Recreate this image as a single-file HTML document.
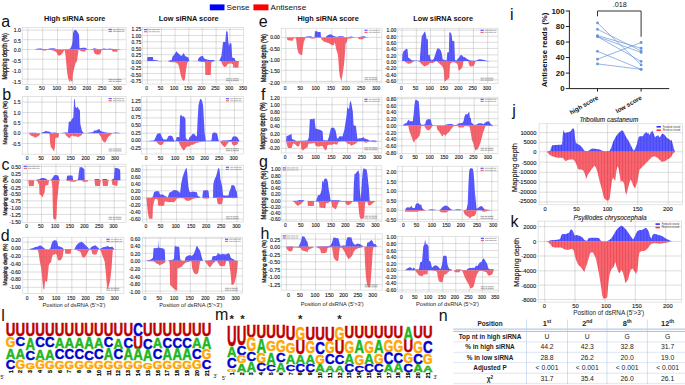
<!DOCTYPE html>
<html><head><meta charset="utf-8"><style>
html,body{margin:0;padding:0;background:#fff;}
body{width:685px;height:385px;overflow:hidden;font-family:"Liberation Sans", sans-serif;}
svg{display:block;}
text{font-family:"Liberation Sans", sans-serif;}
</style></head><body>
<svg width="685" height="385" viewBox="0 0 685 385" font-family="Liberation Sans, sans-serif">
<defs><pattern id="sb" width="3.05" height="10" patternUnits="userSpaceOnUse"><rect x="0" y="0" width="0.8" height="10" fill="#0000e0" fill-opacity="0.3"/></pattern><pattern id="sr" width="3.05" height="10" patternUnits="userSpaceOnUse"><rect x="0" y="0" width="0.8" height="10" fill="#f00018" fill-opacity="0.3"/></pattern><pattern id="sb2" width="2.7" height="10" patternUnits="userSpaceOnUse"><rect x="0" y="0" width="0.6" height="10" fill="#0000e0" fill-opacity="0.18"/></pattern><pattern id="sr2" width="2.7" height="10" patternUnits="userSpaceOnUse"><rect x="0" y="0" width="0.6" height="10" fill="#f00018" fill-opacity="0.18"/></pattern></defs>
<rect width="685" height="385" fill="#fff"/>
<clipPath id="cl_aL"><rect x="22.2" y="27.3" width="103.9" height="57.3"/></clipPath>
<g clip-path="url(#cl_aL)">
<path d="M27.82 27.3V84.6M42.69 27.3V84.6M57.56 27.3V84.6M72.58 27.3V84.6M87.6 27.3V84.6M102.78 27.3V84.6M118.11 27.3V84.6M22.2 30.07H126.1M22.2 39.72H126.1M22.2 49.53H126.1M22.2 59.19H126.1M22.2 69.15H126.1M22.2 79.12H126.1" stroke="#e3e3e3" stroke-width="0.6" fill="none"/>
<path d="M26.6 49.53L26.6 49.53L35.03 49.53L35.8 49.07L38.86 48.61L41.16 48.46L42.69 48.92L48.06 48.92L49.59 48.46L52.66 48.31L54.96 48.61L56.49 49.23L62.62 49.38L67.98 49.23L70.28 48.46L71.05 46.93L71.82 45.09L72.58 41.56L73.04 33.13L73.81 30.83L74.88 29.76L75.95 30.07L77.18 31.6L78.25 33.13L79.02 34.66L79.48 47.69L80.25 48.15L82.55 47.69L84.84 47.69L86.38 48.15L87.14 49.23L89.44 49.53L92.51 48.92L94.04 48.31L95.57 48.46L97.11 48.92L100.17 49.23L101.71 48.92L104 48.46L105.54 48.77L107.84 48.92L109.37 48.46L110.9 48.77L113.97 49.07L117.03 49.23L120.1 49.53L120.1 49.53Z" fill="#5a5aff"/>
<path d="M26.6 49.53L26.6 49.53L35.03 49.53L35.8 49.07L38.86 48.61L41.16 48.46L42.69 48.92L48.06 48.92L49.59 48.46L52.66 48.31L54.96 48.61L56.49 49.23L62.62 49.38L67.98 49.23L70.28 48.46L71.05 46.93L71.82 45.09L72.58 41.56L73.04 33.13L73.81 30.83L74.88 29.76L75.95 30.07L77.18 31.6L78.25 33.13L79.02 34.66L79.48 47.69L80.25 48.15L82.55 47.69L84.84 47.69L86.38 48.15L87.14 49.23L89.44 49.53L92.51 48.92L94.04 48.31L95.57 48.46L97.11 48.92L100.17 49.23L101.71 48.92L104 48.46L105.54 48.77L107.84 48.92L109.37 48.46L110.9 48.77L113.97 49.07L117.03 49.23L120.1 49.53L120.1 49.53Z" fill="url(#sb2)"/>
<path d="M35.03 49.53L35.03 49.53L40.39 49.99L42.69 50.3L45.76 50.76L46.52 49.69L48.82 49.69L51.89 50.3L54.96 51.22L56.49 52.29L57.56 54.59L58.79 55.82L60.32 55.36L62.16 53.82L63.39 51.52L64.61 49.99L65.23 53.06L65.68 56.89L66.45 65.32L67.22 72.98L67.98 77.58L68.75 79.88L69.52 81.41L70.28 81.87L70.74 79.12L71.36 81.41L72.28 81.87L73.04 72.98L74.12 68.39L75.65 63.02L76.87 61.49L77.95 54.59L78.41 49.99L79.48 49.99L80.25 50.76L82.55 51.52L84.84 51.52L85.61 50.76L86.38 49.99L87.91 49.69L93.28 49.69L94.04 52.29L94.81 53.82L96.34 54.59L98.64 54.59L100.17 54.59L100.94 52.29L101.71 49.99L102.47 49.69L111.67 49.99L112.44 51.22L113.97 51.83L117.03 51.83L117.8 49.99L120.1 49.53L120.1 49.53Z" fill="#f6666f"/>
<path d="M35.03 49.53L35.03 49.53L40.39 49.99L42.69 50.3L45.76 50.76L46.52 49.69L48.82 49.69L51.89 50.3L54.96 51.22L56.49 52.29L57.56 54.59L58.79 55.82L60.32 55.36L62.16 53.82L63.39 51.52L64.61 49.99L65.23 53.06L65.68 56.89L66.45 65.32L67.22 72.98L67.98 77.58L68.75 79.88L69.52 81.41L70.28 81.87L70.74 79.12L71.36 81.41L72.28 81.87L73.04 72.98L74.12 68.39L75.65 63.02L76.87 61.49L77.95 54.59L78.41 49.99L79.48 49.99L80.25 50.76L82.55 51.52L84.84 51.52L85.61 50.76L86.38 49.99L87.91 49.69L93.28 49.69L94.04 52.29L94.81 53.82L96.34 54.59L98.64 54.59L100.17 54.59L100.94 52.29L101.71 49.99L102.47 49.69L111.67 49.99L112.44 51.22L113.97 51.83L117.03 51.83L117.8 49.99L120.1 49.53L120.1 49.53Z" fill="url(#sr2)"/>
<path d="M27.82 27.3V84.6M42.69 27.3V84.6M57.56 27.3V84.6M72.58 27.3V84.6M87.6 27.3V84.6M102.78 27.3V84.6M118.11 27.3V84.6M22.2 30.07H126.1M22.2 39.72H126.1M22.2 49.53H126.1M22.2 59.19H126.1M22.2 69.15H126.1M22.2 79.12H126.1" stroke="#777" stroke-opacity="0.22" stroke-width="0.6" fill="none"/>
</g>
<rect x="22.2" y="27.3" width="103.9" height="57.3" fill="none" stroke="#cfcfcf" stroke-width="0.6"/>
<rect x="108.6" y="28.8" width="3.2" height="1.2" fill="#5a5aff"/>
<rect x="108.6" y="30.9" width="3.2" height="1.2" fill="#f6666f"/>
<path d="M112.9 29.4h11.5M112.9 31.5h11.5" stroke="#888" stroke-width="0.6" stroke-dasharray="3 0.4 5 0.4 3"/>
<path d="M108.6 79.4h13M108.6 81.3h13" stroke="#777" stroke-width="0.65" stroke-dasharray="4 0.5 2 0.4 6 0.5"/>
<text x="20.9" y="32.14" font-size="5.1" text-anchor="end" fill="#1a1a1a" stroke="#1a1a1a" stroke-width="0.12">1.0</text>
<text x="20.9" y="42.64" font-size="5.1" text-anchor="end" fill="#1a1a1a" stroke="#1a1a1a" stroke-width="0.12">0.5</text>
<text x="20.9" y="52.14" font-size="5.1" text-anchor="end" fill="#1a1a1a" stroke="#1a1a1a" stroke-width="0.12">0.0</text>
<text x="20.9" y="63.04" font-size="5.1" text-anchor="end" fill="#1a1a1a" stroke="#1a1a1a" stroke-width="0.12">-0.5</text>
<text x="20.9" y="73.44" font-size="5.1" text-anchor="end" fill="#1a1a1a" stroke="#1a1a1a" stroke-width="0.12">-1.0</text>
<text x="20.9" y="83.74" font-size="5.1" text-anchor="end" fill="#1a1a1a" stroke="#1a1a1a" stroke-width="0.12">-1.5</text>
<text x="27.02" y="90.44" font-size="5.1" text-anchor="middle" fill="#1a1a1a" stroke="#1a1a1a" stroke-width="0.12">0</text>
<text x="41.89" y="90.44" font-size="5.1" text-anchor="middle" fill="#1a1a1a" stroke="#1a1a1a" stroke-width="0.12">50</text>
<text x="56.76" y="90.44" font-size="5.1" text-anchor="middle" fill="#1a1a1a" stroke="#1a1a1a" stroke-width="0.12">100</text>
<text x="71.78" y="90.44" font-size="5.1" text-anchor="middle" fill="#1a1a1a" stroke="#1a1a1a" stroke-width="0.12">150</text>
<text x="86.8" y="90.44" font-size="5.1" text-anchor="middle" fill="#1a1a1a" stroke="#1a1a1a" stroke-width="0.12">200</text>
<text x="101.98" y="90.44" font-size="5.1" text-anchor="middle" fill="#1a1a1a" stroke="#1a1a1a" stroke-width="0.12">250</text>
<text x="117.31" y="90.44" font-size="5.1" text-anchor="middle" fill="#1a1a1a" stroke="#1a1a1a" stroke-width="0.12">300</text>
<clipPath id="cl_aR"><rect x="142.5" y="27.5" width="100.9" height="56.5"/></clipPath>
<g clip-path="url(#cl_aR)">
<path d="M147.44 27.5V84M161.39 27.5V84M175.03 27.5V84M188.82 27.5V84M202.31 27.5V84M216.11 27.5V84M229.9 27.5V84M142.5 29.37H243.4M142.5 35.5H243.4M142.5 41.79H243.4M142.5 48.23H243.4M142.5 54.66H243.4M142.5 60.95H243.4M142.5 67.08H243.4M142.5 73.52H243.4M142.5 79.95H243.4" stroke="#e3e3e3" stroke-width="0.6" fill="none"/>
<path d="M147.13 60.95L147.13 60.95L147.44 57.12L152.96 57.12L153.26 60.03L154.8 60.03L157.86 60.49L158.63 60.95L167.82 60.95L171.66 60.03L172.42 56.66L173.19 55.89L175.03 53.59L175.95 52.06L176.71 51.29L177.48 52.82L178.55 53.59L180.09 55.12L181.16 55.89L182.39 55.12L183.15 53.28L183.92 53.59L185.14 55.89L186.68 56.66L188.52 57.42L189.28 60.95L197.71 60.95L198.48 58.19L200.01 56.66L202.01 55.89L203.08 55.89L203.84 58.19L205.38 58.96L207.68 59.72L209.98 60.03L213.04 60.03L214.57 60.49L215.34 60.95L219.17 60.95L220.4 58.19L221.47 55.89L222.24 48.99L223 42.09L224.54 42.09L225.3 42.09L226.07 32.13L226.84 30.6L227.6 32.13L228.37 42.86L229.14 45.93L229.9 42.86L231.44 43.63L232.2 57.42L233.73 57.88L234.81 58.19L235.27 60.49L236.03 60.95L239.1 60.95L239.1 60.95Z" fill="#5a5aff"/>
<path d="M147.13 60.95L147.13 60.95L147.44 57.12L152.96 57.12L153.26 60.03L154.8 60.03L157.86 60.49L158.63 60.95L167.82 60.95L171.66 60.03L172.42 56.66L173.19 55.89L175.03 53.59L175.95 52.06L176.71 51.29L177.48 52.82L178.55 53.59L180.09 55.12L181.16 55.89L182.39 55.12L183.15 53.28L183.92 53.59L185.14 55.89L186.68 56.66L188.52 57.42L189.28 60.95L197.71 60.95L198.48 58.19L200.01 56.66L202.01 55.89L203.08 55.89L203.84 58.19L205.38 58.96L207.68 59.72L209.98 60.03L213.04 60.03L214.57 60.49L215.34 60.95L219.17 60.95L220.4 58.19L221.47 55.89L222.24 48.99L223 42.09L224.54 42.09L225.3 42.09L226.07 32.13L226.84 30.6L227.6 32.13L228.37 42.86L229.14 45.93L229.9 42.86L231.44 43.63L232.2 57.42L233.73 57.88L234.81 58.19L235.27 60.49L236.03 60.95L239.1 60.95L239.1 60.95Z" fill="url(#sb2)"/>
<path d="M155.56 60.95L155.56 60.95L160.93 61.41L161.69 60.95L167.82 60.95L168.59 61.87L171.66 62.17L173.96 62.33L175.03 62.02L175.49 62.79L177.79 63.55L179.01 66.62L180.09 71.98L181.16 76.58L182.39 79.65L183.61 80.87L184.38 80.41L185.14 78.12L185.76 71.98L186.68 65.85L187.29 62.79L188.52 61.56L189.28 60.95L190.05 60.95L196.95 61.25L197.71 60.95L198.48 60.95L199.25 61.56L201.55 62.02L203.84 62.02L205.07 62.79L205.38 75.05L210.74 75.05L211.2 62.79L213.04 61.56L215.34 60.95L220.71 60.95L221.47 62.02L222.24 64.32L223.46 66.16L225 67.08L226.53 66.16L227.6 64.32L229.14 63.55L231.44 63.55L232.97 64.32L233.27 67.39L238.33 67.69L238.79 62.02L239.1 60.95L239.1 60.95Z" fill="#f6666f"/>
<path d="M155.56 60.95L155.56 60.95L160.93 61.41L161.69 60.95L167.82 60.95L168.59 61.87L171.66 62.17L173.96 62.33L175.03 62.02L175.49 62.79L177.79 63.55L179.01 66.62L180.09 71.98L181.16 76.58L182.39 79.65L183.61 80.87L184.38 80.41L185.14 78.12L185.76 71.98L186.68 65.85L187.29 62.79L188.52 61.56L189.28 60.95L190.05 60.95L196.95 61.25L197.71 60.95L198.48 60.95L199.25 61.56L201.55 62.02L203.84 62.02L205.07 62.79L205.38 75.05L210.74 75.05L211.2 62.79L213.04 61.56L215.34 60.95L220.71 60.95L221.47 62.02L222.24 64.32L223.46 66.16L225 67.08L226.53 66.16L227.6 64.32L229.14 63.55L231.44 63.55L232.97 64.32L233.27 67.39L238.33 67.69L238.79 62.02L239.1 60.95L239.1 60.95Z" fill="url(#sr2)"/>
<path d="M147.44 27.5V84M161.39 27.5V84M175.03 27.5V84M188.82 27.5V84M202.31 27.5V84M216.11 27.5V84M229.9 27.5V84M142.5 29.37H243.4M142.5 35.5H243.4M142.5 41.79H243.4M142.5 48.23H243.4M142.5 54.66H243.4M142.5 60.95H243.4M142.5 67.08H243.4M142.5 73.52H243.4M142.5 79.95H243.4" stroke="#777" stroke-opacity="0.22" stroke-width="0.6" fill="none"/>
</g>
<rect x="142.5" y="27.5" width="100.9" height="56.5" fill="none" stroke="#cfcfcf" stroke-width="0.6"/>
<rect x="144" y="29" width="3.2" height="1.2" fill="#5a5aff"/>
<rect x="144" y="31.1" width="3.2" height="1.2" fill="#f6666f"/>
<path d="M148.3 29.6h11.5M148.3 31.7h11.5" stroke="#888" stroke-width="0.6" stroke-dasharray="3 0.4 5 0.4 3"/>
<path d="M225.9 78.8h13M225.9 80.7h13" stroke="#777" stroke-width="0.65" stroke-dasharray="4 0.5 2 0.4 6 0.5"/>
<text x="141.2" y="31.38" font-size="4.95" text-anchor="end" fill="#1a1a1a" stroke="#1a1a1a" stroke-width="0.12">1.25</text>
<text x="141.2" y="37.89" font-size="4.95" text-anchor="end" fill="#1a1a1a" stroke="#1a1a1a" stroke-width="0.12">1.00</text>
<text x="141.2" y="44.4" font-size="4.95" text-anchor="end" fill="#1a1a1a" stroke="#1a1a1a" stroke-width="0.12">0.75</text>
<text x="141.2" y="50.91" font-size="4.95" text-anchor="end" fill="#1a1a1a" stroke="#1a1a1a" stroke-width="0.12">0.50</text>
<text x="141.2" y="57.42" font-size="4.95" text-anchor="end" fill="#1a1a1a" stroke="#1a1a1a" stroke-width="0.12">0.25</text>
<text x="141.2" y="63.93" font-size="4.95" text-anchor="end" fill="#1a1a1a" stroke="#1a1a1a" stroke-width="0.12">0.00</text>
<text x="141.2" y="70.44" font-size="4.95" text-anchor="end" fill="#1a1a1a" stroke="#1a1a1a" stroke-width="0.12">-0.25</text>
<text x="141.2" y="76.95" font-size="4.95" text-anchor="end" fill="#1a1a1a" stroke="#1a1a1a" stroke-width="0.12">-0.50</text>
<text x="141.2" y="83.46" font-size="4.95" text-anchor="end" fill="#1a1a1a" stroke="#1a1a1a" stroke-width="0.12">-0.75</text>
<text x="146.64" y="90.38" font-size="4.95" text-anchor="middle" fill="#1a1a1a" stroke="#1a1a1a" stroke-width="0.12">0</text>
<text x="160.59" y="90.38" font-size="4.95" text-anchor="middle" fill="#1a1a1a" stroke="#1a1a1a" stroke-width="0.12">50</text>
<text x="174.23" y="90.38" font-size="4.95" text-anchor="middle" fill="#1a1a1a" stroke="#1a1a1a" stroke-width="0.12">100</text>
<text x="188.02" y="90.38" font-size="4.95" text-anchor="middle" fill="#1a1a1a" stroke="#1a1a1a" stroke-width="0.12">150</text>
<text x="201.51" y="90.38" font-size="4.95" text-anchor="middle" fill="#1a1a1a" stroke="#1a1a1a" stroke-width="0.12">200</text>
<text x="215.31" y="90.38" font-size="4.95" text-anchor="middle" fill="#1a1a1a" stroke="#1a1a1a" stroke-width="0.12">250</text>
<text x="229.1" y="90.38" font-size="4.95" text-anchor="middle" fill="#1a1a1a" stroke="#1a1a1a" stroke-width="0.12">300</text>
<text x="242.9" y="90.38" font-size="4.95" text-anchor="middle" fill="#1a1a1a" stroke="#1a1a1a" stroke-width="0.12">350</text>
<clipPath id="cl_bL"><rect x="22.2" y="96.5" width="103.9" height="57.7"/></clipPath>
<g clip-path="url(#cl_bL)">
<path d="M27.82 96.5V154.2M41.93 96.5V154.2M56.49 96.5V154.2M71.36 96.5V154.2M86.38 96.5V154.2M101.4 96.5V154.2M115.81 96.5V154.2M22.2 102.13H126.1M22.2 112.55H126.1M22.2 122.82H126.1M22.2 133.25H126.1M22.2 143.52H126.1" stroke="#e3e3e3" stroke-width="0.6" fill="none"/>
<path d="M28.9 133.25L28.9 133.25L29.66 132.79L35.8 132.79L37.33 133.25L41.16 133.25L41.93 132.48L44.23 131.71L45.76 130.95L48.06 131.56L50.36 132.02L51.12 132.79L52.66 132.79L54.96 132.48L56.49 132.79L58.79 133.25L61.85 133.09L64.92 132.48L67.98 132.48L68.75 122.06L70.74 121.29L71.82 118.99L73.35 117.46L74.12 99.37L74.88 99.07L75.34 106.73L76.41 108.26L77.18 106.73L77.95 107.5L78.71 109.03L79.94 110.56L80.25 123.59L81.01 126.66L81.78 130.49L83.31 132.79L86.38 133.25L87.91 132.79L90.98 132.48L93.28 132.02L94.04 130.49L96.34 130.49L97.87 129.42L99.41 128.96L100.17 130.49L101.71 131.56L104 132.02L105.54 132.48L107.84 132.79L112.44 133.09L115.5 132.48L118.57 132.79L120.87 133.25L120.87 133.25Z" fill="#5a5aff"/>
<path d="M28.9 133.25L28.9 133.25L29.66 132.79L35.8 132.79L37.33 133.25L41.16 133.25L41.93 132.48L44.23 131.71L45.76 130.95L48.06 131.56L50.36 132.02L51.12 132.79L52.66 132.79L54.96 132.48L56.49 132.79L58.79 133.25L61.85 133.09L64.92 132.48L67.98 132.48L68.75 122.06L70.74 121.29L71.82 118.99L73.35 117.46L74.12 99.37L74.88 99.07L75.34 106.73L76.41 108.26L77.18 106.73L77.95 107.5L78.71 109.03L79.94 110.56L80.25 123.59L81.01 126.66L81.78 130.49L83.31 132.79L86.38 133.25L87.91 132.79L90.98 132.48L93.28 132.02L94.04 130.49L96.34 130.49L97.87 129.42L99.41 128.96L100.17 130.49L101.71 131.56L104 132.02L105.54 132.48L107.84 132.79L112.44 133.09L115.5 132.48L118.57 132.79L120.87 133.25L120.87 133.25Z" fill="url(#sb2)"/>
<path d="M28.9 133.25L28.9 133.25L29.66 134.32L31.2 135.85L33.5 136.62L35.03 137.69L36.56 137.08L38.09 136.16L39.63 135.09L40.09 133.25L48.82 133.25L49.59 135.09L50.05 141.98L50.82 147.35L51.89 148.12L53.12 150.41L54.19 150.87L54.96 146.58L55.42 138.15L56.49 137.39L58.02 137.69L58.79 136.62L59.09 133.25L64.92 133.25L65.68 135.09L67.22 136.62L68.75 137.69L69.82 138.61L70.74 136.16L72.58 135.55L74.12 136.62L75.65 136.16L77.95 137.08L79.94 136.16L81.78 135.09L83.01 133.25L98.64 133.25L99.41 135.09L100.94 136.62L101.71 138.92L102.93 141.22L104 141.98L105.08 142.75L106 141.22L107.07 138.92L108.6 136.62L110.6 135.09L111.67 134.01L112.44 133.25L112.44 133.25Z" fill="#f6666f"/>
<path d="M28.9 133.25L28.9 133.25L29.66 134.32L31.2 135.85L33.5 136.62L35.03 137.69L36.56 137.08L38.09 136.16L39.63 135.09L40.09 133.25L48.82 133.25L49.59 135.09L50.05 141.98L50.82 147.35L51.89 148.12L53.12 150.41L54.19 150.87L54.96 146.58L55.42 138.15L56.49 137.39L58.02 137.69L58.79 136.62L59.09 133.25L64.92 133.25L65.68 135.09L67.22 136.62L68.75 137.69L69.82 138.61L70.74 136.16L72.58 135.55L74.12 136.62L75.65 136.16L77.95 137.08L79.94 136.16L81.78 135.09L83.01 133.25L98.64 133.25L99.41 135.09L100.94 136.62L101.71 138.92L102.93 141.22L104 141.98L105.08 142.75L106 141.22L107.07 138.92L108.6 136.62L110.6 135.09L111.67 134.01L112.44 133.25L112.44 133.25Z" fill="url(#sr2)"/>
<path d="M27.82 96.5V154.2M41.93 96.5V154.2M56.49 96.5V154.2M71.36 96.5V154.2M86.38 96.5V154.2M101.4 96.5V154.2M115.81 96.5V154.2M22.2 102.13H126.1M22.2 112.55H126.1M22.2 122.82H126.1M22.2 133.25H126.1M22.2 143.52H126.1" stroke="#777" stroke-opacity="0.22" stroke-width="0.6" fill="none"/>
</g>
<rect x="22.2" y="96.5" width="103.9" height="57.7" fill="none" stroke="#cfcfcf" stroke-width="0.6"/>
<rect x="108.6" y="98" width="3.2" height="1.2" fill="#5a5aff"/>
<rect x="108.6" y="100.1" width="3.2" height="1.2" fill="#f6666f"/>
<path d="M112.9 98.6h11.5M112.9 100.7h11.5" stroke="#888" stroke-width="0.6" stroke-dasharray="3 0.4 5 0.4 3"/>
<path d="M108.6 149h13M108.6 150.9h13" stroke="#777" stroke-width="0.65" stroke-dasharray="4 0.5 2 0.4 6 0.5"/>
<text x="20.4" y="104.28" font-size="4.95" text-anchor="end" fill="#1a1a1a" stroke="#1a1a1a" stroke-width="0.12">1.5</text>
<text x="20.4" y="114.68" font-size="4.95" text-anchor="end" fill="#1a1a1a" stroke="#1a1a1a" stroke-width="0.12">1.0</text>
<text x="20.4" y="125.08" font-size="4.95" text-anchor="end" fill="#1a1a1a" stroke="#1a1a1a" stroke-width="0.12">0.5</text>
<text x="20.4" y="135.48" font-size="4.95" text-anchor="end" fill="#1a1a1a" stroke="#1a1a1a" stroke-width="0.12">0.0</text>
<text x="20.4" y="145.88" font-size="4.95" text-anchor="end" fill="#1a1a1a" stroke="#1a1a1a" stroke-width="0.12">-0.5</text>
<text x="27.02" y="159.58" font-size="4.95" text-anchor="middle" fill="#1a1a1a" stroke="#1a1a1a" stroke-width="0.12">0</text>
<text x="41.13" y="159.58" font-size="4.95" text-anchor="middle" fill="#1a1a1a" stroke="#1a1a1a" stroke-width="0.12">50</text>
<text x="55.69" y="159.58" font-size="4.95" text-anchor="middle" fill="#1a1a1a" stroke="#1a1a1a" stroke-width="0.12">100</text>
<text x="70.56" y="159.58" font-size="4.95" text-anchor="middle" fill="#1a1a1a" stroke="#1a1a1a" stroke-width="0.12">150</text>
<text x="85.58" y="159.58" font-size="4.95" text-anchor="middle" fill="#1a1a1a" stroke="#1a1a1a" stroke-width="0.12">200</text>
<text x="100.6" y="159.58" font-size="4.95" text-anchor="middle" fill="#1a1a1a" stroke="#1a1a1a" stroke-width="0.12">250</text>
<text x="115.01" y="159.58" font-size="4.95" text-anchor="middle" fill="#1a1a1a" stroke="#1a1a1a" stroke-width="0.12">300</text>
<clipPath id="cl_bR"><rect x="141.5" y="96.6" width="101.9" height="57.4"/></clipPath>
<g clip-path="url(#cl_bR)">
<path d="M146.82 96.6V154M161.23 96.6V154M175.95 96.6V154M190.82 96.6V154M205.38 96.6V154M219.94 96.6V154M234.5 96.6V154M141.5 102.13H243.4M141.5 110.1H243.4M141.5 117.92H243.4M141.5 125.58H243.4M141.5 133.25H243.4M141.5 141.22H243.4M141.5 148.88H243.4" stroke="#e3e3e3" stroke-width="0.6" fill="none"/>
<path d="M147.13 141.22L147.13 141.22L150.2 140.76L154.03 140.45L155.56 137.39L157.09 134.01L158.63 133.25L160.62 133.55L161.69 136.62L163.23 139.23L165.52 139.68L167.06 138.92L168.28 136.16L170.12 135.55L172.42 136.16L173.5 138.92L173.96 140.45L174.72 140.76L175.95 140.45L176.56 137.08L178.55 137.08L179.32 137.39L180.09 115.93L181.16 114.39L182.08 116.69L183.15 115.93L184.68 117.46L185.45 118.99L185.76 137.39L186.98 139.68L188.52 139.68L189.74 137.08L190.82 136.16L192.35 134.32L193.88 133.55L195.41 135.55L196.95 136.62L197.71 118.99L198.48 105.2L199.25 102.13L200.01 99.37L200.78 99.07L202.01 100.6L203.08 105.2L203.84 118.99L204.61 132.79L205.38 137.39L205.68 140.45L208.44 140.76L210.74 140.45L211.51 140.14L212.28 133.55L213.81 132.48L216.11 132.79L217.33 134.32L218.41 139.68L219.17 141.22L220.71 141.22L222.24 140.45L224.54 140.45L228.37 140.14L231.44 139.68L232.66 137.08L233.73 136.16L236.03 136.62L237.57 137.39L239.1 140.45L239.41 141.22L239.41 141.22Z" fill="#5a5aff"/>
<path d="M147.13 141.22L147.13 141.22L150.2 140.76L154.03 140.45L155.56 137.39L157.09 134.01L158.63 133.25L160.62 133.55L161.69 136.62L163.23 139.23L165.52 139.68L167.06 138.92L168.28 136.16L170.12 135.55L172.42 136.16L173.5 138.92L173.96 140.45L174.72 140.76L175.95 140.45L176.56 137.08L178.55 137.08L179.32 137.39L180.09 115.93L181.16 114.39L182.08 116.69L183.15 115.93L184.68 117.46L185.45 118.99L185.76 137.39L186.98 139.68L188.52 139.68L189.74 137.08L190.82 136.16L192.35 134.32L193.88 133.55L195.41 135.55L196.95 136.62L197.71 118.99L198.48 105.2L199.25 102.13L200.01 99.37L200.78 99.07L202.01 100.6L203.08 105.2L203.84 118.99L204.61 132.79L205.38 137.39L205.68 140.45L208.44 140.76L210.74 140.45L211.51 140.14L212.28 133.55L213.81 132.48L216.11 132.79L217.33 134.32L218.41 139.68L219.17 141.22L220.71 141.22L222.24 140.45L224.54 140.45L228.37 140.14L231.44 139.68L232.66 137.08L233.73 136.16L236.03 136.62L237.57 137.39L239.1 140.45L239.41 141.22L239.41 141.22Z" fill="url(#sb2)"/>
<path d="M156.33 141.22L156.33 141.22L157.09 142.75L158.63 144.28L160.16 145.05L161.69 145.05L163.23 143.52L163.99 142.29L165.52 141.68L170.12 141.68L173.96 141.98L174.72 141.22L178.55 141.22L179.32 143.52L180.85 146.58L182.39 148.88L183.61 150.41L184.68 149.65L185.45 148.12L186.98 146.58L189.28 146.58L190.82 145.05L193.12 144.74L195.41 143.21L197.41 142.75L199.25 142.29L202.31 141.68L205.38 141.22L219.94 141.22L220.71 142.75L222.24 145.05L223.77 146.58L225 147.04L226.07 145.82L227.6 143.52L229.14 141.68L231.44 141.98L232.2 144.28L233.73 145.82L236.03 145.05L237.57 144.28L238.33 141.98L239.1 141.22L239.1 141.22Z" fill="#f6666f"/>
<path d="M156.33 141.22L156.33 141.22L157.09 142.75L158.63 144.28L160.16 145.05L161.69 145.05L163.23 143.52L163.99 142.29L165.52 141.68L170.12 141.68L173.96 141.98L174.72 141.22L178.55 141.22L179.32 143.52L180.85 146.58L182.39 148.88L183.61 150.41L184.68 149.65L185.45 148.12L186.98 146.58L189.28 146.58L190.82 145.05L193.12 144.74L195.41 143.21L197.41 142.75L199.25 142.29L202.31 141.68L205.38 141.22L219.94 141.22L220.71 142.75L222.24 145.05L223.77 146.58L225 147.04L226.07 145.82L227.6 143.52L229.14 141.68L231.44 141.98L232.2 144.28L233.73 145.82L236.03 145.05L237.57 144.28L238.33 141.98L239.1 141.22L239.1 141.22Z" fill="url(#sr2)"/>
<path d="M146.82 96.6V154M161.23 96.6V154M175.95 96.6V154M190.82 96.6V154M205.38 96.6V154M219.94 96.6V154M234.5 96.6V154M141.5 102.13H243.4M141.5 110.1H243.4M141.5 117.92H243.4M141.5 125.58H243.4M141.5 133.25H243.4M141.5 141.22H243.4M141.5 148.88H243.4" stroke="#777" stroke-opacity="0.22" stroke-width="0.6" fill="none"/>
</g>
<rect x="141.5" y="96.6" width="101.9" height="57.4" fill="none" stroke="#cfcfcf" stroke-width="0.6"/>
<rect x="225.9" y="98.1" width="3.2" height="1.2" fill="#5a5aff"/>
<rect x="225.9" y="100.2" width="3.2" height="1.2" fill="#f6666f"/>
<path d="M230.2 98.7h11.5M230.2 100.8h11.5" stroke="#888" stroke-width="0.6" stroke-dasharray="3 0.4 5 0.4 3"/>
<path d="M225.9 148.8h13M225.9 150.7h13" stroke="#777" stroke-width="0.65" stroke-dasharray="4 0.5 2 0.4 6 0.5"/>
<text x="140.8" y="103.08" font-size="4.95" text-anchor="end" fill="#1a1a1a" stroke="#1a1a1a" stroke-width="0.12">1.25</text>
<text x="140.8" y="110.96" font-size="4.95" text-anchor="end" fill="#1a1a1a" stroke="#1a1a1a" stroke-width="0.12">1.00</text>
<text x="140.8" y="118.84" font-size="4.95" text-anchor="end" fill="#1a1a1a" stroke="#1a1a1a" stroke-width="0.12">0.75</text>
<text x="140.8" y="126.72" font-size="4.95" text-anchor="end" fill="#1a1a1a" stroke="#1a1a1a" stroke-width="0.12">0.50</text>
<text x="140.8" y="134.6" font-size="4.95" text-anchor="end" fill="#1a1a1a" stroke="#1a1a1a" stroke-width="0.12">0.25</text>
<text x="140.8" y="142.48" font-size="4.95" text-anchor="end" fill="#1a1a1a" stroke="#1a1a1a" stroke-width="0.12">0.00</text>
<text x="140.8" y="150.36" font-size="4.95" text-anchor="end" fill="#1a1a1a" stroke="#1a1a1a" stroke-width="0.12">-0.25</text>
<text x="146.02" y="159.58" font-size="4.95" text-anchor="middle" fill="#1a1a1a" stroke="#1a1a1a" stroke-width="0.12">0</text>
<text x="160.43" y="159.58" font-size="4.95" text-anchor="middle" fill="#1a1a1a" stroke="#1a1a1a" stroke-width="0.12">50</text>
<text x="175.15" y="159.58" font-size="4.95" text-anchor="middle" fill="#1a1a1a" stroke="#1a1a1a" stroke-width="0.12">100</text>
<text x="190.02" y="159.58" font-size="4.95" text-anchor="middle" fill="#1a1a1a" stroke="#1a1a1a" stroke-width="0.12">150</text>
<text x="204.58" y="159.58" font-size="4.95" text-anchor="middle" fill="#1a1a1a" stroke="#1a1a1a" stroke-width="0.12">200</text>
<text x="219.14" y="159.58" font-size="4.95" text-anchor="middle" fill="#1a1a1a" stroke="#1a1a1a" stroke-width="0.12">250</text>
<text x="233.7" y="159.58" font-size="4.95" text-anchor="middle" fill="#1a1a1a" stroke="#1a1a1a" stroke-width="0.12">300</text>
<clipPath id="cl_cL"><rect x="22.2" y="164.2" width="103.8" height="58.3"/></clipPath>
<g clip-path="url(#cl_cL)">
<path d="M27.45 164.2V222.5M41.47 164.2V222.5M55.96 164.2V222.5M70.61 164.2V222.5M85.09 164.2V222.5M99.89 164.2V222.5M114.23 164.2V222.5M22.2 166.43H126M22.2 173.44H126M22.2 180.14H126M22.2 187.15H126M22.2 193.85H126M22.2 200.86H126M22.2 207.71H126M22.2 214.41H126" stroke="#e3e3e3" stroke-width="0.6" fill="none"/>
<path d="M35.24 180.14L35.24 180.14L36.8 179.67L39.14 179.36L40.69 178.58L41.47 177.96L43.81 178.11L45.37 178.58L46.61 179.36L47.7 180.14L50.04 180.14L51.6 179.36L53.16 177.02L53.94 175.46L55.49 175L57.52 175.15L58.61 176.24L59.08 179.36L60.17 180.14L66.4 180.14L67.18 175.77L68.74 175.46L71.85 175.46L72.63 175.77L73.1 180.14L76.53 180.14L78.08 179.36L78.86 172.35L79.64 167.36L81.98 167.36L83.54 168.45L84.32 169.23L84.63 180.14L94.44 180.14L94.91 179.05L99.11 179.05L99.89 180.14L102.23 180.14L102.7 179.05L106.9 179.05L107.68 180.14L111.58 180.14L112.36 179.36L113.91 178.58L114.69 167.67L116.25 167.99L118.59 168.45L120.15 170.01L120.46 180.14L120.46 180.14Z" fill="#5a5aff"/>
<path d="M35.24 180.14L35.24 180.14L36.8 179.67L39.14 179.36L40.69 178.58L41.47 177.96L43.81 178.11L45.37 178.58L46.61 179.36L47.7 180.14L50.04 180.14L51.6 179.36L53.16 177.02L53.94 175.46L55.49 175L57.52 175.15L58.61 176.24L59.08 179.36L60.17 180.14L66.4 180.14L67.18 175.77L68.74 175.46L71.85 175.46L72.63 175.77L73.1 180.14L76.53 180.14L78.08 179.36L78.86 172.35L79.64 167.36L81.98 167.36L83.54 168.45L84.32 169.23L84.63 180.14L94.44 180.14L94.91 179.05L99.11 179.05L99.89 180.14L102.23 180.14L102.7 179.05L106.9 179.05L107.68 180.14L111.58 180.14L112.36 179.36L113.91 178.58L114.69 167.67L116.25 167.99L118.59 168.45L120.15 170.01L120.46 180.14L120.46 180.14Z" fill="url(#sb2)"/>
<path d="M28.23 180.14L28.23 180.14L29.01 185.9L33.68 185.9L34.15 181.69L34.46 180.14L36.02 180.14L37.58 181.69L39.14 184.81L39.45 194.16L40.69 194.94L41.47 196.03L42.25 197.27L43.03 196.49L43.81 193.38L44.59 192.6L45.06 186.37L46.15 185.59L46.93 184.81L48.17 185.59L48.8 181.69L49.26 180.14L50.82 180.14L51.6 180.92L52.38 187.93L52.85 209.74L53.16 217.84L53.94 219.4L55.49 219.4L56.27 218.3L56.58 214.41L57.05 201.95L57.83 194.16L58.61 186.37L59.39 180.45L60.17 180.14L66.4 180.14L67.18 180.92L70.29 181.23L71.07 181.69L74.97 181.69L76.53 180.92L77.3 180.14L81.98 180.14L82.76 181.69L87.43 181.69L88.21 180.14L94.44 180.14L95.22 185.9L99.89 185.9L100.67 180.92L101.45 180.14L102.23 180.14L103.01 185.9L107.68 185.9L108.46 180.92L109.24 180.14L111.58 180.14L112.36 184.81L114.69 185.28L116.25 185.9L117.34 185.59L117.81 180.92L118.59 180.14L118.59 180.14Z" fill="#f6666f"/>
<path d="M28.23 180.14L28.23 180.14L29.01 185.9L33.68 185.9L34.15 181.69L34.46 180.14L36.02 180.14L37.58 181.69L39.14 184.81L39.45 194.16L40.69 194.94L41.47 196.03L42.25 197.27L43.03 196.49L43.81 193.38L44.59 192.6L45.06 186.37L46.15 185.59L46.93 184.81L48.17 185.59L48.8 181.69L49.26 180.14L50.82 180.14L51.6 180.92L52.38 187.93L52.85 209.74L53.16 217.84L53.94 219.4L55.49 219.4L56.27 218.3L56.58 214.41L57.05 201.95L57.83 194.16L58.61 186.37L59.39 180.45L60.17 180.14L66.4 180.14L67.18 180.92L70.29 181.23L71.07 181.69L74.97 181.69L76.53 180.92L77.3 180.14L81.98 180.14L82.76 181.69L87.43 181.69L88.21 180.14L94.44 180.14L95.22 185.9L99.89 185.9L100.67 180.92L101.45 180.14L102.23 180.14L103.01 185.9L107.68 185.9L108.46 180.92L109.24 180.14L111.58 180.14L112.36 184.81L114.69 185.28L116.25 185.9L117.34 185.59L117.81 180.92L118.59 180.14L118.59 180.14Z" fill="url(#sr2)"/>
<path d="M27.45 164.2V222.5M41.47 164.2V222.5M55.96 164.2V222.5M70.61 164.2V222.5M85.09 164.2V222.5M99.89 164.2V222.5M114.23 164.2V222.5M22.2 166.43H126M22.2 173.44H126M22.2 180.14H126M22.2 187.15H126M22.2 193.85H126M22.2 200.86H126M22.2 207.71H126M22.2 214.41H126" stroke="#777" stroke-opacity="0.22" stroke-width="0.6" fill="none"/>
</g>
<rect x="22.2" y="164.2" width="103.8" height="58.3" fill="none" stroke="#cfcfcf" stroke-width="0.6"/>
<rect x="23.7" y="165.7" width="3.2" height="1.2" fill="#5a5aff"/>
<rect x="23.7" y="167.8" width="3.2" height="1.2" fill="#f6666f"/>
<path d="M28 166.3h11.5M28 168.4h11.5" stroke="#888" stroke-width="0.6" stroke-dasharray="3 0.4 5 0.4 3"/>
<path d="M108.5 217.3h13M108.5 219.2h13" stroke="#777" stroke-width="0.65" stroke-dasharray="4 0.5 2 0.4 6 0.5"/>
<text x="20.8" y="168.68" font-size="4.95" text-anchor="end" fill="#1a1a1a" stroke="#1a1a1a" stroke-width="0.12">0.50</text>
<text x="20.8" y="175.62" font-size="4.95" text-anchor="end" fill="#1a1a1a" stroke="#1a1a1a" stroke-width="0.12">0.25</text>
<text x="20.8" y="182.56" font-size="4.95" text-anchor="end" fill="#1a1a1a" stroke="#1a1a1a" stroke-width="0.12">0.00</text>
<text x="20.8" y="189.5" font-size="4.95" text-anchor="end" fill="#1a1a1a" stroke="#1a1a1a" stroke-width="0.12">-0.25</text>
<text x="20.8" y="196.44" font-size="4.95" text-anchor="end" fill="#1a1a1a" stroke="#1a1a1a" stroke-width="0.12">-0.50</text>
<text x="20.8" y="203.38" font-size="4.95" text-anchor="end" fill="#1a1a1a" stroke="#1a1a1a" stroke-width="0.12">-0.75</text>
<text x="20.8" y="210.32" font-size="4.95" text-anchor="end" fill="#1a1a1a" stroke="#1a1a1a" stroke-width="0.12">-1.00</text>
<text x="20.8" y="217.26" font-size="4.95" text-anchor="end" fill="#1a1a1a" stroke="#1a1a1a" stroke-width="0.12">-1.25</text>
<text x="20.8" y="224.2" font-size="4.95" text-anchor="end" fill="#1a1a1a" stroke="#1a1a1a" stroke-width="0.12">-1.50</text>
<text x="26.65" y="227.98" font-size="4.95" text-anchor="middle" fill="#1a1a1a" stroke="#1a1a1a" stroke-width="0.12">0</text>
<text x="40.67" y="227.98" font-size="4.95" text-anchor="middle" fill="#1a1a1a" stroke="#1a1a1a" stroke-width="0.12">50</text>
<text x="55.16" y="227.98" font-size="4.95" text-anchor="middle" fill="#1a1a1a" stroke="#1a1a1a" stroke-width="0.12">100</text>
<text x="69.81" y="227.98" font-size="4.95" text-anchor="middle" fill="#1a1a1a" stroke="#1a1a1a" stroke-width="0.12">150</text>
<text x="84.29" y="227.98" font-size="4.95" text-anchor="middle" fill="#1a1a1a" stroke="#1a1a1a" stroke-width="0.12">200</text>
<text x="99.09" y="227.98" font-size="4.95" text-anchor="middle" fill="#1a1a1a" stroke="#1a1a1a" stroke-width="0.12">250</text>
<text x="113.43" y="227.98" font-size="4.95" text-anchor="middle" fill="#1a1a1a" stroke="#1a1a1a" stroke-width="0.12">300</text>
<clipPath id="cl_cR"><rect x="142.2" y="165.2" width="101.1" height="56.8"/></clipPath>
<g clip-path="url(#cl_cR)">
<path d="M146.67 165.2V222M161.39 165.2V222M176.56 165.2V222M191.89 165.2V222M206.91 165.2V222M221.93 165.2V222M237.11 165.2V222M142.2 169.82H243.3M142.2 177.03H243.3M142.2 183.93H243.3M142.2 190.82H243.3M142.2 197.72H243.3M142.2 205.08H243.3M142.2 212.28H243.3M142.2 219.18H243.3" stroke="#e3e3e3" stroke-width="0.6" fill="none"/>
<path d="M151.73 197.72L151.73 197.72L152.96 196.19L154.03 192.36L155.56 191.28L159.09 191.28L159.7 193.89L160.93 194.66L162.46 194.35L163.99 195.42L166.29 196.5L167.82 197.42L168.59 194.66L169.36 192.82L171.66 191.59L173.96 190.06L176.25 190.36L178.55 191.59L180.09 193.12L181.16 183.93L182.39 177.8L183.92 173.2L185.45 169.36L186.52 167.83L187.29 173.2L187.75 179.33L188.52 186.99L189.28 191.59L190.82 192.36L193.12 191.59L194.65 191.9L196.95 192.36L197.71 195.88L199.25 196.5L200.78 197.72L202.31 197.72L203.08 190.82L205.38 190.36L207.68 190.36L208.44 191.28L209.21 197.72L213.04 197.72L213.35 183.93L214.57 179.33L216.11 176.26L217.64 170.13L218.41 167.83L219.48 169.36L220.4 179.33L221.01 181.63L222.24 186.99L223 194.66L223.77 195.42L228.37 195.42L229.14 192.36L230.67 188.52L231.44 185.15L233.73 185.15L234.81 186.23L236.03 190.82L236.8 191.59L237.57 197.72L237.57 197.72Z" fill="#5a5aff"/>
<path d="M151.73 197.72L151.73 197.72L152.96 196.19L154.03 192.36L155.56 191.28L159.09 191.28L159.7 193.89L160.93 194.66L162.46 194.35L163.99 195.42L166.29 196.5L167.82 197.42L168.59 194.66L169.36 192.82L171.66 191.59L173.96 190.06L176.25 190.36L178.55 191.59L180.09 193.12L181.16 183.93L182.39 177.8L183.92 173.2L185.45 169.36L186.52 167.83L187.29 173.2L187.75 179.33L188.52 186.99L189.28 191.59L190.82 192.36L193.12 191.59L194.65 191.9L196.95 192.36L197.71 195.88L199.25 196.5L200.78 197.72L202.31 197.72L203.08 190.82L205.38 190.36L207.68 190.36L208.44 191.28L209.21 197.72L213.04 197.72L213.35 183.93L214.57 179.33L216.11 176.26L217.64 170.13L218.41 167.83L219.48 169.36L220.4 179.33L221.01 181.63L222.24 186.99L223 194.66L223.77 195.42L228.37 195.42L229.14 192.36L230.67 188.52L231.44 185.15L233.73 185.15L234.81 186.23L236.03 190.82L236.8 191.59L237.57 197.72L237.57 197.72Z" fill="url(#sb2)"/>
<path d="M146.36 197.72L146.36 197.72L147.13 205.39L147.9 213.05L148.66 216.88L149.43 218.87L152.5 218.87L152.96 206.92L154.03 202.32L154.8 199.25L155.56 198.95L157.09 198.95L157.86 200.79L158.17 205.69L163.99 205.69L164.76 201.55L166.29 201.55L167.82 202.01L169.36 202.32L170.89 202.01L173.96 202.32L175.49 200.79L176.25 199.25L177.02 198.49L180.85 198.03L183.92 198.49L185.45 200.02L186.98 200.79L189.28 200.79L190.82 200.02L192.35 198.95L193.88 198.49L196.95 198.03L197.71 197.72L202.31 197.72L203.84 198.49L208.44 198.49L209.21 197.72L216.87 197.72L217.33 203.09L218.41 204.16L221.47 204.16L222.24 203.09L223 198.49L223.77 197.72L231.44 197.72L232.97 198.18L236.03 198.03L236.8 197.72L236.8 197.72Z" fill="#f6666f"/>
<path d="M146.36 197.72L146.36 197.72L147.13 205.39L147.9 213.05L148.66 216.88L149.43 218.87L152.5 218.87L152.96 206.92L154.03 202.32L154.8 199.25L155.56 198.95L157.09 198.95L157.86 200.79L158.17 205.69L163.99 205.69L164.76 201.55L166.29 201.55L167.82 202.01L169.36 202.32L170.89 202.01L173.96 202.32L175.49 200.79L176.25 199.25L177.02 198.49L180.85 198.03L183.92 198.49L185.45 200.02L186.98 200.79L189.28 200.79L190.82 200.02L192.35 198.95L193.88 198.49L196.95 198.03L197.71 197.72L202.31 197.72L203.84 198.49L208.44 198.49L209.21 197.72L216.87 197.72L217.33 203.09L218.41 204.16L221.47 204.16L222.24 203.09L223 198.49L223.77 197.72L231.44 197.72L232.97 198.18L236.03 198.03L236.8 197.72L236.8 197.72Z" fill="url(#sr2)"/>
<path d="M146.67 165.2V222M161.39 165.2V222M176.56 165.2V222M191.89 165.2V222M206.91 165.2V222M221.93 165.2V222M237.11 165.2V222M142.2 169.82H243.3M142.2 177.03H243.3M142.2 183.93H243.3M142.2 190.82H243.3M142.2 197.72H243.3M142.2 205.08H243.3M142.2 212.28H243.3M142.2 219.18H243.3" stroke="#777" stroke-opacity="0.22" stroke-width="0.6" fill="none"/>
</g>
<rect x="142.2" y="165.2" width="101.1" height="56.8" fill="none" stroke="#cfcfcf" stroke-width="0.6"/>
<rect x="225.8" y="166.7" width="3.2" height="1.2" fill="#5a5aff"/>
<rect x="225.8" y="168.8" width="3.2" height="1.2" fill="#f6666f"/>
<path d="M230.1 167.3h11.5M230.1 169.4h11.5" stroke="#888" stroke-width="0.6" stroke-dasharray="3 0.4 5 0.4 3"/>
<path d="M225.8 216.8h13M225.8 218.7h13" stroke="#777" stroke-width="0.65" stroke-dasharray="4 0.5 2 0.4 6 0.5"/>
<text x="140.6" y="171.78" font-size="4.95" text-anchor="end" fill="#1a1a1a" stroke="#1a1a1a" stroke-width="0.12">0.80</text>
<text x="140.6" y="178.85" font-size="4.95" text-anchor="end" fill="#1a1a1a" stroke="#1a1a1a" stroke-width="0.12">0.60</text>
<text x="140.6" y="185.92" font-size="4.95" text-anchor="end" fill="#1a1a1a" stroke="#1a1a1a" stroke-width="0.12">0.40</text>
<text x="140.6" y="192.99" font-size="4.95" text-anchor="end" fill="#1a1a1a" stroke="#1a1a1a" stroke-width="0.12">0.20</text>
<text x="140.6" y="200.06" font-size="4.95" text-anchor="end" fill="#1a1a1a" stroke="#1a1a1a" stroke-width="0.12">0.00</text>
<text x="140.6" y="207.13" font-size="4.95" text-anchor="end" fill="#1a1a1a" stroke="#1a1a1a" stroke-width="0.12">-0.20</text>
<text x="140.6" y="214.2" font-size="4.95" text-anchor="end" fill="#1a1a1a" stroke="#1a1a1a" stroke-width="0.12">-0.40</text>
<text x="140.6" y="221.27" font-size="4.95" text-anchor="end" fill="#1a1a1a" stroke="#1a1a1a" stroke-width="0.12">-0.60</text>
<text x="145.87" y="227.98" font-size="4.95" text-anchor="middle" fill="#1a1a1a" stroke="#1a1a1a" stroke-width="0.12">0</text>
<text x="160.59" y="227.98" font-size="4.95" text-anchor="middle" fill="#1a1a1a" stroke="#1a1a1a" stroke-width="0.12">50</text>
<text x="175.76" y="227.98" font-size="4.95" text-anchor="middle" fill="#1a1a1a" stroke="#1a1a1a" stroke-width="0.12">100</text>
<text x="191.09" y="227.98" font-size="4.95" text-anchor="middle" fill="#1a1a1a" stroke="#1a1a1a" stroke-width="0.12">150</text>
<text x="206.11" y="227.98" font-size="4.95" text-anchor="middle" fill="#1a1a1a" stroke="#1a1a1a" stroke-width="0.12">200</text>
<text x="221.13" y="227.98" font-size="4.95" text-anchor="middle" fill="#1a1a1a" stroke="#1a1a1a" stroke-width="0.12">250</text>
<text x="236.31" y="227.98" font-size="4.95" text-anchor="middle" fill="#1a1a1a" stroke="#1a1a1a" stroke-width="0.12">300</text>
<clipPath id="cl_dL"><rect x="22.8" y="237.2" width="101.1" height="56.3"/></clipPath>
<g clip-path="url(#cl_dL)">
<path d="M27.82 237.2V293.5M41.93 237.2V293.5M56.95 237.2V293.5M71.82 237.2V293.5M86.38 237.2V293.5M100.94 237.2V293.5M115.5 237.2V293.5M22.8 242.13H123.9M22.8 249.49H123.9M22.8 256.69H123.9M22.8 264.36H123.9M22.8 272.02H123.9M22.8 279.68H123.9M22.8 287.35H123.9" stroke="#e3e3e3" stroke-width="0.6" fill="none"/>
<path d="M28.9 249.49L28.9 249.49L31.2 248.57L33.5 247.96L35.03 247.04L37.33 246.73L38.86 245.96L40.09 245.2L41.16 245.96L42.69 246.73L44.23 248.26L45.76 249.18L48.82 249.49L50.36 248.26L51.89 242.9L52.66 241.36L54.19 240.29L56.49 240.6L57.56 242.9L58.02 245.96L60.32 246.73L62.16 247.5L63.69 249.03L64.92 249.49L66.45 249.03L71.05 249.03L71.82 249.49L74.12 249.49L74.88 248.26L76.41 245.2L77.95 243.66L79.48 242.44L81.78 241.82L83.31 242.9L84.84 244.43L86.38 245.96L87.91 247.5L89.14 249.03L90.21 248.57L91.28 247.04L93.28 245.96L95.27 245.2L96.8 246.42L97.87 247.5L99.41 249.03L100.94 248.57L102.47 247.5L104 247.04L106.3 246.73L107.53 245.5L108.6 246.73L110.14 247.04L112.44 246.73L113.66 248.26L114.73 249.49L114.73 249.49Z" fill="#5a5aff"/>
<path d="M28.9 249.49L28.9 249.49L31.2 248.57L33.5 247.96L35.03 247.04L37.33 246.73L38.86 245.96L40.09 245.2L41.16 245.96L42.69 246.73L44.23 248.26L45.76 249.18L48.82 249.49L50.36 248.26L51.89 242.9L52.66 241.36L54.19 240.29L56.49 240.6L57.56 242.9L58.02 245.96L60.32 246.73L62.16 247.5L63.69 249.03L64.92 249.49L66.45 249.03L71.05 249.03L71.82 249.49L74.12 249.49L74.88 248.26L76.41 245.2L77.95 243.66L79.48 242.44L81.78 241.82L83.31 242.9L84.84 244.43L86.38 245.96L87.91 247.5L89.14 249.03L90.21 248.57L91.28 247.04L93.28 245.96L95.27 245.2L96.8 246.42L97.87 247.5L99.41 249.03L100.94 248.57L102.47 247.5L104 247.04L106.3 246.73L107.53 245.5L108.6 246.73L110.14 247.04L112.44 246.73L113.66 248.26L114.73 249.49L114.73 249.49Z" fill="url(#sb2)"/>
<path d="M28.9 249.49L28.9 249.49L30.43 250.1L34.26 250.1L36.56 249.8L38.09 250.56L38.86 254.39L39.63 260.52L40.39 264.36L41.16 268.19L41.93 275.85L42.69 283.52L43.46 288.88L44.23 289.65L44.69 285.05L45.3 280.45L46.22 281.98L47.29 280.45L48.06 272.79L48.82 265.12L49.59 263.59L51.12 262.06L51.89 257.46L52.66 255.16L54.19 254.39L55.72 253.63L56.95 255.16L57.56 258.99L58.48 260.52L60.32 260.22L61.55 258.99L62.62 256.69L63.39 251.33L64.15 249.8L64.92 249.49L65.23 253.63L70.74 253.63L71.05 249.49L75.65 249.49L77.18 250.56L79.48 251.33L81.01 252.86L81.78 255.93L83.01 257.46L84.54 257.46L85.61 255.93L87.14 253.63L88.22 251.33L89.44 249.8L90.21 249.49L90.98 249.49L91.74 251.33L92.51 254.39L96.34 254.39L97.11 252.86L97.87 250.56L98.64 249.49L100.17 249.49L100.94 251.33L102.01 254.39L103.24 257.46L104.77 262.06L105.54 269.72L106.3 278.92L107.07 288.12L107.53 288.88L108.6 286.58L110.14 280.45L110.9 274.32L111.67 266.66L112.13 258.99L112.74 251.33L113.2 249.49L113.2 249.49Z" fill="#f6666f"/>
<path d="M28.9 249.49L28.9 249.49L30.43 250.1L34.26 250.1L36.56 249.8L38.09 250.56L38.86 254.39L39.63 260.52L40.39 264.36L41.16 268.19L41.93 275.85L42.69 283.52L43.46 288.88L44.23 289.65L44.69 285.05L45.3 280.45L46.22 281.98L47.29 280.45L48.06 272.79L48.82 265.12L49.59 263.59L51.12 262.06L51.89 257.46L52.66 255.16L54.19 254.39L55.72 253.63L56.95 255.16L57.56 258.99L58.48 260.52L60.32 260.22L61.55 258.99L62.62 256.69L63.39 251.33L64.15 249.8L64.92 249.49L65.23 253.63L70.74 253.63L71.05 249.49L75.65 249.49L77.18 250.56L79.48 251.33L81.01 252.86L81.78 255.93L83.01 257.46L84.54 257.46L85.61 255.93L87.14 253.63L88.22 251.33L89.44 249.8L90.21 249.49L90.98 249.49L91.74 251.33L92.51 254.39L96.34 254.39L97.11 252.86L97.87 250.56L98.64 249.49L100.17 249.49L100.94 251.33L102.01 254.39L103.24 257.46L104.77 262.06L105.54 269.72L106.3 278.92L107.07 288.12L107.53 288.88L108.6 286.58L110.14 280.45L110.9 274.32L111.67 266.66L112.13 258.99L112.74 251.33L113.2 249.49L113.2 249.49Z" fill="url(#sr2)"/>
<path d="M27.82 237.2V293.5M41.93 237.2V293.5M56.95 237.2V293.5M71.82 237.2V293.5M86.38 237.2V293.5M100.94 237.2V293.5M115.5 237.2V293.5M22.8 242.13H123.9M22.8 249.49H123.9M22.8 256.69H123.9M22.8 264.36H123.9M22.8 272.02H123.9M22.8 279.68H123.9M22.8 287.35H123.9" stroke="#777" stroke-opacity="0.22" stroke-width="0.6" fill="none"/>
</g>
<rect x="22.8" y="237.2" width="101.1" height="56.3" fill="none" stroke="#cfcfcf" stroke-width="0.6"/>
<rect x="106.4" y="238.7" width="3.2" height="1.2" fill="#5a5aff"/>
<rect x="106.4" y="240.8" width="3.2" height="1.2" fill="#f6666f"/>
<path d="M110.7 239.3h11.5M110.7 241.4h11.5" stroke="#888" stroke-width="0.6" stroke-dasharray="3 0.4 5 0.4 3"/>
<path d="M106.4 288.3h13M106.4 290.2h13" stroke="#777" stroke-width="0.65" stroke-dasharray="4 0.5 2 0.4 6 0.5"/>
<text x="20.8" y="242.48" font-size="4.95" text-anchor="end" fill="#1a1a1a" stroke="#1a1a1a" stroke-width="0.12">0.20</text>
<text x="20.8" y="250.26" font-size="4.95" text-anchor="end" fill="#1a1a1a" stroke="#1a1a1a" stroke-width="0.12">0.00</text>
<text x="20.8" y="258.04" font-size="4.95" text-anchor="end" fill="#1a1a1a" stroke="#1a1a1a" stroke-width="0.12">-0.20</text>
<text x="20.8" y="265.82" font-size="4.95" text-anchor="end" fill="#1a1a1a" stroke="#1a1a1a" stroke-width="0.12">-0.40</text>
<text x="20.8" y="273.6" font-size="4.95" text-anchor="end" fill="#1a1a1a" stroke="#1a1a1a" stroke-width="0.12">-0.60</text>
<text x="20.8" y="281.38" font-size="4.95" text-anchor="end" fill="#1a1a1a" stroke="#1a1a1a" stroke-width="0.12">-0.80</text>
<text x="20.8" y="289.16" font-size="4.95" text-anchor="end" fill="#1a1a1a" stroke="#1a1a1a" stroke-width="0.12">-1.00</text>
<text x="27.02" y="299.58" font-size="4.95" text-anchor="middle" fill="#1a1a1a" stroke="#1a1a1a" stroke-width="0.12">0</text>
<text x="41.13" y="299.58" font-size="4.95" text-anchor="middle" fill="#1a1a1a" stroke="#1a1a1a" stroke-width="0.12">50</text>
<text x="56.15" y="299.58" font-size="4.95" text-anchor="middle" fill="#1a1a1a" stroke="#1a1a1a" stroke-width="0.12">100</text>
<text x="71.02" y="299.58" font-size="4.95" text-anchor="middle" fill="#1a1a1a" stroke="#1a1a1a" stroke-width="0.12">150</text>
<text x="85.58" y="299.58" font-size="4.95" text-anchor="middle" fill="#1a1a1a" stroke="#1a1a1a" stroke-width="0.12">200</text>
<text x="100.14" y="299.58" font-size="4.95" text-anchor="middle" fill="#1a1a1a" stroke="#1a1a1a" stroke-width="0.12">250</text>
<text x="114.7" y="299.58" font-size="4.95" text-anchor="middle" fill="#1a1a1a" stroke="#1a1a1a" stroke-width="0.12">300</text>
<clipPath id="cl_dR"><rect x="142.2" y="237.2" width="100.3" height="56.3"/></clipPath>
<g clip-path="url(#cl_dR)">
<path d="M145.6 237.2V293.5M160.16 237.2V293.5M175.03 237.2V293.5M190.36 237.2V293.5M206.14 237.2V293.5M221.47 237.2V293.5M236.34 237.2V293.5M142.2 238.3H242.5M142.2 245.96H242.5M142.2 253.32H242.5M142.2 260.83H242.5M142.2 268.5H242.5M142.2 276.16H242.5M142.2 283.82H242.5M142.2 291.18H242.5" stroke="#e3e3e3" stroke-width="0.6" fill="none"/>
<path d="M146.36 260.83L146.36 260.83L147.13 260.22L150.2 259.76L151.73 258.99L152.96 257.46L153.57 248.26L157.86 247.96L158.17 239.83L158.63 247.5L160.93 247.96L163.23 248.57L164.76 249.8L165.22 260.83L167.82 260.83L169.36 260.22L172.42 259.76L173.96 258.99L174.72 245.96L176.25 246.42L178.55 246.73L179.32 247.5L180.09 258.99L181.16 260.22L182.39 260.83L184.68 260.83L185.45 257.46L186.98 255.93L189.28 255.16L190.82 255.16L191.89 255.93L193.88 253.63L195.41 249.8L196.49 245.96L197.41 246.42L198.48 248.26L200.01 250.56L201.09 254.39L202.01 258.23L203.08 260.83L204.61 260.83L206.91 260.52L209.98 260.22L211.82 259.76L212.28 256.69L213.81 255.93L216.11 255.93L217.33 254.39L217.95 252.55L218.87 254.09L220.71 254.39L223 254.09L225.3 254.39L226.84 254.09L228.37 253.17L229.6 254.09L230.67 257.46L232.2 258.69L233.73 259.3L234.81 260.22L235.27 260.83L235.27 260.83Z" fill="#5a5aff"/>
<path d="M146.36 260.83L146.36 260.83L147.13 260.22L150.2 259.76L151.73 258.99L152.96 257.46L153.57 248.26L157.86 247.96L158.17 239.83L158.63 247.5L160.93 247.96L163.23 248.57L164.76 249.8L165.22 260.83L167.82 260.83L169.36 260.22L172.42 259.76L173.96 258.99L174.72 245.96L176.25 246.42L178.55 246.73L179.32 247.5L180.09 258.99L181.16 260.22L182.39 260.83L184.68 260.83L185.45 257.46L186.98 255.93L189.28 255.16L190.82 255.16L191.89 255.93L193.88 253.63L195.41 249.8L196.49 245.96L197.41 246.42L198.48 248.26L200.01 250.56L201.09 254.39L202.01 258.23L203.08 260.83L204.61 260.83L206.91 260.52L209.98 260.22L211.82 259.76L212.28 256.69L213.81 255.93L216.11 255.93L217.33 254.39L217.95 252.55L218.87 254.09L220.71 254.39L223 254.09L225.3 254.39L226.84 254.09L228.37 253.17L229.6 254.09L230.67 257.46L232.2 258.69L233.73 259.3L234.81 260.22L235.27 260.83L235.27 260.83Z" fill="url(#sb2)"/>
<path d="M146.36 260.83L146.36 260.83L148.66 261.29L153.26 261.29L154.8 262.06L156.33 263.59L158.63 264.36L159.39 265.43L160.62 264.82L162.46 263.9L164.76 262.82L165.52 261.29L165.83 260.83L168.59 260.83L169.36 262.06L169.82 266.66L170.12 285.05L171.66 286.58L173.19 288.12L175.03 289.65L176.56 290.41L177.17 290.41L177.48 268.19L178.55 268.19L180.09 267.42L181.62 266.66L182.39 265.89L183.92 263.9L185.45 262.82L186.98 262.36L188.52 262.06L190.05 261.29L190.82 260.83L191.58 262.06L191.89 266.66L192.81 270.49L193.88 272.79L195.41 274.01L196.95 274.32L198.02 272.79L198.94 268.96L199.55 265.12L200.01 262.06L200.78 260.83L204.61 260.83L205.38 262.06L206.6 263.59L208.44 265.89L209.98 267.42L211.2 265.89L212.28 264.36L213.04 263.28L214.57 262.36L215.34 261.29L216.87 260.83L217.64 262.36L218.87 264.36L219.94 265.89L222.24 266.35L224.54 265.89L225.61 263.59L226.07 261.29L226.84 260.83L228.37 260.83L229.14 262.82L229.9 268.19L230.67 274.32L231.13 279.68L231.44 285.05L232.66 284.74L233.73 284.28L234.81 281.98L235.73 278.15L236.8 272.79L237.57 266.66L237.87 260.83L237.87 260.83Z" fill="#f6666f"/>
<path d="M146.36 260.83L146.36 260.83L148.66 261.29L153.26 261.29L154.8 262.06L156.33 263.59L158.63 264.36L159.39 265.43L160.62 264.82L162.46 263.9L164.76 262.82L165.52 261.29L165.83 260.83L168.59 260.83L169.36 262.06L169.82 266.66L170.12 285.05L171.66 286.58L173.19 288.12L175.03 289.65L176.56 290.41L177.17 290.41L177.48 268.19L178.55 268.19L180.09 267.42L181.62 266.66L182.39 265.89L183.92 263.9L185.45 262.82L186.98 262.36L188.52 262.06L190.05 261.29L190.82 260.83L191.58 262.06L191.89 266.66L192.81 270.49L193.88 272.79L195.41 274.01L196.95 274.32L198.02 272.79L198.94 268.96L199.55 265.12L200.01 262.06L200.78 260.83L204.61 260.83L205.38 262.06L206.6 263.59L208.44 265.89L209.98 267.42L211.2 265.89L212.28 264.36L213.04 263.28L214.57 262.36L215.34 261.29L216.87 260.83L217.64 262.36L218.87 264.36L219.94 265.89L222.24 266.35L224.54 265.89L225.61 263.59L226.07 261.29L226.84 260.83L228.37 260.83L229.14 262.82L229.9 268.19L230.67 274.32L231.13 279.68L231.44 285.05L232.66 284.74L233.73 284.28L234.81 281.98L235.73 278.15L236.8 272.79L237.57 266.66L237.87 260.83L237.87 260.83Z" fill="url(#sr2)"/>
<path d="M145.6 237.2V293.5M160.16 237.2V293.5M175.03 237.2V293.5M190.36 237.2V293.5M206.14 237.2V293.5M221.47 237.2V293.5M236.34 237.2V293.5M142.2 238.3H242.5M142.2 245.96H242.5M142.2 253.32H242.5M142.2 260.83H242.5M142.2 268.5H242.5M142.2 276.16H242.5M142.2 283.82H242.5M142.2 291.18H242.5" stroke="#777" stroke-opacity="0.22" stroke-width="0.6" fill="none"/>
</g>
<rect x="142.2" y="237.2" width="100.3" height="56.3" fill="none" stroke="#cfcfcf" stroke-width="0.6"/>
<rect x="225" y="238.7" width="3.2" height="1.2" fill="#5a5aff"/>
<rect x="225" y="240.8" width="3.2" height="1.2" fill="#f6666f"/>
<path d="M229.3 239.3h11.5M229.3 241.4h11.5" stroke="#888" stroke-width="0.6" stroke-dasharray="3 0.4 5 0.4 3"/>
<path d="M225 288.3h13M225 290.2h13" stroke="#777" stroke-width="0.65" stroke-dasharray="4 0.5 2 0.4 6 0.5"/>
<text x="140.2" y="240.78" font-size="4.95" text-anchor="end" fill="#1a1a1a" stroke="#1a1a1a" stroke-width="0.12">0.60</text>
<text x="140.2" y="248.34" font-size="4.95" text-anchor="end" fill="#1a1a1a" stroke="#1a1a1a" stroke-width="0.12">0.40</text>
<text x="140.2" y="255.9" font-size="4.95" text-anchor="end" fill="#1a1a1a" stroke="#1a1a1a" stroke-width="0.12">0.20</text>
<text x="140.2" y="263.46" font-size="4.95" text-anchor="end" fill="#1a1a1a" stroke="#1a1a1a" stroke-width="0.12">0.00</text>
<text x="140.2" y="271.02" font-size="4.95" text-anchor="end" fill="#1a1a1a" stroke="#1a1a1a" stroke-width="0.12">-0.20</text>
<text x="140.2" y="278.58" font-size="4.95" text-anchor="end" fill="#1a1a1a" stroke="#1a1a1a" stroke-width="0.12">-0.40</text>
<text x="140.2" y="286.14" font-size="4.95" text-anchor="end" fill="#1a1a1a" stroke="#1a1a1a" stroke-width="0.12">-0.80</text>
<text x="140.2" y="293.7" font-size="4.95" text-anchor="end" fill="#1a1a1a" stroke="#1a1a1a" stroke-width="0.12">-1.00</text>
<text x="144.8" y="299.58" font-size="4.95" text-anchor="middle" fill="#1a1a1a" stroke="#1a1a1a" stroke-width="0.12">0</text>
<text x="159.36" y="299.58" font-size="4.95" text-anchor="middle" fill="#1a1a1a" stroke="#1a1a1a" stroke-width="0.12">50</text>
<text x="174.23" y="299.58" font-size="4.95" text-anchor="middle" fill="#1a1a1a" stroke="#1a1a1a" stroke-width="0.12">100</text>
<text x="189.56" y="299.58" font-size="4.95" text-anchor="middle" fill="#1a1a1a" stroke="#1a1a1a" stroke-width="0.12">150</text>
<text x="205.34" y="299.58" font-size="4.95" text-anchor="middle" fill="#1a1a1a" stroke="#1a1a1a" stroke-width="0.12">200</text>
<text x="220.67" y="299.58" font-size="4.95" text-anchor="middle" fill="#1a1a1a" stroke="#1a1a1a" stroke-width="0.12">250</text>
<text x="235.54" y="299.58" font-size="4.95" text-anchor="middle" fill="#1a1a1a" stroke="#1a1a1a" stroke-width="0.12">300</text>
<clipPath id="cl_eL"><rect x="281.2" y="28.2" width="100.7" height="54.8"/></clipPath>
<g clip-path="url(#cl_eL)">
<path d="M285.82 28.2V83M301.15 28.2V83M316.48 28.2V83M331.81 28.2V83M346.68 28.2V83M362 28.2V83M376.87 28.2V83M281.2 37.42H381.9M281.2 48.46H381.9M281.2 59.5H381.9M281.2 70.38H381.9M281.2 81.41H381.9" stroke="#e3e3e3" stroke-width="0.6" fill="none"/>
<path d="M286.9 37.42L286.9 37.42L295.33 37.42L296.86 37.12L305.29 37.12L306.82 36.5L310.66 36.2L312.19 36.96L314.49 37.42L314.95 31.29L316.79 31.29L318.01 31.9L320.62 31.9L321.08 37.42L325.22 37.42L326.75 35.89L328.28 34.97L330.58 34.36L332.12 34.97L333.65 35.89L335.18 36.5L337.48 36.96L338.25 36.2L342.84 36.2L344.38 36.96L345.91 37.42L347.44 37.42L349.74 36.66L351.28 36.5L352.81 36.96L355.11 37.42L357.41 37.42L359.71 37.12L362 36.5L364.3 36.2L365.84 36.96L368.14 37.42L376.57 37.42L376.57 37.42Z" fill="#5a5aff"/>
<path d="M286.9 37.42L286.9 37.42L295.33 37.42L296.86 37.12L305.29 37.12L306.82 36.5L310.66 36.2L312.19 36.96L314.49 37.42L314.95 31.29L316.79 31.29L318.01 31.9L320.62 31.9L321.08 37.42L325.22 37.42L326.75 35.89L328.28 34.97L330.58 34.36L332.12 34.97L333.65 35.89L335.18 36.5L337.48 36.96L338.25 36.2L342.84 36.2L344.38 36.96L345.91 37.42L347.44 37.42L349.74 36.66L351.28 36.5L352.81 36.96L355.11 37.42L357.41 37.42L359.71 37.12L362 36.5L364.3 36.2L365.84 36.96L368.14 37.42L376.57 37.42L376.57 37.42Z" fill="url(#sb2)"/>
<path d="M286.9 37.42L286.9 37.42L287.36 40.03L289.2 40.49L291.5 40.49L292.26 41.56L293.03 39.26L295.33 37.73L296.09 39.26L296.86 45.39L297.63 49.99L298.39 53.06L299.93 54.28L301.46 55.36L302.23 54.59L302.99 46.93L303.76 42.33L305.29 38.5L305.75 37.42L309.89 37.42L310.66 38.5L315.25 38.5L316.02 37.42L320.62 37.42L321.39 39.26L323.68 41.56L325.98 42.33L328.28 43.09L329.82 43.86L331.35 44.63L332.88 45.39L333.95 44.63L334.87 42.33L335.49 45.39L336.41 49.99L337.48 53.06L338.25 57.66L339.01 69.92L339.78 76.05L340.55 78.35L341.31 81.41L342.08 77.58L342.84 72.98L344.07 63.79L345.14 51.52L345.6 43.86L346.68 42.33L347.44 39.26L348.21 38.5L350.51 38.5L352.04 38.04L355.11 37.73L357.41 37.42L358.17 38.5L359.71 39.26L362.77 39.26L364.3 38.04L365.07 37.42L367.37 37.42L376.57 37.42L376.57 37.42Z" fill="#f6666f"/>
<path d="M286.9 37.42L286.9 37.42L287.36 40.03L289.2 40.49L291.5 40.49L292.26 41.56L293.03 39.26L295.33 37.73L296.09 39.26L296.86 45.39L297.63 49.99L298.39 53.06L299.93 54.28L301.46 55.36L302.23 54.59L302.99 46.93L303.76 42.33L305.29 38.5L305.75 37.42L309.89 37.42L310.66 38.5L315.25 38.5L316.02 37.42L320.62 37.42L321.39 39.26L323.68 41.56L325.98 42.33L328.28 43.09L329.82 43.86L331.35 44.63L332.88 45.39L333.95 44.63L334.87 42.33L335.49 45.39L336.41 49.99L337.48 53.06L338.25 57.66L339.01 69.92L339.78 76.05L340.55 78.35L341.31 81.41L342.08 77.58L342.84 72.98L344.07 63.79L345.14 51.52L345.6 43.86L346.68 42.33L347.44 39.26L348.21 38.5L350.51 38.5L352.04 38.04L355.11 37.73L357.41 37.42L358.17 38.5L359.71 39.26L362.77 39.26L364.3 38.04L365.07 37.42L367.37 37.42L376.57 37.42L376.57 37.42Z" fill="url(#sr2)"/>
<path d="M285.82 28.2V83M301.15 28.2V83M316.48 28.2V83M331.81 28.2V83M346.68 28.2V83M362 28.2V83M376.87 28.2V83M281.2 37.42H381.9M281.2 48.46H381.9M281.2 59.5H381.9M281.2 70.38H381.9M281.2 81.41H381.9" stroke="#777" stroke-opacity="0.22" stroke-width="0.6" fill="none"/>
</g>
<rect x="281.2" y="28.2" width="100.7" height="54.8" fill="none" stroke="#cfcfcf" stroke-width="0.6"/>
<rect x="364.4" y="29.7" width="3.2" height="1.2" fill="#5a5aff"/>
<rect x="364.4" y="31.8" width="3.2" height="1.2" fill="#f6666f"/>
<path d="M368.7 30.3h11.5M368.7 32.4h11.5" stroke="#888" stroke-width="0.6" stroke-dasharray="3 0.4 5 0.4 3"/>
<path d="M364.4 77.8h13M364.4 79.7h13" stroke="#777" stroke-width="0.65" stroke-dasharray="4 0.5 2 0.4 6 0.5"/>
<text x="279.8" y="39.28" font-size="4.95" text-anchor="end" fill="#1a1a1a" stroke="#1a1a1a" stroke-width="0.12">0.00</text>
<text x="279.8" y="50.88" font-size="4.95" text-anchor="end" fill="#1a1a1a" stroke="#1a1a1a" stroke-width="0.12">-0.50</text>
<text x="279.8" y="62.08" font-size="4.95" text-anchor="end" fill="#1a1a1a" stroke="#1a1a1a" stroke-width="0.12">-1.00</text>
<text x="279.8" y="73.38" font-size="4.95" text-anchor="end" fill="#1a1a1a" stroke="#1a1a1a" stroke-width="0.12">-1.50</text>
<text x="279.8" y="84.58" font-size="4.95" text-anchor="end" fill="#1a1a1a" stroke="#1a1a1a" stroke-width="0.12">-2.00</text>
<text x="285.02" y="90.38" font-size="4.95" text-anchor="middle" fill="#1a1a1a" stroke="#1a1a1a" stroke-width="0.12">0</text>
<text x="300.35" y="90.38" font-size="4.95" text-anchor="middle" fill="#1a1a1a" stroke="#1a1a1a" stroke-width="0.12">50</text>
<text x="315.68" y="90.38" font-size="4.95" text-anchor="middle" fill="#1a1a1a" stroke="#1a1a1a" stroke-width="0.12">100</text>
<text x="331.01" y="90.38" font-size="4.95" text-anchor="middle" fill="#1a1a1a" stroke="#1a1a1a" stroke-width="0.12">150</text>
<text x="345.88" y="90.38" font-size="4.95" text-anchor="middle" fill="#1a1a1a" stroke="#1a1a1a" stroke-width="0.12">200</text>
<text x="361.2" y="90.38" font-size="4.95" text-anchor="middle" fill="#1a1a1a" stroke="#1a1a1a" stroke-width="0.12">250</text>
<text x="376.07" y="90.38" font-size="4.95" text-anchor="middle" fill="#1a1a1a" stroke="#1a1a1a" stroke-width="0.12">300</text>
<clipPath id="cl_eR"><rect x="397.2" y="28.2" width="100.8" height="55.2"/></clipPath>
<g clip-path="url(#cl_eR)">
<path d="M402.13 28.2V83.4M416.39 28.2V83.4M430.49 28.2V83.4M444.74 28.2V83.4M459.15 28.2V83.4M473.41 28.2V83.4M487.66 28.2V83.4M397.2 30.07H498M397.2 36.2H498M397.2 42.33H498M397.2 48.46H498M397.2 54.9H498M397.2 61.03H498M397.2 67.16H498M397.2 73.29H498M397.2 79.88H498" stroke="#e3e3e3" stroke-width="0.6" fill="none"/>
<path d="M402.13 61.03L402.13 61.03L402.44 54.59L403.36 51.52L404.89 49.99L406.42 48.77L407.5 49.23L408.26 57.66L409.8 58.42L411.33 59.96L412.86 60.42L415.93 60.42L418.99 60.72L419.76 61.03L420.22 53.82L421.75 36.2L422.82 34.66L424.36 32.36L425.12 31.29L425.89 34.66L426.66 39.26L427.88 39.26L428.19 55.36L428.96 54.59L429.72 55.36L430.49 59.19L432.02 59.96L433.55 59.19L435.09 55.36L436.16 51.52L437.39 48.46L438.92 48.46L440.45 49.99L441.68 53.06L442.75 59.19L444.28 59.96L446.58 60.42L447.35 52.29L448.88 52.29L449.34 32.36L450.87 32.82L451.49 34.66L452.41 41.1L454.25 41.1L455.01 59.96L456.55 60.42L457.31 59.19L458.84 57.66L460.38 55.36L461.6 54.9L463.44 56.89L464.98 57.35L466.51 58.42L468.04 59.5L470.34 60.42L472.64 60.72L475.71 60.72L477.24 59.96L479.54 59.19L481.84 59.5L484.14 59.96L486.44 60.72L487.97 61.03L492.57 61.03L492.57 61.03Z" fill="#5a5aff"/>
<path d="M402.13 61.03L402.13 61.03L402.44 54.59L403.36 51.52L404.89 49.99L406.42 48.77L407.5 49.23L408.26 57.66L409.8 58.42L411.33 59.96L412.86 60.42L415.93 60.42L418.99 60.72L419.76 61.03L420.22 53.82L421.75 36.2L422.82 34.66L424.36 32.36L425.12 31.29L425.89 34.66L426.66 39.26L427.88 39.26L428.19 55.36L428.96 54.59L429.72 55.36L430.49 59.19L432.02 59.96L433.55 59.19L435.09 55.36L436.16 51.52L437.39 48.46L438.92 48.46L440.45 49.99L441.68 53.06L442.75 59.19L444.28 59.96L446.58 60.42L447.35 52.29L448.88 52.29L449.34 32.36L450.87 32.82L451.49 34.66L452.41 41.1L454.25 41.1L455.01 59.96L456.55 60.42L457.31 59.19L458.84 57.66L460.38 55.36L461.6 54.9L463.44 56.89L464.98 57.35L466.51 58.42L468.04 59.5L470.34 60.42L472.64 60.72L475.71 60.72L477.24 59.96L479.54 59.19L481.84 59.5L484.14 59.96L486.44 60.72L487.97 61.03L492.57 61.03L492.57 61.03Z" fill="url(#sb2)"/>
<path d="M404.43 61.03L404.43 61.03L405.96 62.56L408.26 63.79L410.56 63.48L412.55 62.25L413.63 61.49L415.16 61.03L417.46 61.03L419.76 61.95L421.29 63.79L422.82 65.32L424.36 66.55L425.89 65.63L428.19 65.01L429.72 63.02L432.79 63.02L434.32 62.25L435.85 61.03L436.62 61.03L438.15 62.56L440.45 64.55L441.98 66.09L443.21 67.62L443.82 71.45L444.28 79.12L444.74 81.41L445.82 80.65L448.12 79.12L449.34 77.58L449.95 65.32L450.87 63.02L452.71 62.25L454.25 62.25L455.78 63.02L457.31 63.79L458.08 66.85L458.54 70.68L459.61 69.92L461.6 68.39L462.68 66.09L463.44 61.49L464.21 61.03L468.04 61.03L468.81 63.48L469.57 66.09L471.11 66.55L473.41 66.09L474.48 64.55L475.4 61.95L476.01 61.03L483.37 61.03L487.97 61.49L489.5 61.03L489.5 61.03Z" fill="#f6666f"/>
<path d="M404.43 61.03L404.43 61.03L405.96 62.56L408.26 63.79L410.56 63.48L412.55 62.25L413.63 61.49L415.16 61.03L417.46 61.03L419.76 61.95L421.29 63.79L422.82 65.32L424.36 66.55L425.89 65.63L428.19 65.01L429.72 63.02L432.79 63.02L434.32 62.25L435.85 61.03L436.62 61.03L438.15 62.56L440.45 64.55L441.98 66.09L443.21 67.62L443.82 71.45L444.28 79.12L444.74 81.41L445.82 80.65L448.12 79.12L449.34 77.58L449.95 65.32L450.87 63.02L452.71 62.25L454.25 62.25L455.78 63.02L457.31 63.79L458.08 66.85L458.54 70.68L459.61 69.92L461.6 68.39L462.68 66.09L463.44 61.49L464.21 61.03L468.04 61.03L468.81 63.48L469.57 66.09L471.11 66.55L473.41 66.09L474.48 64.55L475.4 61.95L476.01 61.03L483.37 61.03L487.97 61.49L489.5 61.03L489.5 61.03Z" fill="url(#sr2)"/>
<path d="M402.13 28.2V83.4M416.39 28.2V83.4M430.49 28.2V83.4M444.74 28.2V83.4M459.15 28.2V83.4M473.41 28.2V83.4M487.66 28.2V83.4M397.2 30.07H498M397.2 36.2H498M397.2 42.33H498M397.2 48.46H498M397.2 54.9H498M397.2 61.03H498M397.2 67.16H498M397.2 73.29H498M397.2 79.88H498" stroke="#777" stroke-opacity="0.22" stroke-width="0.6" fill="none"/>
</g>
<rect x="397.2" y="28.2" width="100.8" height="55.2" fill="none" stroke="#cfcfcf" stroke-width="0.6"/>
<rect x="480.5" y="29.7" width="3.2" height="1.2" fill="#5a5aff"/>
<rect x="480.5" y="31.8" width="3.2" height="1.2" fill="#f6666f"/>
<path d="M484.8 30.3h11.5M484.8 32.4h11.5" stroke="#888" stroke-width="0.6" stroke-dasharray="3 0.4 5 0.4 3"/>
<path d="M480.5 78.2h13M480.5 80.1h13" stroke="#777" stroke-width="0.65" stroke-dasharray="4 0.5 2 0.4 6 0.5"/>
<text x="396.2" y="32.38" font-size="4.95" text-anchor="end" fill="#1a1a1a" stroke="#1a1a1a" stroke-width="0.12">1.00</text>
<text x="396.2" y="38.69" font-size="4.95" text-anchor="end" fill="#1a1a1a" stroke="#1a1a1a" stroke-width="0.12">0.80</text>
<text x="396.2" y="45" font-size="4.95" text-anchor="end" fill="#1a1a1a" stroke="#1a1a1a" stroke-width="0.12">0.60</text>
<text x="396.2" y="51.31" font-size="4.95" text-anchor="end" fill="#1a1a1a" stroke="#1a1a1a" stroke-width="0.12">0.40</text>
<text x="396.2" y="57.62" font-size="4.95" text-anchor="end" fill="#1a1a1a" stroke="#1a1a1a" stroke-width="0.12">0.20</text>
<text x="396.2" y="63.93" font-size="4.95" text-anchor="end" fill="#1a1a1a" stroke="#1a1a1a" stroke-width="0.12">0.00</text>
<text x="396.2" y="70.24" font-size="4.95" text-anchor="end" fill="#1a1a1a" stroke="#1a1a1a" stroke-width="0.12">-0.20</text>
<text x="396.2" y="76.55" font-size="4.95" text-anchor="end" fill="#1a1a1a" stroke="#1a1a1a" stroke-width="0.12">-0.40</text>
<text x="396.2" y="82.86" font-size="4.95" text-anchor="end" fill="#1a1a1a" stroke="#1a1a1a" stroke-width="0.12">-0.60</text>
<text x="401.33" y="90.38" font-size="4.95" text-anchor="middle" fill="#1a1a1a" stroke="#1a1a1a" stroke-width="0.12">0</text>
<text x="415.59" y="90.38" font-size="4.95" text-anchor="middle" fill="#1a1a1a" stroke="#1a1a1a" stroke-width="0.12">50</text>
<text x="429.69" y="90.38" font-size="4.95" text-anchor="middle" fill="#1a1a1a" stroke="#1a1a1a" stroke-width="0.12">100</text>
<text x="443.94" y="90.38" font-size="4.95" text-anchor="middle" fill="#1a1a1a" stroke="#1a1a1a" stroke-width="0.12">150</text>
<text x="458.35" y="90.38" font-size="4.95" text-anchor="middle" fill="#1a1a1a" stroke="#1a1a1a" stroke-width="0.12">200</text>
<text x="472.61" y="90.38" font-size="4.95" text-anchor="middle" fill="#1a1a1a" stroke="#1a1a1a" stroke-width="0.12">250</text>
<text x="486.86" y="90.38" font-size="4.95" text-anchor="middle" fill="#1a1a1a" stroke="#1a1a1a" stroke-width="0.12">300</text>
<clipPath id="cl_fL"><rect x="281.2" y="97.2" width="100.7" height="55.8"/></clipPath>
<g clip-path="url(#cl_fL)">
<path d="M285.82 97.2V153M301.15 97.2V153M316.48 97.2V153M332.12 97.2V153M347.44 97.2V153M362.77 97.2V153M378.1 97.2V153M281.2 104.74H381.9M281.2 112.09H381.9M281.2 119.3H381.9M281.2 126.66H381.9M281.2 134.01H381.9M281.2 141.22H381.9M281.2 148.42H381.9" stroke="#e3e3e3" stroke-width="0.6" fill="none"/>
<path d="M286.13 141.22L286.13 141.22L286.44 136.16L288.43 135.55L289.96 134.63L291.5 134.01L291.96 138.92L293.8 139.68L295.33 140.45L296.86 140.91L301.46 140.76L307.59 140.45L308.82 137.39L309.89 118.99L312.19 119.3L313.72 118.69L314.49 118.23L315.56 128.19L316.79 128.96L319.09 129.42L321.39 130.49L322.61 131.56L323.23 140.14L327.52 140.45L328.74 137.39L329.82 132.79L330.89 128.19L332.88 127.42L334.41 128.19L335.49 130.49L336.41 134.32L337.02 138.15L338.25 138.61L339.01 136.62L341.31 136.16L342.54 136.62L343.15 134.32L344.38 129.72L345.6 122.06L346.68 114.39L347.14 107.5L348.21 108.26L348.98 109.49L349.74 102.9L350.51 100.6L351.28 102.9L352.04 107.5L352.81 111.33L353.57 125.12L355.11 125.89L355.87 125.43L356.33 129.72L357.41 138.92L358.17 138.61L360.47 138.15L362.77 137.69L363.54 137.08L364.3 138.15L365.84 138.92L367.37 139.23L368.9 140.14L370.44 140.76L371.97 140.45L375.03 140.45L377.33 141.22L377.33 141.22Z" fill="#5a5aff"/>
<path d="M286.13 141.22L286.13 141.22L286.44 136.16L288.43 135.55L289.96 134.63L291.5 134.01L291.96 138.92L293.8 139.68L295.33 140.45L296.86 140.91L301.46 140.76L307.59 140.45L308.82 137.39L309.89 118.99L312.19 119.3L313.72 118.69L314.49 118.23L315.56 128.19L316.79 128.96L319.09 129.42L321.39 130.49L322.61 131.56L323.23 140.14L327.52 140.45L328.74 137.39L329.82 132.79L330.89 128.19L332.88 127.42L334.41 128.19L335.49 130.49L336.41 134.32L337.02 138.15L338.25 138.61L339.01 136.62L341.31 136.16L342.54 136.62L343.15 134.32L344.38 129.72L345.6 122.06L346.68 114.39L347.14 107.5L348.21 108.26L348.98 109.49L349.74 102.9L350.51 100.6L351.28 102.9L352.04 107.5L352.81 111.33L353.57 125.12L355.11 125.89L355.87 125.43L356.33 129.72L357.41 138.92L358.17 138.61L360.47 138.15L362.77 137.69L363.54 137.08L364.3 138.15L365.84 138.92L367.37 139.23L368.9 140.14L370.44 140.76L371.97 140.45L375.03 140.45L377.33 141.22L377.33 141.22Z" fill="url(#sb2)"/>
<path d="M286.13 141.22L286.13 141.22L286.9 144.28L287.66 147.35L288.43 148.12L291.5 148.12L292.26 145.82L293.03 143.52L294.56 143.82L296.09 145.36L297.63 146.58L299.16 146.28L299.93 143.52L300.69 141.98L301.46 148.88L302.99 150.41L304.52 148.88L306.06 148.12L307.59 147.35L308.36 143.82L309.89 143.52L312.19 143.52L314.03 142.75L314.95 143.82L315.56 145.82L317.55 146.58L319.85 146.58L321.69 145.82L322.92 146.58L323.68 148.12L324.76 149.65L325.98 150.41L326.75 148.88L327.52 145.05L329.05 144.74L332.12 144.74L334.41 143.82L335.95 144.74L337.48 144.28L338.25 141.98L339.78 141.68L341.31 141.22L344.38 141.22L345.91 141.98L347.44 143.52L349.74 144.28L351.28 145.82L352.81 145.05L354.34 144.28L355.87 143.52L357.41 141.98L358.17 141.22L363.54 141.22L364.3 142.29L365.84 142.75L368.14 141.98L368.9 141.22L371.2 141.68L374.27 142.29L376.57 141.98L377.33 141.22L377.33 141.22Z" fill="#f6666f"/>
<path d="M286.13 141.22L286.13 141.22L286.9 144.28L287.66 147.35L288.43 148.12L291.5 148.12L292.26 145.82L293.03 143.52L294.56 143.82L296.09 145.36L297.63 146.58L299.16 146.28L299.93 143.52L300.69 141.98L301.46 148.88L302.99 150.41L304.52 148.88L306.06 148.12L307.59 147.35L308.36 143.82L309.89 143.52L312.19 143.52L314.03 142.75L314.95 143.82L315.56 145.82L317.55 146.58L319.85 146.58L321.69 145.82L322.92 146.58L323.68 148.12L324.76 149.65L325.98 150.41L326.75 148.88L327.52 145.05L329.05 144.74L332.12 144.74L334.41 143.82L335.95 144.74L337.48 144.28L338.25 141.98L339.78 141.68L341.31 141.22L344.38 141.22L345.91 141.98L347.44 143.52L349.74 144.28L351.28 145.82L352.81 145.05L354.34 144.28L355.87 143.52L357.41 141.98L358.17 141.22L363.54 141.22L364.3 142.29L365.84 142.75L368.14 141.98L368.9 141.22L371.2 141.68L374.27 142.29L376.57 141.98L377.33 141.22L377.33 141.22Z" fill="url(#sr2)"/>
<path d="M285.82 97.2V153M301.15 97.2V153M316.48 97.2V153M332.12 97.2V153M347.44 97.2V153M362.77 97.2V153M378.1 97.2V153M281.2 104.74H381.9M281.2 112.09H381.9M281.2 119.3H381.9M281.2 126.66H381.9M281.2 134.01H381.9M281.2 141.22H381.9M281.2 148.42H381.9" stroke="#777" stroke-opacity="0.22" stroke-width="0.6" fill="none"/>
</g>
<rect x="281.2" y="97.2" width="100.7" height="55.8" fill="none" stroke="#cfcfcf" stroke-width="0.6"/>
<rect x="364.4" y="98.7" width="3.2" height="1.2" fill="#5a5aff"/>
<rect x="364.4" y="100.8" width="3.2" height="1.2" fill="#f6666f"/>
<path d="M368.7 99.3h11.5M368.7 101.4h11.5" stroke="#888" stroke-width="0.6" stroke-dasharray="3 0.4 5 0.4 3"/>
<path d="M364.4 147.8h13M364.4 149.7h13" stroke="#777" stroke-width="0.65" stroke-dasharray="4 0.5 2 0.4 6 0.5"/>
<text x="279.8" y="99.78" font-size="4.95" text-anchor="end" fill="#1a1a1a" stroke="#1a1a1a" stroke-width="0.12">1.20</text>
<text x="279.8" y="106.95" font-size="4.95" text-anchor="end" fill="#1a1a1a" stroke="#1a1a1a" stroke-width="0.12">1.00</text>
<text x="279.8" y="114.12" font-size="4.95" text-anchor="end" fill="#1a1a1a" stroke="#1a1a1a" stroke-width="0.12">0.80</text>
<text x="279.8" y="121.29" font-size="4.95" text-anchor="end" fill="#1a1a1a" stroke="#1a1a1a" stroke-width="0.12">0.60</text>
<text x="279.8" y="128.46" font-size="4.95" text-anchor="end" fill="#1a1a1a" stroke="#1a1a1a" stroke-width="0.12">0.40</text>
<text x="279.8" y="135.63" font-size="4.95" text-anchor="end" fill="#1a1a1a" stroke="#1a1a1a" stroke-width="0.12">0.20</text>
<text x="279.8" y="142.8" font-size="4.95" text-anchor="end" fill="#1a1a1a" stroke="#1a1a1a" stroke-width="0.12">0.00</text>
<text x="279.8" y="149.97" font-size="4.95" text-anchor="end" fill="#1a1a1a" stroke="#1a1a1a" stroke-width="0.12">-0.20</text>
<text x="285.02" y="159.28" font-size="4.95" text-anchor="middle" fill="#1a1a1a" stroke="#1a1a1a" stroke-width="0.12">0</text>
<text x="300.35" y="159.28" font-size="4.95" text-anchor="middle" fill="#1a1a1a" stroke="#1a1a1a" stroke-width="0.12">50</text>
<text x="315.68" y="159.28" font-size="4.95" text-anchor="middle" fill="#1a1a1a" stroke="#1a1a1a" stroke-width="0.12">100</text>
<text x="331.32" y="159.28" font-size="4.95" text-anchor="middle" fill="#1a1a1a" stroke="#1a1a1a" stroke-width="0.12">150</text>
<text x="346.64" y="159.28" font-size="4.95" text-anchor="middle" fill="#1a1a1a" stroke="#1a1a1a" stroke-width="0.12">200</text>
<text x="361.97" y="159.28" font-size="4.95" text-anchor="middle" fill="#1a1a1a" stroke="#1a1a1a" stroke-width="0.12">250</text>
<text x="377.3" y="159.28" font-size="4.95" text-anchor="middle" fill="#1a1a1a" stroke="#1a1a1a" stroke-width="0.12">300</text>
<clipPath id="cl_fR"><rect x="397.2" y="97.2" width="100.8" height="56.3"/></clipPath>
<g clip-path="url(#cl_fR)">
<path d="M401.82 97.2V153.5M415.93 97.2V153.5M430.49 97.2V153.5M445.05 97.2V153.5M459.61 97.2V153.5M474.17 97.2V153.5M488.73 97.2V153.5M397.2 98.61H498M397.2 105.2H498M397.2 112.09H498M397.2 118.69H498M397.2 125.43H498M397.2 132.33H498M397.2 139.23H498M397.2 145.82H498" stroke="#e3e3e3" stroke-width="0.6" fill="none"/>
<path d="M402.9 125.43L402.9 125.43L403.66 124.36L405.2 123.59L406.73 122.82L407.96 120.52L408.57 119.76L409.8 121.29L412.86 121.29L413.63 114.39L414.39 105.2L415.16 100.6L415.93 99.83L417.46 100.6L418.69 101.36L419.3 108.26L420.22 122.82L421.29 124.82L423.59 124.82L425.12 124.36L425.89 121.29L426.66 119.76L428.96 118.99L430.95 119.76L431.56 123.59L432.79 125.43L443.52 125.43L445.05 125.12L447.35 124.36L449.65 123.9L451.18 123.9L453.02 124.36L453.48 125.12L455.01 125.12L457.31 124.82L458.08 123.59L460.38 123.28L462.68 122.82L463.44 121.29L464.67 115.93L465.74 114.09L467.28 114.39L468.35 112.86L469.27 112.09L469.88 117.46L470.8 118.23L471.41 122.82L472.64 123.59L474.17 125.12L475.71 124.82L477.24 124.36L478.46 123.28L480.3 123.28L482.6 123.59L483.37 124.36L484.9 122.82L486.44 121.75L487.97 121.29L489.5 121.75L490.27 123.59L491.8 124.82L492.87 125.43L492.87 125.43Z" fill="#5a5aff"/>
<path d="M402.9 125.43L402.9 125.43L403.66 124.36L405.2 123.59L406.73 122.82L407.96 120.52L408.57 119.76L409.8 121.29L412.86 121.29L413.63 114.39L414.39 105.2L415.16 100.6L415.93 99.83L417.46 100.6L418.69 101.36L419.3 108.26L420.22 122.82L421.29 124.82L423.59 124.82L425.12 124.36L425.89 121.29L426.66 119.76L428.96 118.99L430.95 119.76L431.56 123.59L432.79 125.43L443.52 125.43L445.05 125.12L447.35 124.36L449.65 123.9L451.18 123.9L453.02 124.36L453.48 125.12L455.01 125.12L457.31 124.82L458.08 123.59L460.38 123.28L462.68 122.82L463.44 121.29L464.67 115.93L465.74 114.09L467.28 114.39L468.35 112.86L469.27 112.09L469.88 117.46L470.8 118.23L471.41 122.82L472.64 123.59L474.17 125.12L475.71 124.82L477.24 124.36L478.46 123.28L480.3 123.28L482.6 123.59L483.37 124.36L484.9 122.82L486.44 121.75L487.97 121.29L489.5 121.75L490.27 123.59L491.8 124.82L492.87 125.43L492.87 125.43Z" fill="url(#sb2)"/>
<path d="M408.26 125.43L408.26 125.43L409.03 129.72L410.56 134.32L412.09 138.15L412.86 140.45L414.09 142.75L415.16 139.68L416.69 138.92L418.23 137.39L419.76 135.09L420.52 132.02L420.83 128.19L421.29 126.35L422.06 125.89L424.36 125.89L425.12 127.42L426.66 129.42L428.19 130.49L429.72 129.72L430.95 128.19L432.02 126.66L432.79 125.89L436.62 125.89L437.39 129.72L438.92 131.25L440.45 133.55L441.68 135.85L442.75 136.62L443.52 134.32L444.74 135.09L445.36 135.85L446.58 134.32L448.12 132.79L449.65 131.25L451.18 128.96L452.41 127.42L453.48 126.35L458.08 125.89L458.54 127.42L463.44 127.42L464.21 126.35L468.04 126.35L469.57 126.66L470.34 130.49L471.11 135.09L471.87 139.68L473.41 143.52L474.48 148.12L475.4 150.41L476.47 149.65L478 148.88L478.77 146.58L479.54 145.05L480.61 141.98L481.84 137.39L483.06 132.79L484.14 129.72L484.9 127.42L485.67 125.89L487.97 125.89L492.57 126.2L493.33 125.43L493.33 125.43Z" fill="#f6666f"/>
<path d="M408.26 125.43L408.26 125.43L409.03 129.72L410.56 134.32L412.09 138.15L412.86 140.45L414.09 142.75L415.16 139.68L416.69 138.92L418.23 137.39L419.76 135.09L420.52 132.02L420.83 128.19L421.29 126.35L422.06 125.89L424.36 125.89L425.12 127.42L426.66 129.42L428.19 130.49L429.72 129.72L430.95 128.19L432.02 126.66L432.79 125.89L436.62 125.89L437.39 129.72L438.92 131.25L440.45 133.55L441.68 135.85L442.75 136.62L443.52 134.32L444.74 135.09L445.36 135.85L446.58 134.32L448.12 132.79L449.65 131.25L451.18 128.96L452.41 127.42L453.48 126.35L458.08 125.89L458.54 127.42L463.44 127.42L464.21 126.35L468.04 126.35L469.57 126.66L470.34 130.49L471.11 135.09L471.87 139.68L473.41 143.52L474.48 148.12L475.4 150.41L476.47 149.65L478 148.88L478.77 146.58L479.54 145.05L480.61 141.98L481.84 137.39L483.06 132.79L484.14 129.72L484.9 127.42L485.67 125.89L487.97 125.89L492.57 126.2L493.33 125.43L493.33 125.43Z" fill="url(#sr2)"/>
<path d="M401.82 97.2V153.5M415.93 97.2V153.5M430.49 97.2V153.5M445.05 97.2V153.5M459.61 97.2V153.5M474.17 97.2V153.5M488.73 97.2V153.5M397.2 98.61H498M397.2 105.2H498M397.2 112.09H498M397.2 118.69H498M397.2 125.43H498M397.2 132.33H498M397.2 139.23H498M397.2 145.82H498" stroke="#777" stroke-opacity="0.22" stroke-width="0.6" fill="none"/>
</g>
<rect x="397.2" y="97.2" width="100.8" height="56.3" fill="none" stroke="#cfcfcf" stroke-width="0.6"/>
<rect x="480.5" y="98.7" width="3.2" height="1.2" fill="#5a5aff"/>
<rect x="480.5" y="100.8" width="3.2" height="1.2" fill="#f6666f"/>
<path d="M484.8 99.3h11.5M484.8 101.4h11.5" stroke="#888" stroke-width="0.6" stroke-dasharray="3 0.4 5 0.4 3"/>
<path d="M480.5 148.3h13M480.5 150.2h13" stroke="#777" stroke-width="0.65" stroke-dasharray="4 0.5 2 0.4 6 0.5"/>
<text x="396.2" y="100.78" font-size="4.95" text-anchor="end" fill="#1a1a1a" stroke="#1a1a1a" stroke-width="0.12">0.80</text>
<text x="396.2" y="107.56" font-size="4.95" text-anchor="end" fill="#1a1a1a" stroke="#1a1a1a" stroke-width="0.12">0.60</text>
<text x="396.2" y="114.34" font-size="4.95" text-anchor="end" fill="#1a1a1a" stroke="#1a1a1a" stroke-width="0.12">0.40</text>
<text x="396.2" y="121.12" font-size="4.95" text-anchor="end" fill="#1a1a1a" stroke="#1a1a1a" stroke-width="0.12">0.20</text>
<text x="396.2" y="127.9" font-size="4.95" text-anchor="end" fill="#1a1a1a" stroke="#1a1a1a" stroke-width="0.12">0.00</text>
<text x="396.2" y="134.68" font-size="4.95" text-anchor="end" fill="#1a1a1a" stroke="#1a1a1a" stroke-width="0.12">-0.20</text>
<text x="396.2" y="141.46" font-size="4.95" text-anchor="end" fill="#1a1a1a" stroke="#1a1a1a" stroke-width="0.12">-0.40</text>
<text x="396.2" y="148.24" font-size="4.95" text-anchor="end" fill="#1a1a1a" stroke="#1a1a1a" stroke-width="0.12">-0.60</text>
<text x="396.2" y="155.02" font-size="4.95" text-anchor="end" fill="#1a1a1a" stroke="#1a1a1a" stroke-width="0.12">-0.80</text>
<text x="401.02" y="159.28" font-size="4.95" text-anchor="middle" fill="#1a1a1a" stroke="#1a1a1a" stroke-width="0.12">0</text>
<text x="415.13" y="159.28" font-size="4.95" text-anchor="middle" fill="#1a1a1a" stroke="#1a1a1a" stroke-width="0.12">50</text>
<text x="429.69" y="159.28" font-size="4.95" text-anchor="middle" fill="#1a1a1a" stroke="#1a1a1a" stroke-width="0.12">100</text>
<text x="444.25" y="159.28" font-size="4.95" text-anchor="middle" fill="#1a1a1a" stroke="#1a1a1a" stroke-width="0.12">150</text>
<text x="458.81" y="159.28" font-size="4.95" text-anchor="middle" fill="#1a1a1a" stroke="#1a1a1a" stroke-width="0.12">200</text>
<text x="473.37" y="159.28" font-size="4.95" text-anchor="middle" fill="#1a1a1a" stroke="#1a1a1a" stroke-width="0.12">250</text>
<text x="487.93" y="159.28" font-size="4.95" text-anchor="middle" fill="#1a1a1a" stroke="#1a1a1a" stroke-width="0.12">300</text>
<clipPath id="cl_gL"><rect x="281.2" y="165.8" width="100.7" height="55.6"/></clipPath>
<g clip-path="url(#cl_gL)">
<path d="M286.13 165.8V221.4M301.46 165.8V221.4M316.48 165.8V221.4M331.81 165.8V221.4M346.22 165.8V221.4M361.24 165.8V221.4M376.26 165.8V221.4M281.2 169.6H381.9M281.2 176.04H381.9M281.2 182.32H381.9M281.2 188.45H381.9M281.2 194.89H381.9M281.2 201.02H381.9M281.2 207.15H381.9M281.2 213.74H381.9M281.2 219.87H381.9" stroke="#e3e3e3" stroke-width="0.6" fill="none"/>
<path d="M292.26 201.02L292.26 201.02L297.63 200.71L299.16 199.95L303.76 200.25L304.52 201.02L316.02 201.02L316.79 198.72L318.01 195.35L319.55 194.89L320.62 193.36L321.69 189.52L322.15 180.33L323.23 182.63L324.14 179.56L325.22 178.49L326.75 178.8L327.82 181.86L328.74 189.52L329.82 194.89L330.58 200.56L332.12 200.25L338.25 200.25L340.55 200.71L341.31 201.02L353.27 201.02L353.88 183.39L354.49 174.2L355.87 173.43L357.41 171.13L358.48 170.36L359.4 174.2L359.71 187.99L360.47 198.72L361.24 192.59L362 180.33L362.77 171.13L363.54 168.37L365.84 169.29L366.6 169.6L367.37 174.2L368.14 181.86L368.9 187.99L369.67 200.56L370.44 201.02L370.44 201.02Z" fill="#5a5aff"/>
<path d="M292.26 201.02L292.26 201.02L297.63 200.71L299.16 199.95L303.76 200.25L304.52 201.02L316.02 201.02L316.79 198.72L318.01 195.35L319.55 194.89L320.62 193.36L321.69 189.52L322.15 180.33L323.23 182.63L324.14 179.56L325.22 178.49L326.75 178.8L327.82 181.86L328.74 189.52L329.82 194.89L330.58 200.56L332.12 200.25L338.25 200.25L340.55 200.71L341.31 201.02L353.27 201.02L353.88 183.39L354.49 174.2L355.87 173.43L357.41 171.13L358.48 170.36L359.4 174.2L359.71 187.99L360.47 198.72L361.24 192.59L362 180.33L362.77 171.13L363.54 168.37L365.84 169.29L366.6 169.6L367.37 174.2L368.14 181.86L368.9 187.99L369.67 200.56L370.44 201.02L370.44 201.02Z" fill="url(#sb2)"/>
<path d="M292.26 201.02L292.26 201.02L294.56 202.55L296.09 204.55L298.09 206.08L300.69 204.09L302.99 202.09L303.76 201.02L307.59 201.02L307.9 206.08L313.72 206.08L314.03 201.48L316.02 201.48L317.55 201.79L319.09 202.55L319.55 207.61L324.45 207.92L325.22 208.68L325.98 203.32L328.28 203.01L329.82 201.79L330.58 201.48L331.35 201.79L332.12 206.39L333.65 207.92L334.87 208.68L335.95 209.14L337.02 206.39L338.25 203.01L339.01 201.79L345.14 201.79L345.91 204.09L347.44 205.16L349.74 204.55L351.28 203.32L352.04 201.79L357.41 201.79L358.17 203.32L358.94 210.98L359.71 217.12L360.47 218.65L362.77 218.65L364 217.88L364.61 210.98L365.07 203.32L365.84 201.79L367.37 201.79L368.14 205.16L370.44 205.16L371.97 204.09L373.5 202.55L375.03 201.48L375.8 201.02L375.8 201.02Z" fill="#f6666f"/>
<path d="M292.26 201.02L292.26 201.02L294.56 202.55L296.09 204.55L298.09 206.08L300.69 204.09L302.99 202.09L303.76 201.02L307.59 201.02L307.9 206.08L313.72 206.08L314.03 201.48L316.02 201.48L317.55 201.79L319.09 202.55L319.55 207.61L324.45 207.92L325.22 208.68L325.98 203.32L328.28 203.01L329.82 201.79L330.58 201.48L331.35 201.79L332.12 206.39L333.65 207.92L334.87 208.68L335.95 209.14L337.02 206.39L338.25 203.01L339.01 201.79L345.14 201.79L345.91 204.09L347.44 205.16L349.74 204.55L351.28 203.32L352.04 201.79L357.41 201.79L358.17 203.32L358.94 210.98L359.71 217.12L360.47 218.65L362.77 218.65L364 217.88L364.61 210.98L365.07 203.32L365.84 201.79L367.37 201.79L368.14 205.16L370.44 205.16L371.97 204.09L373.5 202.55L375.03 201.48L375.8 201.02L375.8 201.02Z" fill="url(#sr2)"/>
<path d="M286.13 165.8V221.4M301.46 165.8V221.4M316.48 165.8V221.4M331.81 165.8V221.4M346.22 165.8V221.4M361.24 165.8V221.4M376.26 165.8V221.4M281.2 169.6H381.9M281.2 176.04H381.9M281.2 182.32H381.9M281.2 188.45H381.9M281.2 194.89H381.9M281.2 201.02H381.9M281.2 207.15H381.9M281.2 213.74H381.9M281.2 219.87H381.9" stroke="#777" stroke-opacity="0.22" stroke-width="0.6" fill="none"/>
</g>
<rect x="281.2" y="165.8" width="100.7" height="55.6" fill="none" stroke="#cfcfcf" stroke-width="0.6"/>
<rect x="282.7" y="167.3" width="3.2" height="1.2" fill="#5a5aff"/>
<rect x="282.7" y="169.4" width="3.2" height="1.2" fill="#f6666f"/>
<path d="M287 167.9h11.5M287 170h11.5" stroke="#888" stroke-width="0.6" stroke-dasharray="3 0.4 5 0.4 3"/>
<path d="M364.4 216.2h13M364.4 218.1h13" stroke="#777" stroke-width="0.65" stroke-dasharray="4 0.5 2 0.4 6 0.5"/>
<text x="280.6" y="171.48" font-size="4.95" text-anchor="end" fill="#1a1a1a" stroke="#1a1a1a" stroke-width="0.12">1.00</text>
<text x="280.6" y="177.72" font-size="4.95" text-anchor="end" fill="#1a1a1a" stroke="#1a1a1a" stroke-width="0.12">0.80</text>
<text x="280.6" y="183.96" font-size="4.95" text-anchor="end" fill="#1a1a1a" stroke="#1a1a1a" stroke-width="0.12">0.60</text>
<text x="280.6" y="190.2" font-size="4.95" text-anchor="end" fill="#1a1a1a" stroke="#1a1a1a" stroke-width="0.12">0.40</text>
<text x="280.6" y="196.44" font-size="4.95" text-anchor="end" fill="#1a1a1a" stroke="#1a1a1a" stroke-width="0.12">0.20</text>
<text x="280.6" y="202.68" font-size="4.95" text-anchor="end" fill="#1a1a1a" stroke="#1a1a1a" stroke-width="0.12">0.00</text>
<text x="280.6" y="208.92" font-size="4.95" text-anchor="end" fill="#1a1a1a" stroke="#1a1a1a" stroke-width="0.12">-0.20</text>
<text x="280.6" y="215.16" font-size="4.95" text-anchor="end" fill="#1a1a1a" stroke="#1a1a1a" stroke-width="0.12">-0.40</text>
<text x="280.6" y="221.4" font-size="4.95" text-anchor="end" fill="#1a1a1a" stroke="#1a1a1a" stroke-width="0.12">-0.60</text>
<text x="285.33" y="227.18" font-size="4.95" text-anchor="middle" fill="#1a1a1a" stroke="#1a1a1a" stroke-width="0.12">0</text>
<text x="300.66" y="227.18" font-size="4.95" text-anchor="middle" fill="#1a1a1a" stroke="#1a1a1a" stroke-width="0.12">50</text>
<text x="315.68" y="227.18" font-size="4.95" text-anchor="middle" fill="#1a1a1a" stroke="#1a1a1a" stroke-width="0.12">100</text>
<text x="331.01" y="227.18" font-size="4.95" text-anchor="middle" fill="#1a1a1a" stroke="#1a1a1a" stroke-width="0.12">150</text>
<text x="345.42" y="227.18" font-size="4.95" text-anchor="middle" fill="#1a1a1a" stroke="#1a1a1a" stroke-width="0.12">200</text>
<text x="360.44" y="227.18" font-size="4.95" text-anchor="middle" fill="#1a1a1a" stroke="#1a1a1a" stroke-width="0.12">250</text>
<text x="375.46" y="227.18" font-size="4.95" text-anchor="middle" fill="#1a1a1a" stroke="#1a1a1a" stroke-width="0.12">300</text>
<clipPath id="cl_gR"><rect x="397.2" y="166.2" width="100.8" height="55.4"/></clipPath>
<g clip-path="url(#cl_gR)">
<path d="M402.44 166.2V221.6M417.46 166.2V221.6M432.48 166.2V221.6M447.35 166.2V221.6M462.22 166.2V221.6M477.24 166.2V221.6M491.8 166.2V221.6M397.2 171.44H498M397.2 181.55H498M397.2 191.36H498M397.2 201.02H498M397.2 210.22H498M397.2 219.41H498" stroke="#e3e3e3" stroke-width="0.6" fill="none"/>
<path d="M405.2 210.22L405.2 210.22L405.96 207.92L407.5 207.15L409.8 207.61L411.02 206.39L411.63 205.62L412.55 207.92L414.7 207.92L415.62 204.55L416.69 203.32L418.23 203.32L419.76 204.55L421.29 204.85L422.06 207.92L423.59 209.45L425.12 210.22L427.42 210.22L428.96 209.76L431.25 209.14L433.55 209.45L436.62 209.91L438.92 210.22L440.45 209.45L441.98 207.61L443.52 206.39L445.05 205.62L447.35 206.08L448.88 207.15L450.41 208.68L451.95 209.76L454.25 209.91L455.78 209.45L458.08 209.14L460.38 209.45L461.91 210.22L463.44 210.22L466.51 209.45L467.74 204.09L468.35 186.46L468.96 174.2L469.57 169.29L470.49 168.37L472.03 168.37L472.95 169.29L473.56 172.66L474.17 180.33L474.94 192.59L475.71 200.25L476.47 207.92L477.24 208.68L478 207.92L479.54 206.69L481.07 206.08L482.6 206.69L483.37 207.92L484.9 209.45L487.97 209.76L492.57 210.22L492.57 210.22Z" fill="#5a5aff"/>
<path d="M405.2 210.22L405.2 210.22L405.96 207.92L407.5 207.15L409.8 207.61L411.02 206.39L411.63 205.62L412.55 207.92L414.7 207.92L415.62 204.55L416.69 203.32L418.23 203.32L419.76 204.55L421.29 204.85L422.06 207.92L423.59 209.45L425.12 210.22L427.42 210.22L428.96 209.76L431.25 209.14L433.55 209.45L436.62 209.91L438.92 210.22L440.45 209.45L441.98 207.61L443.52 206.39L445.05 205.62L447.35 206.08L448.88 207.15L450.41 208.68L451.95 209.76L454.25 209.91L455.78 209.45L458.08 209.14L460.38 209.45L461.91 210.22L463.44 210.22L466.51 209.45L467.74 204.09L468.35 186.46L468.96 174.2L469.57 169.29L470.49 168.37L472.03 168.37L472.95 169.29L473.56 172.66L474.17 180.33L474.94 192.59L475.71 200.25L476.47 207.92L477.24 208.68L478 207.92L479.54 206.69L481.07 206.08L482.6 206.69L483.37 207.92L484.9 209.45L487.97 209.76L492.57 210.22L492.57 210.22Z" fill="url(#sb2)"/>
<path d="M405.2 210.22L405.2 210.22L405.2 211.75L417.46 211.75L418.99 210.98L425.12 210.68L425.89 210.22L438.92 210.22L439.68 211.29L441.22 212.21L443.52 212.52L445.82 212.52L447.35 211.75L448.88 210.68L449.65 210.22L463.44 210.22L463.75 212.52L464.98 214.82L467.28 216.35L468.81 217.12L469.88 218.65L471.11 217.12L472.64 216.35L474.48 215.89L475.71 214.05L476.47 210.98L477.24 210.22L481.07 210.22L481.84 211.29L484.14 211.75L486.44 211.29L487.97 210.68L489.5 210.52L489.5 210.22Z" fill="#f6666f"/>
<path d="M405.2 210.22L405.2 210.22L405.2 211.75L417.46 211.75L418.99 210.98L425.12 210.68L425.89 210.22L438.92 210.22L439.68 211.29L441.22 212.21L443.52 212.52L445.82 212.52L447.35 211.75L448.88 210.68L449.65 210.22L463.44 210.22L463.75 212.52L464.98 214.82L467.28 216.35L468.81 217.12L469.88 218.65L471.11 217.12L472.64 216.35L474.48 215.89L475.71 214.05L476.47 210.98L477.24 210.22L481.07 210.22L481.84 211.29L484.14 211.75L486.44 211.29L487.97 210.68L489.5 210.52L489.5 210.22Z" fill="url(#sr2)"/>
<path d="M402.44 166.2V221.6M417.46 166.2V221.6M432.48 166.2V221.6M447.35 166.2V221.6M462.22 166.2V221.6M477.24 166.2V221.6M491.8 166.2V221.6M397.2 171.44H498M397.2 181.55H498M397.2 191.36H498M397.2 201.02H498M397.2 210.22H498M397.2 219.41H498" stroke="#777" stroke-opacity="0.22" stroke-width="0.6" fill="none"/>
</g>
<rect x="397.2" y="166.2" width="100.8" height="55.4" fill="none" stroke="#cfcfcf" stroke-width="0.6"/>
<rect x="480.5" y="167.7" width="3.2" height="1.2" fill="#5a5aff"/>
<rect x="480.5" y="169.8" width="3.2" height="1.2" fill="#f6666f"/>
<path d="M484.8 168.3h11.5M484.8 170.4h11.5" stroke="#888" stroke-width="0.6" stroke-dasharray="3 0.4 5 0.4 3"/>
<path d="M480.5 216.4h13M480.5 218.3h13" stroke="#777" stroke-width="0.65" stroke-dasharray="4 0.5 2 0.4 6 0.5"/>
<text x="396.2" y="173.68" font-size="4.95" text-anchor="end" fill="#1a1a1a" stroke="#1a1a1a" stroke-width="0.12">2.00</text>
<text x="396.2" y="183.88" font-size="4.95" text-anchor="end" fill="#1a1a1a" stroke="#1a1a1a" stroke-width="0.12">1.50</text>
<text x="396.2" y="193.38" font-size="4.95" text-anchor="end" fill="#1a1a1a" stroke="#1a1a1a" stroke-width="0.12">1.00</text>
<text x="396.2" y="202.78" font-size="4.95" text-anchor="end" fill="#1a1a1a" stroke="#1a1a1a" stroke-width="0.12">0.50</text>
<text x="396.2" y="212.48" font-size="4.95" text-anchor="end" fill="#1a1a1a" stroke="#1a1a1a" stroke-width="0.12">0.00</text>
<text x="396.2" y="221.88" font-size="4.95" text-anchor="end" fill="#1a1a1a" stroke="#1a1a1a" stroke-width="0.12">-0.50</text>
<text x="403.4" y="226.68" font-size="4.95" text-anchor="middle" fill="#1a1a1a" stroke="#1a1a1a" stroke-width="0.12">0</text>
<text x="416.5" y="226.68" font-size="4.95" text-anchor="middle" fill="#1a1a1a" stroke="#1a1a1a" stroke-width="0.12">50</text>
<text x="431.8" y="226.68" font-size="4.95" text-anchor="middle" fill="#1a1a1a" stroke="#1a1a1a" stroke-width="0.12">100</text>
<text x="446.3" y="226.68" font-size="4.95" text-anchor="middle" fill="#1a1a1a" stroke="#1a1a1a" stroke-width="0.12">150</text>
<text x="460.9" y="226.68" font-size="4.95" text-anchor="middle" fill="#1a1a1a" stroke="#1a1a1a" stroke-width="0.12">200</text>
<text x="477" y="226.68" font-size="4.95" text-anchor="middle" fill="#1a1a1a" stroke="#1a1a1a" stroke-width="0.12">250</text>
<text x="493.1" y="226.68" font-size="4.95" text-anchor="middle" fill="#1a1a1a" stroke="#1a1a1a" stroke-width="0.12">300</text>
<clipPath id="cl_hL"><rect x="281.2" y="233.8" width="101" height="56.3"/></clipPath>
<g clip-path="url(#cl_hL)">
<path d="M286.44 233.8V290.1M301.15 233.8V290.1M315.56 233.8V290.1M330.58 233.8V290.1M345.6 233.8V290.1M360.47 233.8V290.1M375.34 233.8V290.1M281.2 239.13H382.2M281.2 246.8H382.2M281.2 254.46H382.2M281.2 261.82H382.2M281.2 269.33H382.2M281.2 276.99H382.2M281.2 284.66H382.2" stroke="#e3e3e3" stroke-width="0.6" fill="none"/>
<path d="M286.13 246.8L286.13 246.8L286.9 246.49L292.26 246.34L293.03 246.8L298.39 246.8L299.16 245.26L300.69 242.2L302.23 236.37L304.52 236.83L306.06 239.9L307.59 242.2L308.36 246.49L309.12 246.8L316.02 246.8L316.79 246.49L322.92 246.34L325.98 246.18L329.05 245.88L330.58 245.26L332.12 242.2L333.65 237.29L335.95 237.9L338.25 238.36L339.01 240.66L340.09 245.26L341.31 246.03L342.84 245.57L345.6 245.57L346.22 240.66L347.44 237.29L351.28 237.29L352.04 239.9L352.81 242.2L354.34 244.5L355.87 244.5L357.41 243.42L358.94 243.73L360.47 244.5L362 245.26L362.77 246.34L364.61 246.8L366.6 246.49L367.37 242.5L368.9 242.2L370.44 240.66L371.66 239.9L372.73 241.43L373.81 244.04L375.03 244.04L376.26 244.96L376.87 246.49L377.79 246.8L377.79 246.8Z" fill="#5a5aff"/>
<path d="M286.13 246.8L286.13 246.8L286.9 246.49L292.26 246.34L293.03 246.8L298.39 246.8L299.16 245.26L300.69 242.2L302.23 236.37L304.52 236.83L306.06 239.9L307.59 242.2L308.36 246.49L309.12 246.8L316.02 246.8L316.79 246.49L322.92 246.34L325.98 246.18L329.05 245.88L330.58 245.26L332.12 242.2L333.65 237.29L335.95 237.9L338.25 238.36L339.01 240.66L340.09 245.26L341.31 246.03L342.84 245.57L345.6 245.57L346.22 240.66L347.44 237.29L351.28 237.29L352.04 239.9L352.81 242.2L354.34 244.5L355.87 244.5L357.41 243.42L358.94 243.73L360.47 244.5L362 245.26L362.77 246.34L364.61 246.8L366.6 246.49L367.37 242.5L368.9 242.2L370.44 240.66L371.66 239.9L372.73 241.43L373.81 244.04L375.03 244.04L376.26 244.96L376.87 246.49L377.79 246.8L377.79 246.8Z" fill="url(#sb2)"/>
<path d="M286.13 246.8L286.13 246.8L286.9 249.09L288.43 250.63L290.73 251.39L292.26 250.63L293.03 248.02L293.8 247.56L298.39 247.87L300.69 248.02L301.46 249.86L302.99 250.63L304.52 251.09L306.06 251.39L307.59 252.16L308.36 249.86L309.89 249.09L312.19 248.02L313.42 247.56L313.72 246.8L316.02 246.8L316.79 247.56L319.09 248.33L320.16 249.55L321.08 252.93L322.92 253.23L325.22 252.93L326.75 252.16L327.52 248.02L329.05 247.56L331.35 247.26L332.12 247.56L332.88 252.93L333.65 257.52L335.18 259.82L336.71 260.9L337.94 260.9L338.55 259.06L339.01 252.93L339.78 248.33L340.55 247.56L341.31 247.56L342.84 249.09L344.38 251.39L345.91 254.46L347.44 257.52L348.67 259.36L349.74 258.29L351.28 256.76L352.81 254.46L353.57 252.16L355.11 249.86L358.17 248.33L361.24 247.56L363.54 247.1L364.3 247.1L364.61 251.39L365.07 263.66L365.84 275.92L366.6 282.05L367.37 285.12L368.6 287.41L369.67 287.41L370.44 283.58L371.2 274.39L371.97 263.66L372.73 251.39L373.5 247.56L373.81 246.8L373.81 246.8Z" fill="#f6666f"/>
<path d="M286.13 246.8L286.13 246.8L286.9 249.09L288.43 250.63L290.73 251.39L292.26 250.63L293.03 248.02L293.8 247.56L298.39 247.87L300.69 248.02L301.46 249.86L302.99 250.63L304.52 251.09L306.06 251.39L307.59 252.16L308.36 249.86L309.89 249.09L312.19 248.02L313.42 247.56L313.72 246.8L316.02 246.8L316.79 247.56L319.09 248.33L320.16 249.55L321.08 252.93L322.92 253.23L325.22 252.93L326.75 252.16L327.52 248.02L329.05 247.56L331.35 247.26L332.12 247.56L332.88 252.93L333.65 257.52L335.18 259.82L336.71 260.9L337.94 260.9L338.55 259.06L339.01 252.93L339.78 248.33L340.55 247.56L341.31 247.56L342.84 249.09L344.38 251.39L345.91 254.46L347.44 257.52L348.67 259.36L349.74 258.29L351.28 256.76L352.81 254.46L353.57 252.16L355.11 249.86L358.17 248.33L361.24 247.56L363.54 247.1L364.3 247.1L364.61 251.39L365.07 263.66L365.84 275.92L366.6 282.05L367.37 285.12L368.6 287.41L369.67 287.41L370.44 283.58L371.2 274.39L371.97 263.66L372.73 251.39L373.5 247.56L373.81 246.8L373.81 246.8Z" fill="url(#sr2)"/>
<path d="M286.44 233.8V290.1M301.15 233.8V290.1M315.56 233.8V290.1M330.58 233.8V290.1M345.6 233.8V290.1M360.47 233.8V290.1M375.34 233.8V290.1M281.2 239.13H382.2M281.2 246.8H382.2M281.2 254.46H382.2M281.2 261.82H382.2M281.2 269.33H382.2M281.2 276.99H382.2M281.2 284.66H382.2" stroke="#777" stroke-opacity="0.22" stroke-width="0.6" fill="none"/>
</g>
<rect x="281.2" y="233.8" width="101" height="56.3" fill="none" stroke="#cfcfcf" stroke-width="0.6"/>
<rect x="282.7" y="235.3" width="3.2" height="1.2" fill="#5a5aff"/>
<rect x="282.7" y="237.4" width="3.2" height="1.2" fill="#f6666f"/>
<path d="M287 235.9h11.5M287 238h11.5" stroke="#888" stroke-width="0.6" stroke-dasharray="3 0.4 5 0.4 3"/>
<path d="M364.7 284.9h13M364.7 286.8h13" stroke="#777" stroke-width="0.65" stroke-dasharray="4 0.5 2 0.4 6 0.5"/>
<text x="280.2" y="241.71" font-size="5.3" text-anchor="end" fill="#1a1a1a" stroke="#1a1a1a" stroke-width="0.12">0.25</text>
<text x="280.2" y="249.19" font-size="5.3" text-anchor="end" fill="#1a1a1a" stroke="#1a1a1a" stroke-width="0.12">0.00</text>
<text x="280.2" y="256.67" font-size="5.3" text-anchor="end" fill="#1a1a1a" stroke="#1a1a1a" stroke-width="0.12">-0.25</text>
<text x="280.2" y="264.15" font-size="5.3" text-anchor="end" fill="#1a1a1a" stroke="#1a1a1a" stroke-width="0.12">-0.50</text>
<text x="280.2" y="271.63" font-size="5.3" text-anchor="end" fill="#1a1a1a" stroke="#1a1a1a" stroke-width="0.12">-0.75</text>
<text x="280.2" y="279.11" font-size="5.3" text-anchor="end" fill="#1a1a1a" stroke="#1a1a1a" stroke-width="0.12">-1.00</text>
<text x="280.2" y="286.59" font-size="5.3" text-anchor="end" fill="#1a1a1a" stroke="#1a1a1a" stroke-width="0.12">-1.25</text>
<text x="288.4" y="296.51" font-size="5.3" text-anchor="middle" fill="#1a1a1a" stroke="#1a1a1a" stroke-width="0.12">0</text>
<text x="299.9" y="296.51" font-size="5.3" text-anchor="middle" fill="#1a1a1a" stroke="#1a1a1a" stroke-width="0.12">50</text>
<text x="315" y="296.51" font-size="5.3" text-anchor="middle" fill="#1a1a1a" stroke="#1a1a1a" stroke-width="0.12">100</text>
<text x="329.4" y="296.51" font-size="5.3" text-anchor="middle" fill="#1a1a1a" stroke="#1a1a1a" stroke-width="0.12">150</text>
<text x="343.6" y="296.51" font-size="5.3" text-anchor="middle" fill="#1a1a1a" stroke="#1a1a1a" stroke-width="0.12">200</text>
<text x="357.9" y="296.51" font-size="5.3" text-anchor="middle" fill="#1a1a1a" stroke="#1a1a1a" stroke-width="0.12">250</text>
<text x="372.7" y="296.51" font-size="5.3" text-anchor="middle" fill="#1a1a1a" stroke="#1a1a1a" stroke-width="0.12">300</text>
<clipPath id="cl_hR"><rect x="397.2" y="236.3" width="101.1" height="55.7"/></clipPath>
<g clip-path="url(#cl_hR)">
<path d="M402.13 236.3V292M415.62 236.3V292M428.96 236.3V292M442.75 236.3V292M455.78 236.3V292M469.27 236.3V292M482.6 236.3V292M397.2 243.5H498.3M397.2 250.55H498.3M397.2 257.3H498.3M397.2 263.89H498.3M397.2 270.33H498.3M397.2 276.92H498.3M397.2 283.36H498.3M397.2 289.95H498.3" stroke="#e3e3e3" stroke-width="0.6" fill="none"/>
<path d="M405.2 270.33L405.2 270.33L405.96 269.25L408.26 268.03L410.1 266.96L411.33 268.03L412.55 268.95L413.63 267.42L414.7 268.49L415.16 269.56L418.99 269.25L420.22 262.36L422.06 261.59L423.28 246.26L424.36 244.73L425.12 239.36L425.89 243.96L427.42 244.42L428.5 246.26L428.96 260.82L430.49 261.59L432.02 267.72L433.55 266.19L434.32 265.42L436.62 265.42L438.61 266.96L439.68 268.49L440.45 269.25L441.98 264.66L443.21 256.23L445.05 255.46L446.58 256.23L447.35 263.89L448.88 268.49L451.18 269.56L452.71 270.33L455.01 270.33L456.55 269.56L460.38 269.56L461.91 270.02L466.51 270.02L467.74 268.64L469.27 268.03L471.11 268.03L472.64 267.72L474.17 268.03L475.4 266.8L476.01 265.42L477.55 265.88L478.77 263.89L480 261.9L481.07 262.51L482.3 260.06L483.37 258.22L484.6 259.44L485.67 261.59L487.2 264.04L487.97 266.96L488.73 268.95L490.27 269.25L493.33 269.25L494.1 270.33L494.1 270.33Z" fill="#5a5aff"/>
<path d="M405.2 270.33L405.2 270.33L405.96 269.25L408.26 268.03L410.1 266.96L411.33 268.03L412.55 268.95L413.63 267.42L414.7 268.49L415.16 269.56L418.99 269.25L420.22 262.36L422.06 261.59L423.28 246.26L424.36 244.73L425.12 239.36L425.89 243.96L427.42 244.42L428.5 246.26L428.96 260.82L430.49 261.59L432.02 267.72L433.55 266.19L434.32 265.42L436.62 265.42L438.61 266.96L439.68 268.49L440.45 269.25L441.98 264.66L443.21 256.23L445.05 255.46L446.58 256.23L447.35 263.89L448.88 268.49L451.18 269.56L452.71 270.33L455.01 270.33L456.55 269.56L460.38 269.56L461.91 270.02L466.51 270.02L467.74 268.64L469.27 268.03L471.11 268.03L472.64 267.72L474.17 268.03L475.4 266.8L476.01 265.42L477.55 265.88L478.77 263.89L480 261.9L481.07 262.51L482.3 260.06L483.37 258.22L484.6 259.44L485.67 261.59L487.2 264.04L487.97 266.96L488.73 268.95L490.27 269.25L493.33 269.25L494.1 270.33L494.1 270.33Z" fill="url(#sb2)"/>
<path d="M415.16 270.33L415.16 270.33L415.93 271.55L417.46 273.55L418.99 275.39L420.52 275.69L421.75 276.15L422.36 276.61L423.59 274.62L425.89 274.16L427.42 274.62L427.88 270.79L428.5 270.33L432.02 270.33L433.55 270.79L435.85 271.09L437.08 272.01L437.69 276.15L438.92 281.52L440.45 281.82L441.68 282.74L442.75 281.52L443.52 276.92L444.74 274.16L445.82 274.62L447.35 273.09L448.88 271.55L450.41 270.79L451.95 270.33L454.25 270.33L454.55 272.32L459.61 272.32L460.07 270.48L461.91 270.48L463.44 273.85L464.98 277.68L466.51 280.75L468.04 283.36L469.27 285.35L470.34 288.41L471.87 287.95L473.41 286.88L474.17 284.58L474.94 281.52L475.71 277.68L477.24 273.85L478.77 271.55L480 270.79L481.84 270.79L484.14 271.55L486.44 272.32L487.66 274.62L488.73 275.69L491.03 275.08L492.57 273.85L493.33 271.55L494.1 270.33L494.1 270.33Z" fill="#f6666f"/>
<path d="M415.16 270.33L415.16 270.33L415.93 271.55L417.46 273.55L418.99 275.39L420.52 275.69L421.75 276.15L422.36 276.61L423.59 274.62L425.89 274.16L427.42 274.62L427.88 270.79L428.5 270.33L432.02 270.33L433.55 270.79L435.85 271.09L437.08 272.01L437.69 276.15L438.92 281.52L440.45 281.82L441.68 282.74L442.75 281.52L443.52 276.92L444.74 274.16L445.82 274.62L447.35 273.09L448.88 271.55L450.41 270.79L451.95 270.33L454.25 270.33L454.55 272.32L459.61 272.32L460.07 270.48L461.91 270.48L463.44 273.85L464.98 277.68L466.51 280.75L468.04 283.36L469.27 285.35L470.34 288.41L471.87 287.95L473.41 286.88L474.17 284.58L474.94 281.52L475.71 277.68L477.24 273.85L478.77 271.55L480 270.79L481.84 270.79L484.14 271.55L486.44 272.32L487.66 274.62L488.73 275.69L491.03 275.08L492.57 273.85L493.33 271.55L494.1 270.33L494.1 270.33Z" fill="url(#sr2)"/>
<path d="M402.13 236.3V292M415.62 236.3V292M428.96 236.3V292M442.75 236.3V292M455.78 236.3V292M469.27 236.3V292M482.6 236.3V292M397.2 243.5H498.3M397.2 250.55H498.3M397.2 257.3H498.3M397.2 263.89H498.3M397.2 270.33H498.3M397.2 276.92H498.3M397.2 283.36H498.3M397.2 289.95H498.3" stroke="#777" stroke-opacity="0.22" stroke-width="0.6" fill="none"/>
</g>
<rect x="397.2" y="236.3" width="101.1" height="55.7" fill="none" stroke="#cfcfcf" stroke-width="0.6"/>
<rect x="480.8" y="237.8" width="3.2" height="1.2" fill="#5a5aff"/>
<rect x="480.8" y="239.9" width="3.2" height="1.2" fill="#f6666f"/>
<path d="M485.1 238.4h11.5M485.1 240.5h11.5" stroke="#888" stroke-width="0.6" stroke-dasharray="3 0.4 5 0.4 3"/>
<path d="M480.8 286.8h13M480.8 288.7h13" stroke="#777" stroke-width="0.65" stroke-dasharray="4 0.5 2 0.4 6 0.5"/>
<text x="396.2" y="239.38" font-size="4.95" text-anchor="end" fill="#1a1a1a" stroke="#1a1a1a" stroke-width="0.12">1.00</text>
<text x="396.2" y="245.96" font-size="4.95" text-anchor="end" fill="#1a1a1a" stroke="#1a1a1a" stroke-width="0.12">0.80</text>
<text x="396.2" y="252.54" font-size="4.95" text-anchor="end" fill="#1a1a1a" stroke="#1a1a1a" stroke-width="0.12">0.60</text>
<text x="396.2" y="259.12" font-size="4.95" text-anchor="end" fill="#1a1a1a" stroke="#1a1a1a" stroke-width="0.12">0.40</text>
<text x="396.2" y="265.7" font-size="4.95" text-anchor="end" fill="#1a1a1a" stroke="#1a1a1a" stroke-width="0.12">0.20</text>
<text x="396.2" y="272.28" font-size="4.95" text-anchor="end" fill="#1a1a1a" stroke="#1a1a1a" stroke-width="0.12">0.00</text>
<text x="396.2" y="278.86" font-size="4.95" text-anchor="end" fill="#1a1a1a" stroke="#1a1a1a" stroke-width="0.12">-0.20</text>
<text x="396.2" y="285.44" font-size="4.95" text-anchor="end" fill="#1a1a1a" stroke="#1a1a1a" stroke-width="0.12">-0.40</text>
<text x="396.2" y="292.02" font-size="4.95" text-anchor="end" fill="#1a1a1a" stroke="#1a1a1a" stroke-width="0.12">-0.60</text>
<text x="401.33" y="298.58" font-size="4.95" text-anchor="middle" fill="#1a1a1a" stroke="#1a1a1a" stroke-width="0.12">0</text>
<text x="414.82" y="298.58" font-size="4.95" text-anchor="middle" fill="#1a1a1a" stroke="#1a1a1a" stroke-width="0.12">50</text>
<text x="428.16" y="298.58" font-size="4.95" text-anchor="middle" fill="#1a1a1a" stroke="#1a1a1a" stroke-width="0.12">100</text>
<text x="441.95" y="298.58" font-size="4.95" text-anchor="middle" fill="#1a1a1a" stroke="#1a1a1a" stroke-width="0.12">150</text>
<text x="454.98" y="298.58" font-size="4.95" text-anchor="middle" fill="#1a1a1a" stroke="#1a1a1a" stroke-width="0.12">200</text>
<text x="468.47" y="298.58" font-size="4.95" text-anchor="middle" fill="#1a1a1a" stroke="#1a1a1a" stroke-width="0.12">250</text>
<text x="481.8" y="298.58" font-size="4.95" text-anchor="middle" fill="#1a1a1a" stroke="#1a1a1a" stroke-width="0.12">300</text>
<text x="495.14" y="298.58" font-size="4.95" text-anchor="middle" fill="#1a1a1a" stroke="#1a1a1a" stroke-width="0.12">350</text>
<clipPath id="cl_j"><rect x="539.1" y="123.8" width="143.6" height="81"/></clipPath>
<g clip-path="url(#cl_j)">
<path d="M546.83 123.8V204.8M577.31 123.8V204.8M607.57 123.8V204.8M637.82 123.8V204.8M668.3 123.8V204.8M539.1 132.6H682.7M539.1 142.32H682.7M539.1 151.81H682.7M539.1 162.19H682.7M539.1 172.35H682.7M539.1 182.07H682.7M539.1 192.23H682.7M539.1 201.95H682.7" stroke="#e3e3e3" stroke-width="0.6" fill="none"/>
<path d="M546.83 151.81L546.83 151.81L547.94 151.15L550.15 150.71L551.69 146.29L552.36 145.19L555.67 144.97L560.08 144.75L561.85 144.75L562.29 141.88L562.73 135.25L563.4 129.73L564.06 131.94L564.94 133.04L566.71 132.6L568.92 131.94L570.69 131.28L571.57 129.73L572.89 128.18L573.78 128.63L574.44 130.83L575.1 138.56L575.99 142.98L577.75 144.08L579.96 145.19L582.17 147.4L584.38 150.71L586.59 151.15L588.8 150.71L591 148.94L593.21 148.5L596.52 148.94L599.84 149.61L602.05 150.71L604.25 151.37L606.46 151.15L609.78 150.71L611.32 147.4L613.09 141.88L615.3 137.46L617.51 134.15L619.71 131.94L621.48 130.39L623.03 130.83L624.13 133.04L626.34 137.46L628.55 140.77L630.76 145.19L632.96 149.61L634.07 150.71L635.17 148.5L636.94 144.08L638.49 137.46L639.59 136.36L642.9 136.36L644.01 134.15L646.22 131.94L647.32 133.48L648.42 133.04L649.53 135.25L651.07 131.94L652.4 130.83L653.95 134.15L655.05 137.46L656.15 136.36L658.36 135.25L659.47 137.46L660.57 136.36L661.67 134.15L662.78 133.48L664.99 135.25L666.09 137.02L667.86 138.56L669.4 139.23L670.51 140.77L671.61 140.11L672.72 144.08L673.82 148.5L674.93 151.81L674.93 151.81Z" fill="#5a5aff"/>
<path d="M546.83 151.81L546.83 151.81L547.94 151.15L550.15 150.71L551.69 146.29L552.36 145.19L555.67 144.97L560.08 144.75L561.85 144.75L562.29 141.88L562.73 135.25L563.4 129.73L564.06 131.94L564.94 133.04L566.71 132.6L568.92 131.94L570.69 131.28L571.57 129.73L572.89 128.18L573.78 128.63L574.44 130.83L575.1 138.56L575.99 142.98L577.75 144.08L579.96 145.19L582.17 147.4L584.38 150.71L586.59 151.15L588.8 150.71L591 148.94L593.21 148.5L596.52 148.94L599.84 149.61L602.05 150.71L604.25 151.37L606.46 151.15L609.78 150.71L611.32 147.4L613.09 141.88L615.3 137.46L617.51 134.15L619.71 131.94L621.48 130.39L623.03 130.83L624.13 133.04L626.34 137.46L628.55 140.77L630.76 145.19L632.96 149.61L634.07 150.71L635.17 148.5L636.94 144.08L638.49 137.46L639.59 136.36L642.9 136.36L644.01 134.15L646.22 131.94L647.32 133.48L648.42 133.04L649.53 135.25L651.07 131.94L652.4 130.83L653.95 134.15L655.05 137.46L656.15 136.36L658.36 135.25L659.47 137.46L660.57 136.36L661.67 134.15L662.78 133.48L664.99 135.25L666.09 137.02L667.86 138.56L669.4 139.23L670.51 140.77L671.61 140.11L672.72 144.08L673.82 148.5L674.93 151.81L674.93 151.81Z" fill="url(#sb)"/>
<path d="M546.83 151.81L546.83 151.81L547.94 152.92L550.15 155.13L552.36 156.23L554.56 156.89L557.88 157.78L560.08 157.78L562.29 157.78L563.4 158.44L565.61 161.31L567.81 159.99L570.02 159.54L573.34 159.54L575.1 161.75L576.65 165.07L577.75 168.38L578.86 169.48L581.07 169.48L583.27 170.59L584.38 172.8L585.48 176.11L586.59 178.98L587.69 175L589.9 171.69L592.11 168.38L594.32 165.73L595.86 167.27L597.63 172.8L599.4 180.52L601.6 188.25L603.15 194.88L604.25 198.19L606.46 200.4L608.67 200.4L609.78 198.19L610.88 188.25L611.98 180.52L613.09 177.21L614.19 179.86L615.3 180.52L616.4 170.59L617.51 166.17L618.61 168.38L619.71 175L620.82 182.73L621.92 180.52L623.03 181.63L624.13 183.84L625.23 191.57L626.34 194.88L627.44 190.46L628.55 186.05L629.65 181.63L630.76 179.42L631.86 181.63L632.96 184.94L634.07 187.15L635.17 188.25L636.28 184.94L637.38 181.63L638.49 175L639.59 169.48L640.69 168.38L642.9 166.17L645.11 163.96L647.32 161.75L649.53 159.54L651.74 157.34L653.95 156.23L656.15 156.89L658.36 158.44L660.57 160.65L661.67 161.75L664.99 161.31L667.2 159.54L669.4 158.44L671.61 156.23L672.72 154.02L673.82 152.92L674.93 151.81L674.93 151.81Z" fill="#f6666f"/>
<path d="M546.83 151.81L546.83 151.81L547.94 152.92L550.15 155.13L552.36 156.23L554.56 156.89L557.88 157.78L560.08 157.78L562.29 157.78L563.4 158.44L565.61 161.31L567.81 159.99L570.02 159.54L573.34 159.54L575.1 161.75L576.65 165.07L577.75 168.38L578.86 169.48L581.07 169.48L583.27 170.59L584.38 172.8L585.48 176.11L586.59 178.98L587.69 175L589.9 171.69L592.11 168.38L594.32 165.73L595.86 167.27L597.63 172.8L599.4 180.52L601.6 188.25L603.15 194.88L604.25 198.19L606.46 200.4L608.67 200.4L609.78 198.19L610.88 188.25L611.98 180.52L613.09 177.21L614.19 179.86L615.3 180.52L616.4 170.59L617.51 166.17L618.61 168.38L619.71 175L620.82 182.73L621.92 180.52L623.03 181.63L624.13 183.84L625.23 191.57L626.34 194.88L627.44 190.46L628.55 186.05L629.65 181.63L630.76 179.42L631.86 181.63L632.96 184.94L634.07 187.15L635.17 188.25L636.28 184.94L637.38 181.63L638.49 175L639.59 169.48L640.69 168.38L642.9 166.17L645.11 163.96L647.32 161.75L649.53 159.54L651.74 157.34L653.95 156.23L656.15 156.89L658.36 158.44L660.57 160.65L661.67 161.75L664.99 161.31L667.2 159.54L669.4 158.44L671.61 156.23L672.72 154.02L673.82 152.92L674.93 151.81L674.93 151.81Z" fill="url(#sr)"/>
<path d="M546.83 123.8V204.8M577.31 123.8V204.8M607.57 123.8V204.8M637.82 123.8V204.8M668.3 123.8V204.8M539.1 132.6H682.7M539.1 142.32H682.7M539.1 151.81H682.7M539.1 162.19H682.7M539.1 172.35H682.7M539.1 182.07H682.7M539.1 192.23H682.7M539.1 201.95H682.7" stroke="#777" stroke-opacity="0.22" stroke-width="0.6" fill="none"/>
</g>
<rect x="539.1" y="123.8" width="143.6" height="81" fill="none" stroke="#cfcfcf" stroke-width="0.6"/>
<rect x="656.5" y="126" width="4.4" height="1.6" fill="#3030ff"/>
<rect x="656.5" y="129.4" width="4.4" height="1.6" fill="#ff3030"/>
<text x="662.7" y="127.6" font-size="2.6" fill="#444">Forward strand</text>
<text x="662.7" y="131" font-size="2.6" fill="#444">Reverse strand</text>
<text x="536.5" y="135.19" font-size="5.8" text-anchor="end" fill="#1a1a1a" stroke="#1a1a1a" stroke-width="0.12">10000</text>
<text x="536.5" y="144.39" font-size="5.8" text-anchor="end" fill="#1a1a1a" stroke="#1a1a1a" stroke-width="0.12">5000</text>
<text x="536.5" y="154.39" font-size="5.8" text-anchor="end" fill="#1a1a1a" stroke="#1a1a1a" stroke-width="0.12">0</text>
<text x="536.5" y="164.89" font-size="5.8" text-anchor="end" fill="#1a1a1a" stroke="#1a1a1a" stroke-width="0.12">-5000</text>
<text x="536.5" y="174.09" font-size="5.8" text-anchor="end" fill="#1a1a1a" stroke="#1a1a1a" stroke-width="0.12">-10000</text>
<text x="536.5" y="184.09" font-size="5.8" text-anchor="end" fill="#1a1a1a" stroke="#1a1a1a" stroke-width="0.12">-15000</text>
<text x="536.5" y="194.29" font-size="5.8" text-anchor="end" fill="#1a1a1a" stroke="#1a1a1a" stroke-width="0.12">-20000</text>
<text x="536.5" y="203.49" font-size="5.8" text-anchor="end" fill="#1a1a1a" stroke="#1a1a1a" stroke-width="0.12">-25000</text>
<text x="545.2" y="210.69" font-size="5.8" text-anchor="middle" fill="#1a1a1a" stroke="#1a1a1a" stroke-width="0.12">0</text>
<text x="576.5" y="210.69" font-size="5.8" text-anchor="middle" fill="#1a1a1a" stroke="#1a1a1a" stroke-width="0.12">50</text>
<text x="607.5" y="210.69" font-size="5.8" text-anchor="middle" fill="#1a1a1a" stroke="#1a1a1a" stroke-width="0.12">100</text>
<text x="637.7" y="210.69" font-size="5.8" text-anchor="middle" fill="#1a1a1a" stroke="#1a1a1a" stroke-width="0.12">150</text>
<text x="667.9" y="210.69" font-size="5.8" text-anchor="middle" fill="#1a1a1a" stroke="#1a1a1a" stroke-width="0.12">200</text>
<clipPath id="cl_k"><rect x="538.1" y="221.1" width="143.6" height="81"/></clipPath>
<g clip-path="url(#cl_k)">
<path d="M544.73 221.1V302.1M574.99 221.1V302.1M605.02 221.1V302.1M635.28 221.1V302.1M665.75 221.1V302.1M538.1 226.63H681.7M538.1 241.42H681.7M538.1 256H681.7M538.1 270.8H681.7M538.1 285.15H681.7M538.1 299.51H681.7" stroke="#e3e3e3" stroke-width="0.6" fill="none"/>
<path d="M545.83 241.42L545.83 241.42L549.15 240.98L550.25 240.32L554.67 239.88L559.08 239.43L560.19 238.77L561.29 235.46L562.4 233.69L564.61 234.36L566.81 233.69L569.02 232.81L570.13 230.6L571.23 229.28L572.34 229.94L573.44 232.15L574.54 235.46L576.75 235.02L580.07 235.9L582.27 237.23L584.48 239.88L586.69 240.98L588.9 238.11L591.11 237.67L595.52 237.67L598.84 238.11L601.05 240.98L603.25 241.42L606.57 241.42L608.78 240.32L610.98 238.77L613.19 235.46L615.4 231.48L617.61 228.39L619.82 226.63L620.92 225.52L622.69 226.18L624.23 227.73L626.44 229.94L628.65 233.25L630.86 236.56L633.07 239.43L634.17 237.67L635.94 233.69L637.49 231.04L639.69 229.94L641.9 229.94L644.11 228.83L645.66 227.73L646.98 228.83L648.53 231.04L650.07 236.56L651.4 238.77L652.28 235.46L654.05 233.69L656.26 234.36L658.47 235.02L660.67 235.46L662.88 236.56L664.65 237.67L666.2 238.77L667.74 239.43L669.51 240.32L670.61 240.98L671.72 241.42L671.72 241.42Z" fill="#5a5aff"/>
<path d="M545.83 241.42L545.83 241.42L549.15 240.98L550.25 240.32L554.67 239.88L559.08 239.43L560.19 238.77L561.29 235.46L562.4 233.69L564.61 234.36L566.81 233.69L569.02 232.81L570.13 230.6L571.23 229.28L572.34 229.94L573.44 232.15L574.54 235.46L576.75 235.02L580.07 235.9L582.27 237.23L584.48 239.88L586.69 240.98L588.9 238.11L591.11 237.67L595.52 237.67L598.84 238.11L601.05 240.98L603.25 241.42L606.57 241.42L608.78 240.32L610.98 238.77L613.19 235.46L615.4 231.48L617.61 228.39L619.82 226.63L620.92 225.52L622.69 226.18L624.23 227.73L626.44 229.94L628.65 233.25L630.86 236.56L633.07 239.43L634.17 237.67L635.94 233.69L637.49 231.04L639.69 229.94L641.9 229.94L644.11 228.83L645.66 227.73L646.98 228.83L648.53 231.04L650.07 236.56L651.4 238.77L652.28 235.46L654.05 233.69L656.26 234.36L658.47 235.02L660.67 235.46L662.88 236.56L664.65 237.67L666.2 238.77L667.74 239.43L669.51 240.32L670.61 240.98L671.72 241.42L671.72 241.42Z" fill="url(#sb)"/>
<path d="M545.83 241.42L545.83 241.42L548.04 242.08L550.25 244.29L552.46 246.94L554.67 247.61L557.98 247.61L561.29 247.61L563.5 248.71L565.71 249.81L569.02 249.81L571.23 248.71L573.44 249.81L574.54 254.23L575.65 258.65L577.86 264.17L580.07 266.38L581.17 267.48L583.38 270.8L584.48 271.9L585.59 267.48L587.35 263.07L588.9 257.54L590 253.13L592.21 252.02L593.98 254.23L595.52 257.54L596.63 261.96L597.73 267.48L598.84 273L599.94 279.63L601.05 286.25L602.15 295.09L603.25 298.4L605.46 298.4L607.23 297.3L608.11 286.25L609.44 275.21L610.98 269.69L612.09 268.59L613.19 267.48L614.3 265.27L615.4 261.96L616.51 266.38L618.27 271.9L619.82 273L621.36 269.69L622.69 271.9L624.23 277.42L625.34 282.94L626.44 281.84L627.99 279.63L629.31 274.11L630.86 269.69L632.41 268.59L634.17 270.8L635.94 274.11L637.49 270.8L638.59 257.54L639.69 252.02L641.9 250.92L644.11 250.92L646.32 249.81L648.53 247.61L650.74 244.29L652.95 243.19L656.26 243.19L659.57 243.85L662.88 243.19L666.2 242.75L669.51 242.08L671.72 241.42L671.72 241.42Z" fill="#f6666f"/>
<path d="M545.83 241.42L545.83 241.42L548.04 242.08L550.25 244.29L552.46 246.94L554.67 247.61L557.98 247.61L561.29 247.61L563.5 248.71L565.71 249.81L569.02 249.81L571.23 248.71L573.44 249.81L574.54 254.23L575.65 258.65L577.86 264.17L580.07 266.38L581.17 267.48L583.38 270.8L584.48 271.9L585.59 267.48L587.35 263.07L588.9 257.54L590 253.13L592.21 252.02L593.98 254.23L595.52 257.54L596.63 261.96L597.73 267.48L598.84 273L599.94 279.63L601.05 286.25L602.15 295.09L603.25 298.4L605.46 298.4L607.23 297.3L608.11 286.25L609.44 275.21L610.98 269.69L612.09 268.59L613.19 267.48L614.3 265.27L615.4 261.96L616.51 266.38L618.27 271.9L619.82 273L621.36 269.69L622.69 271.9L624.23 277.42L625.34 282.94L626.44 281.84L627.99 279.63L629.31 274.11L630.86 269.69L632.41 268.59L634.17 270.8L635.94 274.11L637.49 270.8L638.59 257.54L639.69 252.02L641.9 250.92L644.11 250.92L646.32 249.81L648.53 247.61L650.74 244.29L652.95 243.19L656.26 243.19L659.57 243.85L662.88 243.19L666.2 242.75L669.51 242.08L671.72 241.42L671.72 241.42Z" fill="url(#sr)"/>
<path d="M544.73 221.1V302.1M574.99 221.1V302.1M605.02 221.1V302.1M635.28 221.1V302.1M665.75 221.1V302.1M538.1 226.63H681.7M538.1 241.42H681.7M538.1 256H681.7M538.1 270.8H681.7M538.1 285.15H681.7M538.1 299.51H681.7" stroke="#777" stroke-opacity="0.22" stroke-width="0.6" fill="none"/>
</g>
<rect x="538.1" y="221.1" width="143.6" height="81" fill="none" stroke="#cfcfcf" stroke-width="0.6"/>
<rect x="655.5" y="223.3" width="4.4" height="1.6" fill="#3030ff"/>
<rect x="655.5" y="226.7" width="4.4" height="1.6" fill="#ff3030"/>
<text x="661.7" y="224.9" font-size="2.6" fill="#444">Forward strand</text>
<text x="661.7" y="228.3" font-size="2.6" fill="#444">Reverse strand</text>
<text x="536.2" y="228.59" font-size="5.8" text-anchor="end" fill="#1a1a1a" stroke="#1a1a1a" stroke-width="0.12">2000</text>
<text x="536.2" y="243.89" font-size="5.8" text-anchor="end" fill="#1a1a1a" stroke="#1a1a1a" stroke-width="0.12">0</text>
<text x="536.2" y="258.29" font-size="5.8" text-anchor="end" fill="#1a1a1a" stroke="#1a1a1a" stroke-width="0.12">-2000</text>
<text x="536.2" y="273.29" font-size="5.8" text-anchor="end" fill="#1a1a1a" stroke="#1a1a1a" stroke-width="0.12">-4000</text>
<text x="536.2" y="287.99" font-size="5.8" text-anchor="end" fill="#1a1a1a" stroke="#1a1a1a" stroke-width="0.12">-6000</text>
<text x="536.2" y="302.19" font-size="5.8" text-anchor="end" fill="#1a1a1a" stroke="#1a1a1a" stroke-width="0.12">-8000</text>
<text x="544.4" y="307.89" font-size="5.8" text-anchor="middle" fill="#1a1a1a" stroke="#1a1a1a" stroke-width="0.12">0</text>
<text x="575.4" y="307.89" font-size="5.8" text-anchor="middle" fill="#1a1a1a" stroke="#1a1a1a" stroke-width="0.12">50</text>
<text x="606.2" y="307.89" font-size="5.8" text-anchor="middle" fill="#1a1a1a" stroke="#1a1a1a" stroke-width="0.12">100</text>
<text x="636.9" y="307.89" font-size="5.8" text-anchor="middle" fill="#1a1a1a" stroke="#1a1a1a" stroke-width="0.12">150</text>
<text x="667.9" y="307.89" font-size="5.8" text-anchor="middle" fill="#1a1a1a" stroke="#1a1a1a" stroke-width="0.12">200</text>
<text x="0" y="0" font-size="5.5" text-anchor="middle" fill="#222" stroke="#222" stroke-width="0.25" transform="translate(7.05 56.4) rotate(-90) scale(1 1.18)">Mapping depth (%)</text>
<text x="0" y="0" font-size="5.15" text-anchor="middle" fill="#222" stroke="#222" stroke-width="0.25" transform="translate(7.05 122.7) rotate(-90) scale(1 1.18)">Mapping depth (%)</text>
<text x="0" y="0" font-size="4.75" text-anchor="middle" fill="#222" stroke="#222" stroke-width="0.25" transform="translate(6.95 195.5) rotate(-90) scale(1 1.18)">Mapping depth (%)</text>
<text x="0" y="0" font-size="4.95" text-anchor="middle" fill="#222" stroke="#222" stroke-width="0.25" transform="translate(7.05 264.5) rotate(-90) scale(1 1.18)">Mapping depth (%)</text>
<text x="0" y="0" font-size="5.7" text-anchor="middle" fill="#222" stroke="#222" stroke-width="0.25" transform="translate(265.75 58.2) rotate(-90) scale(1 1.18)">Mapping depth (%)</text>
<text x="0" y="0" font-size="5.6" text-anchor="middle" fill="#222" stroke="#222" stroke-width="0.25" transform="translate(265.45 125.9) rotate(-90) scale(1 1.18)">Mapping depth (%)</text>
<text x="0" y="0" font-size="5.8" text-anchor="middle" fill="#222" stroke="#222" stroke-width="0.25" transform="translate(265.65 195) rotate(-90) scale(1 1.18)">Mapping depth (%)</text>
<text x="0" y="0" font-size="5.05" text-anchor="middle" fill="#222" stroke="#222" stroke-width="0.25" transform="translate(265.75 261.4) rotate(-90) scale(1 1.18)">Mapping depth (%)</text>
<text x="0" y="0" font-size="7.4" text-anchor="middle" fill="#222" stroke="#222" stroke-width="0.15" transform="translate(516.8 167.5) rotate(-90)">Mapping depth</text>
<text x="0" y="0" font-size="7.4" text-anchor="middle" fill="#222" stroke="#222" stroke-width="0.15" transform="translate(518.6 262.3) rotate(-90)">Mapping depth</text>
<text x="608.8" y="121.6" font-size="6.4" text-anchor="middle" fill="#222" font-style="italic" stroke="#222" stroke-width="0.12">Tribolium castaneum</text>
<text x="610.1" y="220.3" font-size="6.5" text-anchor="middle" fill="#222" font-style="italic" stroke="#222" stroke-width="0.12">Psylliodes chrysocephala</text>
<text x="608.7" y="315" font-size="6.4" text-anchor="middle" fill="#222">Position of dsRNA (5'>3')</text>
<text x="74" y="306.6" font-size="5.7" text-anchor="middle" fill="#222">Position of dsRNA (5'>3')</text>
<text x="190.8" y="306.6" font-size="5.7" text-anchor="middle" fill="#222">Position of dsRNA (5'>3')</text>
<text x="332.2" y="305.5" font-size="5.7" text-anchor="middle" fill="#222">Position of dsRNA (5'>3')</text>
<text x="447.5" y="305.5" font-size="5.7" text-anchor="middle" fill="#222">Position of dsRNA (5'>3')</text>
<text x="74.7" y="20.6" font-size="7.3" text-anchor="middle" font-weight="bold" fill="#111">High siRNA score</text>
<text x="188.7" y="20.6" font-size="7.3" text-anchor="middle" font-weight="bold" fill="#111">Low siRNA score</text>
<text x="328.1" y="20.6" font-size="7.3" text-anchor="middle" font-weight="bold" fill="#111">High siRNA score</text>
<text x="443.1" y="20.6" font-size="7.3" text-anchor="middle" font-weight="bold" fill="#111">Low siRNA score</text>
<rect x="209.8" y="4.4" width="14.7" height="5.9" fill="#0000ff"/>
<text x="226.5" y="10.3" font-size="8.1" fill="#111">Sense</text>
<rect x="253.4" y="4.4" width="15.1" height="5.9" fill="#ff0000"/>
<text x="270.6" y="10.3" font-size="8.1" fill="#111">Antisense</text>
<text x="1.31" y="26.97" font-size="16" fill="#111">a</text>
<text x="2.27" y="99.57" font-size="16" fill="#111">b</text>
<text x="1.57" y="170.42" font-size="16" fill="#111">c</text>
<text x="0.78" y="240.52" font-size="16" fill="#111">d</text>
<text x="258.72" y="26.82" font-size="16" fill="#111">e</text>
<text x="261.05" y="100.19" font-size="16" fill="#111">f</text>
<text x="258.88" y="167.03" font-size="16" fill="#111">g</text>
<text x="260.46" y="238.8" font-size="16" fill="#111">h</text>
<text x="510.08" y="20" font-size="16" fill="#111">i</text>
<text x="512.2" y="116.3" font-size="16" fill="#111">j</text>
<text x="510.6" y="226.7" font-size="16" fill="#111">k</text>
<text x="1.32" y="320.5" font-size="16" fill="#111">l</text>
<text x="214.88" y="320" font-size="16" fill="#111">m</text>
<text x="438.64" y="321" font-size="16" fill="#111">n</text>
<path d="M569.4 10.5V88.6H669.2" stroke="#222" stroke-width="1" fill="none"/>
<text x="564.6" y="91.4" font-size="7.9" text-anchor="end" font-weight="bold" fill="#111">0</text>
<text x="564.6" y="75.88" font-size="7.9" text-anchor="end" font-weight="bold" fill="#111">20</text>
<text x="564.6" y="60.36" font-size="7.9" text-anchor="end" font-weight="bold" fill="#111">40</text>
<text x="564.6" y="44.84" font-size="7.9" text-anchor="end" font-weight="bold" fill="#111">60</text>
<text x="564.6" y="29.32" font-size="7.9" text-anchor="end" font-weight="bold" fill="#111">80</text>
<text x="564.6" y="13.8" font-size="7.9" text-anchor="end" font-weight="bold" fill="#111">100</text>
<path d="M565.8 88.6H569.4M565.8 73.08H569.4M565.8 57.56H569.4M565.8 42.04H569.4M565.8 26.52H569.4M565.8 11H569.4M597.5 88.6V91.6M641.1 88.6V91.6" stroke="#222" stroke-width="1" fill="none"/>
<text x="0" y="0" font-size="7.8" font-weight="bold" text-anchor="middle" fill="#111" transform="translate(547 50) rotate(-90)">Antisense reads (%)</text>
<path d="M597.5 16.3V11H641.1V36.8" stroke="#333" stroke-width="1" fill="none"/>
<text x="619.8" y="7" font-size="7.2" text-anchor="middle" fill="#111">.018</text>
<text x="0" y="0" font-size="6.3" font-weight="bold" text-anchor="end" fill="#111" transform="translate(598.8 98.9) rotate(-30)">high score</text>
<text x="0" y="0" font-size="6.3" font-weight="bold" text-anchor="end" fill="#111" transform="translate(642.4 98.9) rotate(-30)">low score</text>
<path d="M597.5 22.9L641.1 64.9M597.5 29.3L641.1 50.9M597.5 35.6L641.1 48.2M597.5 36.6L641.1 61.4M597.5 36.6L641.1 52.4M597.5 51.3L641.1 69.3M597.5 59.2L641.1 42.5M597.5 63.9L641.1 69.3" stroke="#6a95d8" stroke-width="0.7" fill="none"/>
<circle cx="597.5" cy="22.9" r="1.4" fill="#6a95d8"/><circle cx="641.1" cy="64.9" r="1.4" fill="#6a95d8"/>
<circle cx="597.5" cy="29.3" r="1.4" fill="#6a95d8"/><circle cx="641.1" cy="50.9" r="1.4" fill="#6a95d8"/>
<circle cx="597.5" cy="35.6" r="1.4" fill="#6a95d8"/><circle cx="641.1" cy="48.2" r="1.4" fill="#6a95d8"/>
<circle cx="597.5" cy="36.6" r="1.4" fill="#6a95d8"/><circle cx="641.1" cy="61.4" r="1.4" fill="#6a95d8"/>
<circle cx="597.5" cy="36.6" r="1.4" fill="#6a95d8"/><circle cx="641.1" cy="52.4" r="1.4" fill="#6a95d8"/>
<circle cx="597.5" cy="51.3" r="1.4" fill="#6a95d8"/><circle cx="641.1" cy="69.3" r="1.4" fill="#6a95d8"/>
<circle cx="597.5" cy="59.2" r="1.4" fill="#6a95d8"/><circle cx="641.1" cy="42.5" r="1.4" fill="#6a95d8"/>
<circle cx="597.5" cy="63.9" r="1.4" fill="#6a95d8"/><circle cx="641.1" cy="69.3" r="1.4" fill="#6a95d8"/>
<text font-size="1000" font-weight="bold" fill="#c00000" stroke="#c00000" stroke-width="0.45" vector-effect="non-scaling-stroke" transform="matrix(0.01330 0 0 0.01902 5.80 336.26)">U</text>
<text font-size="1000" font-weight="bold" fill="#ffa500" stroke="#ffa500" stroke-width="0.45" vector-effect="non-scaling-stroke" transform="matrix(0.01234 0 0 0.01412 5.80 346.68)">G</text>
<text font-size="1000" font-weight="bold" fill="#21b521" stroke="#21b521" stroke-width="0.45" vector-effect="non-scaling-stroke" transform="matrix(0.01330 0 0 0.01453 5.80 358.64)">A</text>
<text font-size="1000" font-weight="bold" fill="#0000cc" stroke="#0000cc" stroke-width="0.45" vector-effect="non-scaling-stroke" transform="matrix(0.01330 0 0 0.01335 5.80 368.87)">C</text>
<text font-size="1000" font-weight="bold" fill="#c00000" stroke="#c00000" stroke-width="0.45" vector-effect="non-scaling-stroke" transform="matrix(0.01330 0 0 0.01902 15.60 336.26)">U</text>
<text font-size="1000" font-weight="bold" fill="#0000cc" stroke="#0000cc" stroke-width="0.45" vector-effect="non-scaling-stroke" transform="matrix(0.01330 0 0 0.01335 15.60 345.78)">C</text>
<text font-size="1000" font-weight="bold" fill="#21b521" stroke="#21b521" stroke-width="0.45" vector-effect="non-scaling-stroke" transform="matrix(0.01330 0 0 0.01453 15.60 358.64)">A</text>
<text font-size="1000" font-weight="bold" fill="#ffa500" stroke="#ffa500" stroke-width="0.45" vector-effect="non-scaling-stroke" transform="matrix(0.01234 0 0 0.01207 15.60 368.88)">G</text>
<text font-size="1000" font-weight="bold" fill="#c00000" stroke="#c00000" stroke-width="0.45" vector-effect="non-scaling-stroke" transform="matrix(0.01330 0 0 0.01902 25.40 336.26)">U</text>
<text font-size="1000" font-weight="bold" fill="#21b521" stroke="#21b521" stroke-width="0.45" vector-effect="non-scaling-stroke" transform="matrix(0.01330 0 0 0.01586 25.40 349.55)">A</text>
<text font-size="1000" font-weight="bold" fill="#0000cc" stroke="#0000cc" stroke-width="0.45" vector-effect="non-scaling-stroke" transform="matrix(0.01330 0 0 0.01284 25.40 360.33)">C</text>
<text font-size="1000" font-weight="bold" fill="#ffa500" stroke="#ffa500" stroke-width="0.45" vector-effect="non-scaling-stroke" transform="matrix(0.01234 0 0 0.00950 25.40 368.90)">G</text>
<text font-size="1000" font-weight="bold" fill="#c00000" stroke="#c00000" stroke-width="0.45" vector-effect="non-scaling-stroke" transform="matrix(0.01330 0 0 0.01902 35.20 336.26)">U</text>
<text font-size="1000" font-weight="bold" fill="#0000cc" stroke="#0000cc" stroke-width="0.45" vector-effect="non-scaling-stroke" transform="matrix(0.01330 0 0 0.01412 35.20 346.68)">C</text>
<text font-size="1000" font-weight="bold" fill="#21b521" stroke="#21b521" stroke-width="0.45" vector-effect="non-scaling-stroke" transform="matrix(0.01330 0 0 0.01453 35.20 359.55)">A</text>
<text font-size="1000" font-weight="bold" fill="#ffa500" stroke="#ffa500" stroke-width="0.45" vector-effect="non-scaling-stroke" transform="matrix(0.01234 0 0 0.01207 35.20 368.88)">G</text>
<text font-size="1000" font-weight="bold" fill="#c00000" stroke="#c00000" stroke-width="0.45" vector-effect="non-scaling-stroke" transform="matrix(0.01330 0 0 0.01902 45.00 336.26)">U</text>
<text font-size="1000" font-weight="bold" fill="#0000cc" stroke="#0000cc" stroke-width="0.45" vector-effect="non-scaling-stroke" transform="matrix(0.01330 0 0 0.01489 45.00 347.21)">C</text>
<text font-size="1000" font-weight="bold" fill="#21b521" stroke="#21b521" stroke-width="0.45" vector-effect="non-scaling-stroke" transform="matrix(0.01330 0 0 0.01453 45.00 359.55)">A</text>
<text font-size="1000" font-weight="bold" fill="#ffa500" stroke="#ffa500" stroke-width="0.45" vector-effect="non-scaling-stroke" transform="matrix(0.01234 0 0 0.01079 45.00 368.89)">G</text>
<text font-size="1000" font-weight="bold" fill="#c00000" stroke="#c00000" stroke-width="0.45" vector-effect="non-scaling-stroke" transform="matrix(0.01330 0 0 0.01902 54.80 336.26)">U</text>
<text font-size="1000" font-weight="bold" fill="#21b521" stroke="#21b521" stroke-width="0.45" vector-effect="non-scaling-stroke" transform="matrix(0.01330 0 0 0.01453 54.80 347.73)">A</text>
<text font-size="1000" font-weight="bold" fill="#0000cc" stroke="#0000cc" stroke-width="0.45" vector-effect="non-scaling-stroke" transform="matrix(0.01330 0 0 0.01412 54.80 359.40)">C</text>
<text font-size="1000" font-weight="bold" fill="#ffa500" stroke="#ffa500" stroke-width="0.45" vector-effect="non-scaling-stroke" transform="matrix(0.01234 0 0 0.01079 54.80 368.89)">G</text>
<text font-size="1000" font-weight="bold" fill="#c00000" stroke="#c00000" stroke-width="0.45" vector-effect="non-scaling-stroke" transform="matrix(0.01330 0 0 0.01902 64.60 336.26)">U</text>
<text font-size="1000" font-weight="bold" fill="#21b521" stroke="#21b521" stroke-width="0.45" vector-effect="non-scaling-stroke" transform="matrix(0.01330 0 0 0.01453 64.60 347.73)">A</text>
<text font-size="1000" font-weight="bold" fill="#0000cc" stroke="#0000cc" stroke-width="0.45" vector-effect="non-scaling-stroke" transform="matrix(0.01330 0 0 0.01412 64.60 359.40)">C</text>
<text font-size="1000" font-weight="bold" fill="#ffa500" stroke="#ffa500" stroke-width="0.45" vector-effect="non-scaling-stroke" transform="matrix(0.01234 0 0 0.01079 64.60 368.89)">G</text>
<text font-size="1000" font-weight="bold" fill="#c00000" stroke="#c00000" stroke-width="0.45" vector-effect="non-scaling-stroke" transform="matrix(0.01330 0 0 0.01902 74.40 336.26)">U</text>
<text font-size="1000" font-weight="bold" fill="#21b521" stroke="#21b521" stroke-width="0.45" vector-effect="non-scaling-stroke" transform="matrix(0.01330 0 0 0.01453 74.40 347.73)">A</text>
<text font-size="1000" font-weight="bold" fill="#0000cc" stroke="#0000cc" stroke-width="0.45" vector-effect="non-scaling-stroke" transform="matrix(0.01330 0 0 0.01412 74.40 359.40)">C</text>
<text font-size="1000" font-weight="bold" fill="#ffa500" stroke="#ffa500" stroke-width="0.45" vector-effect="non-scaling-stroke" transform="matrix(0.01234 0 0 0.01079 74.40 368.89)">G</text>
<text font-size="1000" font-weight="bold" fill="#c00000" stroke="#c00000" stroke-width="0.45" vector-effect="non-scaling-stroke" transform="matrix(0.01330 0 0 0.01902 84.20 336.26)">U</text>
<text font-size="1000" font-weight="bold" fill="#21b521" stroke="#21b521" stroke-width="0.45" vector-effect="non-scaling-stroke" transform="matrix(0.01330 0 0 0.01586 84.20 348.64)">A</text>
<text font-size="1000" font-weight="bold" fill="#0000cc" stroke="#0000cc" stroke-width="0.45" vector-effect="non-scaling-stroke" transform="matrix(0.01330 0 0 0.01361 84.20 359.95)">C</text>
<text font-size="1000" font-weight="bold" fill="#ffa500" stroke="#ffa500" stroke-width="0.45" vector-effect="non-scaling-stroke" transform="matrix(0.01234 0 0 0.01002 84.20 368.90)">G</text>
<text font-size="1000" font-weight="bold" fill="#c00000" stroke="#c00000" stroke-width="0.45" vector-effect="non-scaling-stroke" transform="matrix(0.01330 0 0 0.01902 94.00 336.26)">U</text>
<text font-size="1000" font-weight="bold" fill="#21b521" stroke="#21b521" stroke-width="0.45" vector-effect="non-scaling-stroke" transform="matrix(0.01330 0 0 0.01453 94.00 347.73)">A</text>
<text font-size="1000" font-weight="bold" fill="#0000cc" stroke="#0000cc" stroke-width="0.45" vector-effect="non-scaling-stroke" transform="matrix(0.01330 0 0 0.01412 94.00 359.40)">C</text>
<text font-size="1000" font-weight="bold" fill="#ffa500" stroke="#ffa500" stroke-width="0.45" vector-effect="non-scaling-stroke" transform="matrix(0.01234 0 0 0.01079 94.00 368.89)">G</text>
<text font-size="1000" font-weight="bold" fill="#c00000" stroke="#c00000" stroke-width="0.45" vector-effect="non-scaling-stroke" transform="matrix(0.01330 0 0 0.01902 103.80 336.26)">U</text>
<text font-size="1000" font-weight="bold" fill="#0000cc" stroke="#0000cc" stroke-width="0.45" vector-effect="non-scaling-stroke" transform="matrix(0.01330 0 0 0.01412 103.80 346.68)">C</text>
<text font-size="1000" font-weight="bold" fill="#21b521" stroke="#21b521" stroke-width="0.45" vector-effect="non-scaling-stroke" transform="matrix(0.01330 0 0 0.01586 103.80 359.55)">A</text>
<text font-size="1000" font-weight="bold" fill="#ffa500" stroke="#ffa500" stroke-width="0.45" vector-effect="non-scaling-stroke" transform="matrix(0.01234 0 0 0.01079 103.80 368.89)">G</text>
<text font-size="1000" font-weight="bold" fill="#c00000" stroke="#c00000" stroke-width="0.45" vector-effect="non-scaling-stroke" transform="matrix(0.01330 0 0 0.01902 113.60 336.26)">U</text>
<text font-size="1000" font-weight="bold" fill="#21b521" stroke="#21b521" stroke-width="0.45" vector-effect="non-scaling-stroke" transform="matrix(0.01330 0 0 0.01453 113.60 348.64)">A</text>
<text font-size="1000" font-weight="bold" fill="#0000cc" stroke="#0000cc" stroke-width="0.45" vector-effect="non-scaling-stroke" transform="matrix(0.01330 0 0 0.01412 113.60 359.40)">C</text>
<text font-size="1000" font-weight="bold" fill="#ffa500" stroke="#ffa500" stroke-width="0.45" vector-effect="non-scaling-stroke" transform="matrix(0.01234 0 0 0.01079 113.60 368.89)">G</text>
<text font-size="1000" font-weight="bold" fill="#c00000" stroke="#c00000" stroke-width="0.45" vector-effect="non-scaling-stroke" transform="matrix(0.01330 0 0 0.01902 123.40 336.26)">U</text>
<text font-size="1000" font-weight="bold" fill="#0000cc" stroke="#0000cc" stroke-width="0.45" vector-effect="non-scaling-stroke" transform="matrix(0.01330 0 0 0.01412 123.40 347.59)">C</text>
<text font-size="1000" font-weight="bold" fill="#21b521" stroke="#21b521" stroke-width="0.45" vector-effect="non-scaling-stroke" transform="matrix(0.01330 0 0 0.01586 123.40 360.45)">A</text>
<text font-size="1000" font-weight="bold" fill="#ffa500" stroke="#ffa500" stroke-width="0.45" vector-effect="non-scaling-stroke" transform="matrix(0.01234 0 0 0.01079 123.40 368.89)">G</text>
<text font-size="1000" font-weight="bold" fill="#0000cc" stroke="#0000cc" stroke-width="0.45" vector-effect="non-scaling-stroke" transform="matrix(0.01330 0 0 0.01746 133.20 335.92)">C</text>
<text font-size="1000" font-weight="bold" fill="#c00000" stroke="#c00000" stroke-width="0.45" vector-effect="non-scaling-stroke" transform="matrix(0.01330 0 0 0.01771 133.20 348.64)">U</text>
<text font-size="1000" font-weight="bold" fill="#21b521" stroke="#21b521" stroke-width="0.45" vector-effect="non-scaling-stroke" transform="matrix(0.01330 0 0 0.01586 133.20 360.45)">A</text>
<text font-size="1000" font-weight="bold" fill="#ffa500" stroke="#ffa500" stroke-width="0.45" vector-effect="non-scaling-stroke" transform="matrix(0.01234 0 0 0.01002 133.20 368.90)">G</text>
<text font-size="1000" font-weight="bold" fill="#c00000" stroke="#c00000" stroke-width="0.45" vector-effect="non-scaling-stroke" transform="matrix(0.01330 0 0 0.01902 143.00 336.26)">U</text>
<text font-size="1000" font-weight="bold" fill="#0000cc" stroke="#0000cc" stroke-width="0.45" vector-effect="non-scaling-stroke" transform="matrix(0.01330 0 0 0.01412 143.00 349.40)">C</text>
<text font-size="1000" font-weight="bold" fill="#21b521" stroke="#21b521" stroke-width="0.45" vector-effect="non-scaling-stroke" transform="matrix(0.01330 0 0 0.01586 143.00 361.36)">A</text>
<text font-size="1000" font-weight="bold" fill="#ffa500" stroke="#ffa500" stroke-width="0.45" vector-effect="non-scaling-stroke" transform="matrix(0.01234 0 0 0.00899 143.00 368.91)">G</text>
<text font-size="1000" font-weight="bold" fill="#c00000" stroke="#c00000" stroke-width="0.45" vector-effect="non-scaling-stroke" transform="matrix(0.01330 0 0 0.01902 152.80 336.26)">U</text>
<text font-size="1000" font-weight="bold" fill="#21b521" stroke="#21b521" stroke-width="0.45" vector-effect="non-scaling-stroke" transform="matrix(0.01330 0 0 0.01453 152.80 347.73)">A</text>
<text font-size="1000" font-weight="bold" fill="#0000cc" stroke="#0000cc" stroke-width="0.45" vector-effect="non-scaling-stroke" transform="matrix(0.01330 0 0 0.01412 152.80 359.40)">C</text>
<text font-size="1000" font-weight="bold" fill="#ffa500" stroke="#ffa500" stroke-width="0.45" vector-effect="non-scaling-stroke" transform="matrix(0.01234 0 0 0.01079 152.80 368.89)">G</text>
<text font-size="1000" font-weight="bold" fill="#c00000" stroke="#c00000" stroke-width="0.45" vector-effect="non-scaling-stroke" transform="matrix(0.01330 0 0 0.01902 162.60 336.26)">U</text>
<text font-size="1000" font-weight="bold" fill="#0000cc" stroke="#0000cc" stroke-width="0.45" vector-effect="non-scaling-stroke" transform="matrix(0.01330 0 0 0.01412 162.60 347.59)">C</text>
<text font-size="1000" font-weight="bold" fill="#21b521" stroke="#21b521" stroke-width="0.45" vector-effect="non-scaling-stroke" transform="matrix(0.01330 0 0 0.01586 162.60 359.55)">A</text>
<text font-size="1000" font-weight="bold" fill="#ffa500" stroke="#ffa500" stroke-width="0.45" vector-effect="non-scaling-stroke" transform="matrix(0.01234 0 0 0.01079 162.60 368.89)">G</text>
<text font-size="1000" font-weight="bold" fill="#c00000" stroke="#c00000" stroke-width="0.45" vector-effect="non-scaling-stroke" transform="matrix(0.01330 0 0 0.01902 172.40 336.26)">U</text>
<text font-size="1000" font-weight="bold" fill="#0000cc" stroke="#0000cc" stroke-width="0.45" vector-effect="non-scaling-stroke" transform="matrix(0.01330 0 0 0.01412 172.40 347.59)">C</text>
<text font-size="1000" font-weight="bold" fill="#21b521" stroke="#21b521" stroke-width="0.45" vector-effect="non-scaling-stroke" transform="matrix(0.01330 0 0 0.01586 172.40 359.55)">A</text>
<text font-size="1000" font-weight="bold" fill="#ffa500" stroke="#ffa500" stroke-width="0.45" vector-effect="non-scaling-stroke" transform="matrix(0.01234 0 0 0.01079 172.40 368.89)">G</text>
<text font-size="1000" font-weight="bold" fill="#c00000" stroke="#c00000" stroke-width="0.45" vector-effect="non-scaling-stroke" transform="matrix(0.01330 0 0 0.01902 182.20 336.26)">U</text>
<text font-size="1000" font-weight="bold" fill="#0000cc" stroke="#0000cc" stroke-width="0.45" vector-effect="non-scaling-stroke" transform="matrix(0.01330 0 0 0.01412 182.20 347.59)">C</text>
<text font-size="1000" font-weight="bold" fill="#21b521" stroke="#21b521" stroke-width="0.45" vector-effect="non-scaling-stroke" transform="matrix(0.01330 0 0 0.01586 182.20 359.55)">A</text>
<text font-size="1000" font-weight="bold" fill="#ffa500" stroke="#ffa500" stroke-width="0.45" vector-effect="non-scaling-stroke" transform="matrix(0.01234 0 0 0.01079 182.20 368.89)">G</text>
<text font-size="1000" font-weight="bold" fill="#c00000" stroke="#c00000" stroke-width="0.45" vector-effect="non-scaling-stroke" transform="matrix(0.01330 0 0 0.01902 192.00 336.26)">U</text>
<text font-size="1000" font-weight="bold" fill="#21b521" stroke="#21b521" stroke-width="0.45" vector-effect="non-scaling-stroke" transform="matrix(0.01330 0 0 0.01453 192.00 347.73)">A</text>
<text font-size="1000" font-weight="bold" fill="#0000cc" stroke="#0000cc" stroke-width="0.45" vector-effect="non-scaling-stroke" transform="matrix(0.01330 0 0 0.01541 192.00 359.39)">C</text>
<text font-size="1000" font-weight="bold" fill="#ffa500" stroke="#ffa500" stroke-width="0.45" vector-effect="non-scaling-stroke" transform="matrix(0.01234 0 0 0.01207 192.00 368.88)">G</text>
<text font-size="1000" font-weight="bold" fill="#c00000" stroke="#c00000" stroke-width="0.45" vector-effect="non-scaling-stroke" transform="matrix(0.01330 0 0 0.01902 201.80 336.26)">U</text>
<text font-size="1000" font-weight="bold" fill="#21b521" stroke="#21b521" stroke-width="0.45" vector-effect="non-scaling-stroke" transform="matrix(0.01330 0 0 0.01718 201.80 348.64)">A</text>
<text font-size="1000" font-weight="bold" fill="#ffa500" stroke="#ffa500" stroke-width="0.45" vector-effect="non-scaling-stroke" transform="matrix(0.01234 0 0 0.01412 201.80 359.40)">G</text>
<text font-size="1000" font-weight="bold" fill="#0000cc" stroke="#0000cc" stroke-width="0.45" vector-effect="non-scaling-stroke" transform="matrix(0.01330 0 0 0.01207 201.80 368.88)">C</text>
<text font-size="1000" font-weight="bold" fill="#c00000" stroke="#c00000" stroke-width="0.45" vector-effect="non-scaling-stroke" transform="matrix(0.01330 0 0 0.02902 227.00 345.93)">U</text>
<text font-size="1000" font-weight="bold" fill="#21b521" stroke="#21b521" stroke-width="0.45" vector-effect="non-scaling-stroke" transform="matrix(0.01330 0 0 0.01545 227.00 357.19)">A</text>
<text font-size="1000" font-weight="bold" fill="#0000cc" stroke="#0000cc" stroke-width="0.45" vector-effect="non-scaling-stroke" transform="matrix(0.01330 0 0 0.01430 227.00 367.52)">C</text>
<text font-size="1000" font-weight="bold" fill="#ffa500" stroke="#ffa500" stroke-width="0.45" vector-effect="non-scaling-stroke" transform="matrix(0.01234 0 0 0.00405 227.00 371.50)">G</text>
<text font-size="1000" font-weight="bold" fill="#c00000" stroke="#c00000" stroke-width="0.45" vector-effect="non-scaling-stroke" transform="matrix(0.01330 0 0 0.02781 236.80 345.10)">U</text>
<text font-size="1000" font-weight="bold" fill="#0000cc" stroke="#0000cc" stroke-width="0.45" vector-effect="non-scaling-stroke" transform="matrix(0.01330 0 0 0.01263 236.80 354.54)">C</text>
<text font-size="1000" font-weight="bold" fill="#ffa500" stroke="#ffa500" stroke-width="0.45" vector-effect="non-scaling-stroke" transform="matrix(0.01234 0 0 0.01073 236.80 362.99)">G</text>
<text font-size="1000" font-weight="bold" fill="#21b521" stroke="#21b521" stroke-width="0.45" vector-effect="non-scaling-stroke" transform="matrix(0.01330 0 0 0.01178 236.80 371.54)">A</text>
<text font-size="1000" font-weight="bold" fill="#c00000" stroke="#c00000" stroke-width="0.45" vector-effect="non-scaling-stroke" transform="matrix(0.01330 0 0 0.01572 246.60 336.78)">U</text>
<text font-size="1000" font-weight="bold" fill="#ffa500" stroke="#ffa500" stroke-width="0.45" vector-effect="non-scaling-stroke" transform="matrix(0.01234 0 0 0.01979 246.60 351.09)">G</text>
<text font-size="1000" font-weight="bold" fill="#0000cc" stroke="#0000cc" stroke-width="0.45" vector-effect="non-scaling-stroke" transform="matrix(0.01330 0 0 0.01311 246.60 361.28)">C</text>
<text font-size="1000" font-weight="bold" fill="#21b521" stroke="#21b521" stroke-width="0.45" vector-effect="non-scaling-stroke" transform="matrix(0.01330 0 0 0.01423 246.60 371.54)">A</text>
<text font-size="1000" font-weight="bold" fill="#c00000" stroke="#c00000" stroke-width="0.45" vector-effect="non-scaling-stroke" transform="matrix(0.01330 0 0 0.01813 256.40 338.45)">U</text>
<text font-size="1000" font-weight="bold" fill="#21b521" stroke="#21b521" stroke-width="0.45" vector-effect="non-scaling-stroke" transform="matrix(0.01330 0 0 0.02036 256.40 352.97)">A</text>
<text font-size="1000" font-weight="bold" fill="#ffa500" stroke="#ffa500" stroke-width="0.45" vector-effect="non-scaling-stroke" transform="matrix(0.01234 0 0 0.01383 256.40 362.96)">G</text>
<text font-size="1000" font-weight="bold" fill="#0000cc" stroke="#0000cc" stroke-width="0.45" vector-effect="non-scaling-stroke" transform="matrix(0.01330 0 0 0.01073 256.40 371.43)">C</text>
<text font-size="1000" font-weight="bold" fill="#c00000" stroke="#c00000" stroke-width="0.45" vector-effect="non-scaling-stroke" transform="matrix(0.01330 0 0 0.01813 266.20 338.45)">U</text>
<text font-size="1000" font-weight="bold" fill="#ffa500" stroke="#ffa500" stroke-width="0.45" vector-effect="non-scaling-stroke" transform="matrix(0.01234 0 0 0.01550 266.20 351.13)">G</text>
<text font-size="1000" font-weight="bold" fill="#21b521" stroke="#21b521" stroke-width="0.45" vector-effect="non-scaling-stroke" transform="matrix(0.01330 0 0 0.01717 266.20 364.79)">A</text>
<text font-size="1000" font-weight="bold" fill="#0000cc" stroke="#0000cc" stroke-width="0.45" vector-effect="non-scaling-stroke" transform="matrix(0.01330 0 0 0.00906 266.20 371.45)">C</text>
<text font-size="1000" font-weight="bold" fill="#c00000" stroke="#c00000" stroke-width="0.45" vector-effect="non-scaling-stroke" transform="matrix(0.01330 0 0 0.01813 276.00 338.45)">U</text>
<text font-size="1000" font-weight="bold" fill="#ffa500" stroke="#ffa500" stroke-width="0.45" vector-effect="non-scaling-stroke" transform="matrix(0.01234 0 0 0.01669 276.00 351.96)">G</text>
<text font-size="1000" font-weight="bold" fill="#0000cc" stroke="#0000cc" stroke-width="0.45" vector-effect="non-scaling-stroke" transform="matrix(0.01330 0 0 0.01311 276.00 362.13)">C</text>
<text font-size="1000" font-weight="bold" fill="#21b521" stroke="#21b521" stroke-width="0.45" vector-effect="non-scaling-stroke" transform="matrix(0.01330 0 0 0.01227 276.00 371.54)">A</text>
<text font-size="1000" font-weight="bold" fill="#c00000" stroke="#c00000" stroke-width="0.45" vector-effect="non-scaling-stroke" transform="matrix(0.01330 0 0 0.02055 285.80 340.11)">U</text>
<text font-size="1000" font-weight="bold" fill="#ffa500" stroke="#ffa500" stroke-width="0.45" vector-effect="non-scaling-stroke" transform="matrix(0.01234 0 0 0.01550 285.80 352.82)">G</text>
<text font-size="1000" font-weight="bold" fill="#21b521" stroke="#21b521" stroke-width="0.45" vector-effect="non-scaling-stroke" transform="matrix(0.01330 0 0 0.01227 285.80 363.95)">A</text>
<text font-size="1000" font-weight="bold" fill="#0000cc" stroke="#0000cc" stroke-width="0.45" vector-effect="non-scaling-stroke" transform="matrix(0.01330 0 0 0.00954 285.80 371.44)">C</text>
<text font-size="1000" font-weight="bold" fill="#ffa500" stroke="#ffa500" stroke-width="0.45" vector-effect="non-scaling-stroke" transform="matrix(0.01234 0 0 0.01871 295.60 339.55)">G</text>
<text font-size="1000" font-weight="bold" fill="#c00000" stroke="#c00000" stroke-width="0.45" vector-effect="non-scaling-stroke" transform="matrix(0.01330 0 0 0.01992 295.60 353.88)">U</text>
<text font-size="1000" font-weight="bold" fill="#21b521" stroke="#21b521" stroke-width="0.45" vector-effect="non-scaling-stroke" transform="matrix(0.01330 0 0 0.01283 295.60 364.02)">A</text>
<text font-size="1000" font-weight="bold" fill="#0000cc" stroke="#0000cc" stroke-width="0.45" vector-effect="non-scaling-stroke" transform="matrix(0.01330 0 0 0.01029 295.60 371.64)">C</text>
<text font-size="1000" font-weight="bold" fill="#c00000" stroke="#c00000" stroke-width="0.45" vector-effect="non-scaling-stroke" transform="matrix(0.01330 0 0 0.01898 305.40 339.55)">U</text>
<text font-size="1000" font-weight="bold" fill="#ffa500" stroke="#ffa500" stroke-width="0.45" vector-effect="non-scaling-stroke" transform="matrix(0.01234 0 0 0.01559 305.40 352.82)">G</text>
<text font-size="1000" font-weight="bold" fill="#21b521" stroke="#21b521" stroke-width="0.45" vector-effect="non-scaling-stroke" transform="matrix(0.01330 0 0 0.01283 305.40 364.02)">A</text>
<text font-size="1000" font-weight="bold" fill="#0000cc" stroke="#0000cc" stroke-width="0.45" vector-effect="non-scaling-stroke" transform="matrix(0.01330 0 0 0.01029 305.40 371.64)">C</text>
<text font-size="1000" font-weight="bold" fill="#c00000" stroke="#c00000" stroke-width="0.45" vector-effect="non-scaling-stroke" transform="matrix(0.01330 0 0 0.01898 315.20 339.55)">U</text>
<text font-size="1000" font-weight="bold" fill="#0000cc" stroke="#0000cc" stroke-width="0.45" vector-effect="non-scaling-stroke" transform="matrix(0.01330 0 0 0.01715 315.20 353.91)">C</text>
<text font-size="1000" font-weight="bold" fill="#ffa500" stroke="#ffa500" stroke-width="0.45" vector-effect="non-scaling-stroke" transform="matrix(0.01234 0 0 0.01341 315.20 363.88)">G</text>
<text font-size="1000" font-weight="bold" fill="#21b521" stroke="#21b521" stroke-width="0.45" vector-effect="non-scaling-stroke" transform="matrix(0.01330 0 0 0.01059 315.20 371.74)">A</text>
<text font-size="1000" font-weight="bold" fill="#c00000" stroke="#c00000" stroke-width="0.45" vector-effect="non-scaling-stroke" transform="matrix(0.01330 0 0 0.02056 325.00 340.63)">U</text>
<text font-size="1000" font-weight="bold" fill="#ffa500" stroke="#ffa500" stroke-width="0.45" vector-effect="non-scaling-stroke" transform="matrix(0.01234 0 0 0.01559 325.00 352.82)">G</text>
<text font-size="1000" font-weight="bold" fill="#0000cc" stroke="#0000cc" stroke-width="0.45" vector-effect="non-scaling-stroke" transform="matrix(0.01330 0 0 0.01403 325.00 363.88)">C</text>
<text font-size="1000" font-weight="bold" fill="#21b521" stroke="#21b521" stroke-width="0.45" vector-effect="non-scaling-stroke" transform="matrix(0.01330 0 0 0.00963 325.00 371.74)">A</text>
<text font-size="1000" font-weight="bold" fill="#ffa500" stroke="#ffa500" stroke-width="0.45" vector-effect="non-scaling-stroke" transform="matrix(0.01234 0 0 0.01871 334.80 339.55)">G</text>
<text font-size="1000" font-weight="bold" fill="#c00000" stroke="#c00000" stroke-width="0.45" vector-effect="non-scaling-stroke" transform="matrix(0.01330 0 0 0.01992 334.80 353.88)">U</text>
<text font-size="1000" font-weight="bold" fill="#0000cc" stroke="#0000cc" stroke-width="0.45" vector-effect="non-scaling-stroke" transform="matrix(0.01330 0 0 0.01247 334.80 363.89)">C</text>
<text font-size="1000" font-weight="bold" fill="#21b521" stroke="#21b521" stroke-width="0.45" vector-effect="non-scaling-stroke" transform="matrix(0.01330 0 0 0.00963 334.80 371.74)">A</text>
<text font-size="1000" font-weight="bold" fill="#c00000" stroke="#c00000" stroke-width="0.45" vector-effect="non-scaling-stroke" transform="matrix(0.01330 0 0 0.01739 344.60 338.46)">U</text>
<text font-size="1000" font-weight="bold" fill="#ffa500" stroke="#ffa500" stroke-width="0.45" vector-effect="non-scaling-stroke" transform="matrix(0.01234 0 0 0.01715 344.60 352.81)">G</text>
<text font-size="1000" font-weight="bold" fill="#21b521" stroke="#21b521" stroke-width="0.45" vector-effect="non-scaling-stroke" transform="matrix(0.01330 0 0 0.01444 344.60 364.02)">A</text>
<text font-size="1000" font-weight="bold" fill="#0000cc" stroke="#0000cc" stroke-width="0.45" vector-effect="non-scaling-stroke" transform="matrix(0.01330 0 0 0.01029 344.60 371.64)">C</text>
<text font-size="1000" font-weight="bold" fill="#c00000" stroke="#c00000" stroke-width="0.45" vector-effect="non-scaling-stroke" transform="matrix(0.01330 0 0 0.01739 354.40 338.46)">U</text>
<text font-size="1000" font-weight="bold" fill="#21b521" stroke="#21b521" stroke-width="0.45" vector-effect="non-scaling-stroke" transform="matrix(0.01330 0 0 0.01765 354.40 352.98)">A</text>
<text font-size="1000" font-weight="bold" fill="#ffa500" stroke="#ffa500" stroke-width="0.45" vector-effect="non-scaling-stroke" transform="matrix(0.01234 0 0 0.01497 354.40 364.53)">G</text>
<text font-size="1000" font-weight="bold" fill="#0000cc" stroke="#0000cc" stroke-width="0.45" vector-effect="non-scaling-stroke" transform="matrix(0.01330 0 0 0.00935 354.40 371.65)">C</text>
<text font-size="1000" font-weight="bold" fill="#c00000" stroke="#c00000" stroke-width="0.45" vector-effect="non-scaling-stroke" transform="matrix(0.01330 0 0 0.01739 364.20 338.46)">U</text>
<text font-size="1000" font-weight="bold" fill="#ffa500" stroke="#ffa500" stroke-width="0.45" vector-effect="non-scaling-stroke" transform="matrix(0.01234 0 0 0.01715 364.20 352.81)">G</text>
<text font-size="1000" font-weight="bold" fill="#21b521" stroke="#21b521" stroke-width="0.45" vector-effect="non-scaling-stroke" transform="matrix(0.01330 0 0 0.01444 364.20 364.02)">A</text>
<text font-size="1000" font-weight="bold" fill="#0000cc" stroke="#0000cc" stroke-width="0.45" vector-effect="non-scaling-stroke" transform="matrix(0.01330 0 0 0.01029 364.20 371.64)">C</text>
<text font-size="1000" font-weight="bold" fill="#c00000" stroke="#c00000" stroke-width="0.45" vector-effect="non-scaling-stroke" transform="matrix(0.01330 0 0 0.01739 374.00 338.46)">U</text>
<text font-size="1000" font-weight="bold" fill="#21b521" stroke="#21b521" stroke-width="0.45" vector-effect="non-scaling-stroke" transform="matrix(0.01330 0 0 0.01765 374.00 352.98)">A</text>
<text font-size="1000" font-weight="bold" fill="#ffa500" stroke="#ffa500" stroke-width="0.45" vector-effect="non-scaling-stroke" transform="matrix(0.01234 0 0 0.01403 374.00 363.88)">G</text>
<text font-size="1000" font-weight="bold" fill="#0000cc" stroke="#0000cc" stroke-width="0.45" vector-effect="non-scaling-stroke" transform="matrix(0.01330 0 0 0.01029 374.00 371.64)">C</text>
<text font-size="1000" font-weight="bold" fill="#c00000" stroke="#c00000" stroke-width="0.45" vector-effect="non-scaling-stroke" transform="matrix(0.01330 0 0 0.01739 383.80 338.46)">U</text>
<text font-size="1000" font-weight="bold" fill="#ffa500" stroke="#ffa500" stroke-width="0.45" vector-effect="non-scaling-stroke" transform="matrix(0.01234 0 0 0.01559 383.80 351.72)">G</text>
<text font-size="1000" font-weight="bold" fill="#0000cc" stroke="#0000cc" stroke-width="0.45" vector-effect="non-scaling-stroke" transform="matrix(0.01330 0 0 0.01559 383.80 363.86)">C</text>
<text font-size="1000" font-weight="bold" fill="#21b521" stroke="#21b521" stroke-width="0.45" vector-effect="non-scaling-stroke" transform="matrix(0.01330 0 0 0.01059 383.80 371.74)">A</text>
<text font-size="1000" font-weight="bold" fill="#c00000" stroke="#c00000" stroke-width="0.45" vector-effect="non-scaling-stroke" transform="matrix(0.01330 0 0 0.01739 393.60 338.46)">U</text>
<text font-size="1000" font-weight="bold" fill="#ffa500" stroke="#ffa500" stroke-width="0.45" vector-effect="non-scaling-stroke" transform="matrix(0.01234 0 0 0.01559 393.60 351.72)">G</text>
<text font-size="1000" font-weight="bold" fill="#0000cc" stroke="#0000cc" stroke-width="0.45" vector-effect="non-scaling-stroke" transform="matrix(0.01330 0 0 0.01403 393.60 362.77)">C</text>
<text font-size="1000" font-weight="bold" fill="#21b521" stroke="#21b521" stroke-width="0.45" vector-effect="non-scaling-stroke" transform="matrix(0.01330 0 0 0.01219 393.60 371.74)">A</text>
<text font-size="1000" font-weight="bold" fill="#21b521" stroke="#21b521" stroke-width="0.45" vector-effect="non-scaling-stroke" transform="matrix(0.01330 0 0 0.01925 403.40 339.74)">A</text>
<text font-size="1000" font-weight="bold" fill="#c00000" stroke="#c00000" stroke-width="0.45" vector-effect="non-scaling-stroke" transform="matrix(0.01330 0 0 0.01581 403.40 351.72)">U</text>
<text font-size="1000" font-weight="bold" fill="#ffa500" stroke="#ffa500" stroke-width="0.45" vector-effect="non-scaling-stroke" transform="matrix(0.01234 0 0 0.01403 403.40 362.77)">G</text>
<text font-size="1000" font-weight="bold" fill="#0000cc" stroke="#0000cc" stroke-width="0.45" vector-effect="non-scaling-stroke" transform="matrix(0.01330 0 0 0.01185 403.40 371.63)">C</text>
<text font-size="1000" font-weight="bold" fill="#c00000" stroke="#c00000" stroke-width="0.45" vector-effect="non-scaling-stroke" transform="matrix(0.01330 0 0 0.01739 413.20 338.46)">U</text>
<text font-size="1000" font-weight="bold" fill="#ffa500" stroke="#ffa500" stroke-width="0.45" vector-effect="non-scaling-stroke" transform="matrix(0.01234 0 0 0.01559 413.20 352.82)">G</text>
<text font-size="1000" font-weight="bold" fill="#0000cc" stroke="#0000cc" stroke-width="0.45" vector-effect="non-scaling-stroke" transform="matrix(0.01330 0 0 0.01403 413.20 363.88)">C</text>
<text font-size="1000" font-weight="bold" fill="#21b521" stroke="#21b521" stroke-width="0.45" vector-effect="non-scaling-stroke" transform="matrix(0.01330 0 0 0.01059 413.20 371.74)">A</text>
<text font-size="1000" font-weight="bold" fill="#c00000" stroke="#c00000" stroke-width="0.45" vector-effect="non-scaling-stroke" transform="matrix(0.01330 0 0 0.01739 423.00 338.46)">U</text>
<text font-size="1000" font-weight="bold" fill="#0000cc" stroke="#0000cc" stroke-width="0.45" vector-effect="non-scaling-stroke" transform="matrix(0.01330 0 0 0.01715 423.00 352.81)">C</text>
<text font-size="1000" font-weight="bold" fill="#ffa500" stroke="#ffa500" stroke-width="0.45" vector-effect="non-scaling-stroke" transform="matrix(0.01234 0 0 0.01403 423.00 363.88)">G</text>
<text font-size="1000" font-weight="bold" fill="#21b521" stroke="#21b521" stroke-width="0.45" vector-effect="non-scaling-stroke" transform="matrix(0.01330 0 0 0.00963 423.00 371.74)">A</text>
<text x="0" y="0" font-size="5.3" font-weight="bold" text-anchor="end" fill="#000" stroke="#000" stroke-width="0.2" transform="translate(12.5 370) rotate(-90)">1</text>
<text x="0" y="0" font-size="5.3" font-weight="bold" text-anchor="end" fill="#000" stroke="#000" stroke-width="0.2" transform="translate(22.3 370) rotate(-90)">2</text>
<text x="0" y="0" font-size="5.3" font-weight="bold" text-anchor="end" fill="#000" stroke="#000" stroke-width="0.2" transform="translate(32.1 370) rotate(-90)">3</text>
<text x="0" y="0" font-size="5.3" font-weight="bold" text-anchor="end" fill="#000" stroke="#000" stroke-width="0.2" transform="translate(41.9 370) rotate(-90)">4</text>
<text x="0" y="0" font-size="5.3" font-weight="bold" text-anchor="end" fill="#000" stroke="#000" stroke-width="0.2" transform="translate(51.7 370) rotate(-90)">5</text>
<text x="0" y="0" font-size="5.3" font-weight="bold" text-anchor="end" fill="#000" stroke="#000" stroke-width="0.2" transform="translate(61.5 370) rotate(-90)">6</text>
<text x="0" y="0" font-size="5.3" font-weight="bold" text-anchor="end" fill="#000" stroke="#000" stroke-width="0.2" transform="translate(71.3 370) rotate(-90)">7</text>
<text x="0" y="0" font-size="5.3" font-weight="bold" text-anchor="end" fill="#000" stroke="#000" stroke-width="0.2" transform="translate(81.1 370) rotate(-90)">8</text>
<text x="0" y="0" font-size="5.3" font-weight="bold" text-anchor="end" fill="#000" stroke="#000" stroke-width="0.2" transform="translate(90.9 370) rotate(-90)">9</text>
<text x="0" y="0" font-size="5.3" font-weight="bold" text-anchor="end" fill="#000" stroke="#000" stroke-width="0.2" transform="translate(100.7 370) rotate(-90)">10</text>
<text x="0" y="0" font-size="5.3" font-weight="bold" text-anchor="end" fill="#000" stroke="#000" stroke-width="0.2" transform="translate(110.5 370) rotate(-90)">11</text>
<text x="0" y="0" font-size="5.3" font-weight="bold" text-anchor="end" fill="#000" stroke="#000" stroke-width="0.2" transform="translate(120.3 370) rotate(-90)">12</text>
<text x="0" y="0" font-size="5.3" font-weight="bold" text-anchor="end" fill="#000" stroke="#000" stroke-width="0.2" transform="translate(130.1 370) rotate(-90)">13</text>
<text x="0" y="0" font-size="5.3" font-weight="bold" text-anchor="end" fill="#000" stroke="#000" stroke-width="0.2" transform="translate(139.9 370) rotate(-90)">14</text>
<text x="0" y="0" font-size="5.3" font-weight="bold" text-anchor="end" fill="#000" stroke="#000" stroke-width="0.2" transform="translate(149.7 370) rotate(-90)">15</text>
<text x="0" y="0" font-size="5.3" font-weight="bold" text-anchor="end" fill="#000" stroke="#000" stroke-width="0.2" transform="translate(159.5 370) rotate(-90)">16</text>
<text x="0" y="0" font-size="5.3" font-weight="bold" text-anchor="end" fill="#000" stroke="#000" stroke-width="0.2" transform="translate(169.3 370) rotate(-90)">17</text>
<text x="0" y="0" font-size="5.3" font-weight="bold" text-anchor="end" fill="#000" stroke="#000" stroke-width="0.2" transform="translate(179.1 370) rotate(-90)">18</text>
<text x="0" y="0" font-size="5.3" font-weight="bold" text-anchor="end" fill="#000" stroke="#000" stroke-width="0.2" transform="translate(188.9 370) rotate(-90)">19</text>
<text x="0" y="0" font-size="5.3" font-weight="bold" text-anchor="end" fill="#000" stroke="#000" stroke-width="0.2" transform="translate(198.7 370) rotate(-90)">20</text>
<text x="0" y="0" font-size="5.3" font-weight="bold" text-anchor="end" fill="#000" stroke="#000" stroke-width="0.2" transform="translate(208.5 370) rotate(-90)">21</text>
<text x="0" y="0" font-size="5.3" font-weight="bold" text-anchor="end" fill="#000" stroke="#000" stroke-width="0.2" transform="translate(233.7 372.4) rotate(-90)">1</text>
<text x="0" y="0" font-size="5.3" font-weight="bold" text-anchor="end" fill="#000" stroke="#000" stroke-width="0.2" transform="translate(243.5 372.4) rotate(-90)">2</text>
<text x="0" y="0" font-size="5.3" font-weight="bold" text-anchor="end" fill="#000" stroke="#000" stroke-width="0.2" transform="translate(253.3 372.4) rotate(-90)">3</text>
<text x="0" y="0" font-size="5.3" font-weight="bold" text-anchor="end" fill="#000" stroke="#000" stroke-width="0.2" transform="translate(263.1 372.4) rotate(-90)">4</text>
<text x="0" y="0" font-size="5.3" font-weight="bold" text-anchor="end" fill="#000" stroke="#000" stroke-width="0.2" transform="translate(272.9 372.4) rotate(-90)">5</text>
<text x="0" y="0" font-size="5.3" font-weight="bold" text-anchor="end" fill="#000" stroke="#000" stroke-width="0.2" transform="translate(282.7 372.4) rotate(-90)">6</text>
<text x="0" y="0" font-size="5.3" font-weight="bold" text-anchor="end" fill="#000" stroke="#000" stroke-width="0.2" transform="translate(292.5 372.4) rotate(-90)">7</text>
<text x="0" y="0" font-size="5.3" font-weight="bold" text-anchor="end" fill="#000" stroke="#000" stroke-width="0.2" transform="translate(302.3 372.4) rotate(-90)">8</text>
<text x="0" y="0" font-size="5.3" font-weight="bold" text-anchor="end" fill="#000" stroke="#000" stroke-width="0.2" transform="translate(312.1 372.4) rotate(-90)">9</text>
<text x="0" y="0" font-size="5.3" font-weight="bold" text-anchor="end" fill="#000" stroke="#000" stroke-width="0.2" transform="translate(321.9 372.4) rotate(-90)">10</text>
<text x="0" y="0" font-size="5.3" font-weight="bold" text-anchor="end" fill="#000" stroke="#000" stroke-width="0.2" transform="translate(331.7 372.4) rotate(-90)">11</text>
<text x="0" y="0" font-size="5.3" font-weight="bold" text-anchor="end" fill="#000" stroke="#000" stroke-width="0.2" transform="translate(341.5 372.4) rotate(-90)">12</text>
<text x="0" y="0" font-size="5.3" font-weight="bold" text-anchor="end" fill="#000" stroke="#000" stroke-width="0.2" transform="translate(351.3 372.4) rotate(-90)">13</text>
<text x="0" y="0" font-size="5.3" font-weight="bold" text-anchor="end" fill="#000" stroke="#000" stroke-width="0.2" transform="translate(361.1 372.4) rotate(-90)">14</text>
<text x="0" y="0" font-size="5.3" font-weight="bold" text-anchor="end" fill="#000" stroke="#000" stroke-width="0.2" transform="translate(370.9 372.4) rotate(-90)">15</text>
<text x="0" y="0" font-size="5.3" font-weight="bold" text-anchor="end" fill="#000" stroke="#000" stroke-width="0.2" transform="translate(380.7 372.4) rotate(-90)">16</text>
<text x="0" y="0" font-size="5.3" font-weight="bold" text-anchor="end" fill="#000" stroke="#000" stroke-width="0.2" transform="translate(390.5 372.4) rotate(-90)">17</text>
<text x="0" y="0" font-size="5.3" font-weight="bold" text-anchor="end" fill="#000" stroke="#000" stroke-width="0.2" transform="translate(400.3 372.4) rotate(-90)">18</text>
<text x="0" y="0" font-size="5.3" font-weight="bold" text-anchor="end" fill="#000" stroke="#000" stroke-width="0.2" transform="translate(410.1 372.4) rotate(-90)">19</text>
<text x="0" y="0" font-size="5.3" font-weight="bold" text-anchor="end" fill="#000" stroke="#000" stroke-width="0.2" transform="translate(419.9 372.4) rotate(-90)">20</text>
<text x="0" y="0" font-size="5.3" font-weight="bold" text-anchor="end" fill="#000" stroke="#000" stroke-width="0.2" transform="translate(429.7 372.4) rotate(-90)">21</text>
<text x="0.5" y="378.5" font-size="5" fill="#111">5'</text>
<text x="213.5" y="377.7" font-size="5" fill="#111">3'</text>
<text x="222" y="380" font-size="5" fill="#111">5'</text>
<text x="433.5" y="378.5" font-size="5" fill="#111">3'</text>
<text x="231.8" y="323.2" font-size="11.5" text-anchor="middle" font-weight="bold" fill="#222">*</text>
<text x="242.4" y="323.2" font-size="11.5" text-anchor="middle" font-weight="bold" fill="#222">*</text>
<text x="300.2" y="323.2" font-size="11.5" text-anchor="middle" font-weight="bold" fill="#222">*</text>
<text x="339.4" y="323.2" font-size="11.5" text-anchor="middle" font-weight="bold" fill="#222">*</text>
<path d="M453.3 329.1H685M453.3 331.4H685" stroke="#9ab6de" stroke-width="0.9"/>
<path d="M453.3 341.9H685M453.3 352.3H685M453.3 362.6H685M453.3 373.2H685M453.3 383.7H685" stroke="#c5d5ee" stroke-width="0.6"/>
<path d="M526.5 319.5V384M567.5 319.5V384M607 319.5V384M647.4 319.5V384" stroke="#b5c9ea" stroke-width="0.6"/>
<text x="490" y="338.6" font-size="6.4" text-anchor="middle" font-weight="bold" fill="#222">Top nt in high siRNA</text>
<text x="490" y="349.1" font-size="6.4" text-anchor="middle" font-weight="bold" fill="#222">% in high siRNA</text>
<text x="490" y="359.7" font-size="6.4" text-anchor="middle" font-weight="bold" fill="#222">% in low siRNA</text>
<text x="490" y="370" font-size="6.4" text-anchor="middle" font-weight="bold" fill="#222">Adjusted P</text>
<text x="490" y="380.9" font-size="6.6" font-weight="bold" text-anchor="middle" fill="#222">χ<tspan font-size="4.6" dy="-2">2</tspan></text>
<text x="490" y="325.7" font-size="6.4" text-anchor="middle" font-weight="bold" fill="#222">Position</text>
<text x="547" y="326" font-size="7.4" font-weight="bold" text-anchor="middle" fill="#222">1<tspan font-size="5" dy="-2.6">st</tspan></text>
<text x="547" y="338.7" font-size="6.8" text-anchor="middle" fill="#222">U</text>
<text x="547" y="349.2" font-size="6.8" text-anchor="middle" fill="#222">44.2</text>
<text x="547" y="359.8" font-size="6.8" text-anchor="middle" fill="#222">28.8</text>
<text x="547" y="370.1" font-size="6.8" text-anchor="middle" fill="#222">&lt; 0.001</text>
<text x="547" y="381" font-size="6.8" text-anchor="middle" fill="#222">31.7</text>
<text x="587.25" y="326" font-size="7.4" font-weight="bold" text-anchor="middle" fill="#222">2<tspan font-size="5" dy="-2.6">nd</tspan></text>
<text x="587.25" y="338.7" font-size="6.8" text-anchor="middle" fill="#222">U</text>
<text x="587.25" y="349.2" font-size="6.8" text-anchor="middle" fill="#222">42.3</text>
<text x="587.25" y="359.8" font-size="6.8" text-anchor="middle" fill="#222">26.2</text>
<text x="587.25" y="370.1" font-size="6.8" text-anchor="middle" fill="#222">&lt; 0.001</text>
<text x="587.25" y="381" font-size="6.8" text-anchor="middle" fill="#222">35.4</text>
<text x="627.2" y="326" font-size="7.4" font-weight="bold" text-anchor="middle" fill="#222">8<tspan font-size="5" dy="-2.6">th</tspan></text>
<text x="627.2" y="338.7" font-size="6.8" text-anchor="middle" fill="#222">G</text>
<text x="627.2" y="349.2" font-size="6.8" text-anchor="middle" fill="#222">32.8</text>
<text x="627.2" y="359.8" font-size="6.8" text-anchor="middle" fill="#222">20.0</text>
<text x="627.2" y="370.1" font-size="6.8" text-anchor="middle" fill="#222">&lt; 0.001</text>
<text x="627.2" y="381" font-size="6.8" text-anchor="middle" fill="#222">26.0</text>
<text x="667.6" y="326" font-size="7.4" font-weight="bold" text-anchor="middle" fill="#222">12<tspan font-size="5" dy="-2.6">th</tspan></text>
<text x="667.6" y="338.7" font-size="6.8" text-anchor="middle" fill="#222">G</text>
<text x="667.6" y="349.2" font-size="6.8" text-anchor="middle" fill="#222">31.7</text>
<text x="667.6" y="359.8" font-size="6.8" text-anchor="middle" fill="#222">19.0</text>
<text x="667.6" y="370.1" font-size="6.8" text-anchor="middle" fill="#222">&lt; 0.001</text>
<text x="667.6" y="381" font-size="6.8" text-anchor="middle" fill="#222">26.1</text>
</svg>
</body></html>
